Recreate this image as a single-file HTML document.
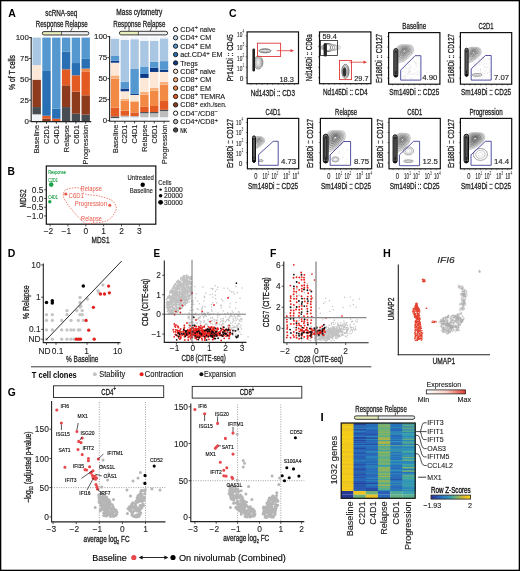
<!DOCTYPE html>
<html><head><meta charset="utf-8"><style>
html,body{margin:0;padding:0;background:#fff;}
svg{display:block;font-family:"Liberation Sans", sans-serif;filter:grayscale(0.001);}
</style></head><body>
<svg width="520" height="571" viewBox="0 0 520 571">
<rect x="0" y="0" width="520" height="571" fill="#fff"/>
<text x="8.20" y="16.60" font-size="11.5" font-weight="bold" fill="#000" textLength="7.60" lengthAdjust="spacingAndGlyphs">A</text>
<text x="61.30" y="15.80" font-size="9.0" text-anchor="middle" fill="#222" textLength="32.00" lengthAdjust="spacingAndGlyphs" stroke="#222" stroke-width="0.3">scRNA-seq</text>
<text x="35.70" y="26.80" font-size="9.0" fill="#222" textLength="52.00" lengthAdjust="spacingAndGlyphs" stroke="#222" stroke-width="0.3">Response Relapse</text>
<line x1="51.50" y1="27.60" x2="51.50" y2="31.60" stroke="#222" stroke-width="0.7"/>
<line x1="72.50" y1="27.60" x2="70.50" y2="31.60" stroke="#222" stroke-width="0.7"/>
<rect x="42.30" y="31.60" width="19.30" height="3.40" fill="#e9eebf"/>
<rect x="61.60" y="31.60" width="27.30" height="3.40" fill="#efefef"/>
<rect x="42.30" y="31.60" width="46.60" height="3.40" rx="1.70" fill="none" stroke="#222" stroke-width="0.9"/>
<line x1="61.60" y1="31.60" x2="61.60" y2="35.00" stroke="#222" stroke-width="0.7"/>
<rect x="32.50" y="114.33" width="8.40" height="6.67" fill="#f1f5fa"/>
<rect x="32.50" y="107.07" width="8.40" height="7.26" fill="#484d53"/>
<rect x="32.50" y="79.63" width="8.40" height="27.44" fill="#8e3a1d"/>
<rect x="32.50" y="65.12" width="8.40" height="14.51" fill="#fde8d8"/>
<rect x="32.50" y="37.60" width="8.40" height="27.52" fill="#a9c7e3"/>
<rect x="42.30" y="118.50" width="8.40" height="2.50" fill="#8e3a1d"/>
<rect x="42.30" y="115.75" width="8.40" height="2.75" fill="#e35b22"/>
<rect x="42.30" y="70.96" width="8.40" height="44.79" fill="#2870b3"/>
<rect x="42.30" y="37.60" width="8.40" height="33.36" fill="#5597cf"/>
<rect x="52.10" y="118.75" width="8.40" height="2.25" fill="#e35b22"/>
<rect x="52.10" y="108.74" width="8.40" height="10.01" fill="#2870b3"/>
<rect x="52.10" y="37.60" width="8.40" height="71.14" fill="#5597cf"/>
<rect x="61.90" y="107.07" width="8.40" height="13.93" fill="#484d53"/>
<rect x="61.90" y="85.30" width="8.40" height="21.77" fill="#8e3a1d"/>
<rect x="61.90" y="69.29" width="8.40" height="16.01" fill="#e35b22"/>
<rect x="61.90" y="51.78" width="8.40" height="17.51" fill="#2870b3"/>
<rect x="61.90" y="37.60" width="8.40" height="14.18" fill="#5597cf"/>
<rect x="71.70" y="113.74" width="8.40" height="7.26" fill="#484d53"/>
<rect x="71.70" y="91.64" width="8.40" height="22.10" fill="#8e3a1d"/>
<rect x="71.70" y="75.30" width="8.40" height="16.35" fill="#e35b22"/>
<rect x="71.70" y="63.04" width="8.40" height="12.26" fill="#2870b3"/>
<rect x="71.70" y="37.60" width="8.40" height="25.44" fill="#5597cf"/>
<rect x="81.50" y="114.66" width="8.40" height="6.34" fill="#484d53"/>
<rect x="81.50" y="95.31" width="8.40" height="19.35" fill="#8e3a1d"/>
<rect x="81.50" y="71.38" width="8.40" height="23.94" fill="#e35b22"/>
<rect x="81.50" y="68.62" width="8.40" height="2.75" fill="#f28a45"/>
<rect x="81.50" y="58.87" width="8.40" height="9.76" fill="#2870b3"/>
<rect x="81.50" y="37.60" width="8.40" height="21.27" fill="#5597cf"/>
<line x1="31.20" y1="37.10" x2="31.20" y2="121.60" stroke="#222" stroke-width="1.1"/>
<line x1="30.70" y1="121.60" x2="91.30" y2="121.60" stroke="#222" stroke-width="1.1"/>
<line x1="29.00" y1="121.00" x2="31.20" y2="121.00" stroke="#222" stroke-width="0.9"/>
<text x="28.80" y="123.80" font-size="7.9" text-anchor="end" fill="#222" stroke="#222" stroke-width="0.14">0</text>
<line x1="29.00" y1="100.15" x2="31.20" y2="100.15" stroke="#222" stroke-width="0.9"/>
<text x="28.80" y="102.95" font-size="7.9" text-anchor="end" fill="#222" stroke="#222" stroke-width="0.14">25</text>
<line x1="29.00" y1="79.30" x2="31.20" y2="79.30" stroke="#222" stroke-width="0.9"/>
<text x="28.80" y="82.10" font-size="7.9" text-anchor="end" fill="#222" stroke="#222" stroke-width="0.14">50</text>
<line x1="29.00" y1="58.45" x2="31.20" y2="58.45" stroke="#222" stroke-width="0.9"/>
<text x="28.80" y="61.25" font-size="7.9" text-anchor="end" fill="#222" stroke="#222" stroke-width="0.14">75</text>
<line x1="29.00" y1="37.60" x2="31.20" y2="37.60" stroke="#222" stroke-width="0.9"/>
<text x="28.80" y="40.40" font-size="7.9" text-anchor="end" fill="#222" stroke="#222" stroke-width="0.14">100</text>
<line x1="36.70" y1="121.60" x2="36.70" y2="123.80" stroke="#222" stroke-width="0.9"/>
<text x="39.30" y="125.00" font-size="7.4" text-anchor="end" fill="#222" stroke="#222" stroke-width="0.14" transform="rotate(-90 39.30 125.00)">Baseline</text>
<line x1="46.50" y1="121.60" x2="46.50" y2="123.80" stroke="#222" stroke-width="0.9"/>
<text x="49.10" y="125.00" font-size="7.4" text-anchor="end" fill="#222" stroke="#222" stroke-width="0.14" transform="rotate(-90 49.10 125.00)">C2D1</text>
<line x1="56.30" y1="121.60" x2="56.30" y2="123.80" stroke="#222" stroke-width="0.9"/>
<text x="58.90" y="125.00" font-size="7.4" text-anchor="end" fill="#222" stroke="#222" stroke-width="0.14" transform="rotate(-90 58.90 125.00)">C4D1</text>
<line x1="66.10" y1="121.60" x2="66.10" y2="123.80" stroke="#222" stroke-width="0.9"/>
<text x="68.70" y="125.00" font-size="7.4" text-anchor="end" fill="#222" stroke="#222" stroke-width="0.14" transform="rotate(-90 68.70 125.00)">Relapse</text>
<line x1="75.90" y1="121.60" x2="75.90" y2="123.80" stroke="#222" stroke-width="0.9"/>
<text x="78.50" y="125.00" font-size="7.4" text-anchor="end" fill="#222" stroke="#222" stroke-width="0.14" transform="rotate(-90 78.50 125.00)">C6D1</text>
<line x1="85.70" y1="121.60" x2="85.70" y2="123.80" stroke="#222" stroke-width="0.9"/>
<text x="88.30" y="125.00" font-size="7.4" text-anchor="end" fill="#222" stroke="#222" stroke-width="0.14" transform="rotate(-90 88.30 125.00)">Progression</text>
<text x="14.60" y="72.50" font-size="9.0" text-anchor="middle" fill="#222" textLength="35.00" lengthAdjust="spacingAndGlyphs" stroke="#222" stroke-width="0.3" transform="rotate(-90 14.60 72.50)">% of T cells</text>
<text x="139.30" y="14.80" font-size="9.0" text-anchor="middle" fill="#222" textLength="46.00" lengthAdjust="spacingAndGlyphs" stroke="#222" stroke-width="0.3">Mass cytometry</text>
<text x="113.20" y="26.80" font-size="9.0" fill="#222" textLength="52.20" lengthAdjust="spacingAndGlyphs" stroke="#222" stroke-width="0.3">Response Relapse</text>
<line x1="129.00" y1="27.00" x2="129.00" y2="31.30" stroke="#222" stroke-width="0.7"/>
<line x1="151.80" y1="27.00" x2="150.00" y2="31.30" stroke="#222" stroke-width="0.7"/>
<rect x="119.40" y="31.30" width="19.00" height="3.60" fill="#e9eebf"/>
<rect x="138.40" y="31.30" width="29.20" height="3.60" fill="#efefef"/>
<rect x="119.40" y="31.30" width="48.20" height="3.60" rx="1.80" fill="none" stroke="#222" stroke-width="0.9"/>
<line x1="138.40" y1="31.30" x2="138.40" y2="34.90" stroke="#222" stroke-width="0.7"/>
<rect x="110.80" y="118.08" width="8.40" height="2.52" fill="#f1f5fa"/>
<rect x="110.80" y="116.40" width="8.40" height="1.68" fill="#484d53"/>
<rect x="110.80" y="107.66" width="8.40" height="8.74" fill="#e35b22"/>
<rect x="110.80" y="78.68" width="8.40" height="28.98" fill="#f28a45"/>
<rect x="110.80" y="75.41" width="8.40" height="3.28" fill="#f8b07a"/>
<rect x="110.80" y="62.72" width="8.40" height="12.68" fill="#fde8d8"/>
<rect x="110.80" y="60.79" width="8.40" height="1.93" fill="#0d3a86"/>
<rect x="110.80" y="56.00" width="8.40" height="4.79" fill="#5597cf"/>
<rect x="110.80" y="38.78" width="8.40" height="17.22" fill="#a9c7e3"/>
<rect x="110.80" y="36.60" width="8.40" height="2.18" fill="#f1f5fa"/>
<rect x="120.60" y="117.24" width="8.40" height="3.36" fill="#f1f5fa"/>
<rect x="120.60" y="115.73" width="8.40" height="1.51" fill="#bdbdbd"/>
<rect x="120.60" y="110.69" width="8.40" height="5.04" fill="#e35b22"/>
<rect x="120.60" y="100.61" width="8.40" height="10.08" fill="#f28a45"/>
<rect x="120.60" y="98.93" width="8.40" height="1.68" fill="#f8b07a"/>
<rect x="120.60" y="91.28" width="8.40" height="7.64" fill="#fde8d8"/>
<rect x="120.60" y="88.51" width="8.40" height="2.77" fill="#0d3a86"/>
<rect x="120.60" y="81.62" width="8.40" height="6.89" fill="#5597cf"/>
<rect x="120.60" y="39.96" width="8.40" height="41.66" fill="#a9c7e3"/>
<rect x="120.60" y="36.60" width="8.40" height="3.36" fill="#f1f5fa"/>
<rect x="130.40" y="117.24" width="8.40" height="3.36" fill="#f1f5fa"/>
<rect x="130.40" y="115.98" width="8.40" height="1.26" fill="#bdbdbd"/>
<rect x="130.40" y="112.37" width="8.40" height="3.61" fill="#e35b22"/>
<rect x="130.40" y="101.36" width="8.40" height="11.00" fill="#f28a45"/>
<rect x="130.40" y="94.98" width="8.40" height="6.38" fill="#fde8d8"/>
<rect x="130.40" y="93.89" width="8.40" height="1.09" fill="#0d3a86"/>
<rect x="130.40" y="69.02" width="8.40" height="24.86" fill="#5597cf"/>
<rect x="130.40" y="39.20" width="8.40" height="29.82" fill="#a9c7e3"/>
<rect x="130.40" y="36.60" width="8.40" height="2.60" fill="#f1f5fa"/>
<rect x="140.20" y="117.24" width="8.40" height="3.36" fill="#f1f5fa"/>
<rect x="140.20" y="113.21" width="8.40" height="4.03" fill="#bdbdbd"/>
<rect x="140.20" y="112.03" width="8.40" height="1.18" fill="#484d53"/>
<rect x="140.20" y="106.82" width="8.40" height="5.21" fill="#e35b22"/>
<rect x="140.20" y="94.73" width="8.40" height="12.10" fill="#f28a45"/>
<rect x="140.20" y="91.70" width="8.40" height="3.02" fill="#f8b07a"/>
<rect x="140.20" y="77.93" width="8.40" height="13.78" fill="#fde8d8"/>
<rect x="140.20" y="73.98" width="8.40" height="3.95" fill="#0d3a86"/>
<rect x="140.20" y="67.01" width="8.40" height="6.97" fill="#5597cf"/>
<rect x="140.20" y="40.97" width="8.40" height="26.04" fill="#a9c7e3"/>
<rect x="140.20" y="36.60" width="8.40" height="4.37" fill="#f1f5fa"/>
<rect x="150.00" y="117.24" width="8.40" height="3.36" fill="#f1f5fa"/>
<rect x="150.00" y="113.21" width="8.40" height="4.03" fill="#bdbdbd"/>
<rect x="150.00" y="112.03" width="8.40" height="1.18" fill="#484d53"/>
<rect x="150.00" y="105.98" width="8.40" height="6.05" fill="#e35b22"/>
<rect x="150.00" y="90.78" width="8.40" height="15.20" fill="#f28a45"/>
<rect x="150.00" y="88.01" width="8.40" height="2.77" fill="#f8b07a"/>
<rect x="150.00" y="71.96" width="8.40" height="16.04" fill="#fde8d8"/>
<rect x="150.00" y="67.76" width="8.40" height="4.20" fill="#0d3a86"/>
<rect x="150.00" y="61.88" width="8.40" height="5.88" fill="#5597cf"/>
<rect x="150.00" y="40.97" width="8.40" height="20.92" fill="#a9c7e3"/>
<rect x="150.00" y="36.60" width="8.40" height="4.37" fill="#f1f5fa"/>
<rect x="159.80" y="117.24" width="8.40" height="3.36" fill="#f1f5fa"/>
<rect x="159.80" y="111.02" width="8.40" height="6.22" fill="#bdbdbd"/>
<rect x="159.80" y="109.76" width="8.40" height="1.26" fill="#484d53"/>
<rect x="159.80" y="101.03" width="8.40" height="8.74" fill="#e35b22"/>
<rect x="159.80" y="84.56" width="8.40" height="16.46" fill="#f28a45"/>
<rect x="159.80" y="81.79" width="8.40" height="2.77" fill="#f8b07a"/>
<rect x="159.80" y="71.96" width="8.40" height="9.83" fill="#fde8d8"/>
<rect x="159.80" y="69.78" width="8.40" height="2.18" fill="#0d3a86"/>
<rect x="159.80" y="61.13" width="8.40" height="8.65" fill="#5597cf"/>
<rect x="159.80" y="38.36" width="8.40" height="22.76" fill="#a9c7e3"/>
<rect x="159.80" y="36.60" width="8.40" height="1.76" fill="#f1f5fa"/>
<line x1="109.60" y1="36.10" x2="109.60" y2="121.20" stroke="#222" stroke-width="1.1"/>
<line x1="109.10" y1="121.20" x2="169.60" y2="121.20" stroke="#222" stroke-width="1.1"/>
<line x1="107.40" y1="120.60" x2="109.60" y2="120.60" stroke="#222" stroke-width="0.9"/>
<text x="107.20" y="123.40" font-size="7.9" text-anchor="end" fill="#222" stroke="#222" stroke-width="0.14">0</text>
<line x1="107.40" y1="99.60" x2="109.60" y2="99.60" stroke="#222" stroke-width="0.9"/>
<text x="107.20" y="102.40" font-size="7.9" text-anchor="end" fill="#222" stroke="#222" stroke-width="0.14">25</text>
<line x1="107.40" y1="78.60" x2="109.60" y2="78.60" stroke="#222" stroke-width="0.9"/>
<text x="107.20" y="81.40" font-size="7.9" text-anchor="end" fill="#222" stroke="#222" stroke-width="0.14">50</text>
<line x1="107.40" y1="57.60" x2="109.60" y2="57.60" stroke="#222" stroke-width="0.9"/>
<text x="107.20" y="60.40" font-size="7.9" text-anchor="end" fill="#222" stroke="#222" stroke-width="0.14">75</text>
<line x1="107.40" y1="36.60" x2="109.60" y2="36.60" stroke="#222" stroke-width="0.9"/>
<text x="107.20" y="39.40" font-size="7.9" text-anchor="end" fill="#222" stroke="#222" stroke-width="0.14">100</text>
<line x1="115.00" y1="121.20" x2="115.00" y2="123.40" stroke="#222" stroke-width="0.9"/>
<text x="117.60" y="124.60" font-size="7.4" text-anchor="end" fill="#222" stroke="#222" stroke-width="0.14" transform="rotate(-90 117.60 124.60)">Baseline</text>
<line x1="124.80" y1="121.20" x2="124.80" y2="123.40" stroke="#222" stroke-width="0.9"/>
<text x="127.40" y="124.60" font-size="7.4" text-anchor="end" fill="#222" stroke="#222" stroke-width="0.14" transform="rotate(-90 127.40 124.60)">C2D1</text>
<line x1="134.60" y1="121.20" x2="134.60" y2="123.40" stroke="#222" stroke-width="0.9"/>
<text x="137.20" y="124.60" font-size="7.4" text-anchor="end" fill="#222" stroke="#222" stroke-width="0.14" transform="rotate(-90 137.20 124.60)">C4D1</text>
<line x1="144.40" y1="121.20" x2="144.40" y2="123.40" stroke="#222" stroke-width="0.9"/>
<text x="147.00" y="124.60" font-size="7.4" text-anchor="end" fill="#222" stroke="#222" stroke-width="0.14" transform="rotate(-90 147.00 124.60)">Relapse</text>
<line x1="154.20" y1="121.20" x2="154.20" y2="123.40" stroke="#222" stroke-width="0.9"/>
<text x="156.80" y="124.60" font-size="7.4" text-anchor="end" fill="#222" stroke="#222" stroke-width="0.14" transform="rotate(-90 156.80 124.60)">C6D1</text>
<line x1="164.00" y1="121.20" x2="164.00" y2="123.40" stroke="#222" stroke-width="0.9"/>
<text x="166.60" y="124.60" font-size="7.4" text-anchor="end" fill="#222" stroke="#222" stroke-width="0.14" transform="rotate(-90 166.60 124.60)">Progression</text>
<circle cx="175.60" cy="29.40" r="2.15" fill="#ffffff" stroke="#1a1a1a" stroke-width="1.0"/>
<text x="180.2" y="32.00" font-size="7.2" fill="#1a1a1a" stroke="#1a1a1a" stroke-width="0.14">CD4<tspan font-size="6" dy="-2.6">+</tspan><tspan font-size="6.6" dy="2.6"> naive</tspan></text>
<circle cx="175.60" cy="37.78" r="2.15" fill="#bcd7ee" stroke="#1a1a1a" stroke-width="1.0"/>
<text x="180.2" y="40.38" font-size="7.2" fill="#1a1a1a" stroke="#1a1a1a" stroke-width="0.14">CD4<tspan font-size="6" dy="-2.6">+</tspan><tspan font-size="7.2" dy="2.6"> CM</tspan></text>
<circle cx="175.60" cy="46.16" r="2.15" fill="#5597cf" stroke="#1a1a1a" stroke-width="1.0"/>
<text x="180.2" y="48.76" font-size="7.2" fill="#1a1a1a" stroke="#1a1a1a" stroke-width="0.14">CD4<tspan font-size="6" dy="-2.6">+</tspan><tspan font-size="7.2" dy="2.6"> EM</tspan></text>
<circle cx="175.60" cy="54.54" r="2.15" fill="#2870b3" stroke="#1a1a1a" stroke-width="1.0"/>
<text x="180.2" y="57.14" font-size="7.2" fill="#1a1a1a" stroke="#1a1a1a" stroke-width="0.14">act.CD4<tspan font-size="6" dy="-2.6">+</tspan><tspan font-size="7.2" dy="2.6"> EM</tspan></text>
<circle cx="175.60" cy="62.92" r="2.15" fill="#0d3a86" stroke="#1a1a1a" stroke-width="1.0"/>
<text x="180.20" y="65.52" font-size="7.0" fill="#222" stroke="#222" stroke-width="0.14">Tregs</text>
<circle cx="175.60" cy="71.30" r="2.15" fill="#fde8d8" stroke="#1a1a1a" stroke-width="1.0"/>
<text x="180.2" y="73.90" font-size="7.2" fill="#1a1a1a" stroke="#1a1a1a" stroke-width="0.14">CD8<tspan font-size="6" dy="-2.6">+</tspan><tspan font-size="6.6" dy="2.6"> naive</tspan></text>
<circle cx="175.60" cy="79.68" r="2.15" fill="#f8b07a" stroke="#1a1a1a" stroke-width="1.0"/>
<text x="180.2" y="82.28" font-size="7.2" fill="#1a1a1a" stroke="#1a1a1a" stroke-width="0.14">CD8<tspan font-size="6" dy="-2.6">+</tspan><tspan font-size="7.2" dy="2.6"> CM</tspan></text>
<circle cx="175.60" cy="88.06" r="2.15" fill="#f28a45" stroke="#1a1a1a" stroke-width="1.0"/>
<text x="180.2" y="90.66" font-size="7.2" fill="#1a1a1a" stroke="#1a1a1a" stroke-width="0.14">CD8<tspan font-size="6" dy="-2.6">+</tspan><tspan font-size="7.2" dy="2.6"> EM</tspan></text>
<circle cx="175.60" cy="96.44" r="2.15" fill="#e35b22" stroke="#1a1a1a" stroke-width="1.0"/>
<text x="180.2" y="99.04" font-size="7.2" fill="#1a1a1a" stroke="#1a1a1a" stroke-width="0.14">CD8<tspan font-size="6" dy="-2.6">+</tspan><tspan font-size="7.2" dy="2.6"> TEMRA</tspan></text>
<circle cx="175.60" cy="104.82" r="2.15" fill="#8e3a1d" stroke="#1a1a1a" stroke-width="1.0"/>
<text x="180.2" y="107.42" font-size="7.2" fill="#1a1a1a" stroke="#1a1a1a" stroke-width="0.14">CD8<tspan font-size="6" dy="-2.6">+</tspan><tspan font-size="6.6" dy="2.6"> exh./sen.</tspan></text>
<circle cx="175.60" cy="113.20" r="2.15" fill="#ffffff" stroke="#1a1a1a" stroke-width="1.0"/>
<text x="180.2" y="115.80" font-size="7.2" fill="#1a1a1a" stroke="#1a1a1a" stroke-width="0.14">CD4<tspan font-size="6" dy="-2.6">−</tspan><tspan dy="2.6">/CD8</tspan><tspan font-size="6" dy="-2.6">−</tspan></text>
<circle cx="175.60" cy="121.58" r="2.15" fill="#bdbdbd" stroke="#1a1a1a" stroke-width="1.0"/>
<text x="180.2" y="124.18" font-size="7.2" fill="#1a1a1a" stroke="#1a1a1a" stroke-width="0.14">CD4<tspan font-size="6" dy="-2.6">+</tspan><tspan dy="2.6">/CD8</tspan><tspan font-size="6" dy="-2.6">+</tspan></text>
<circle cx="175.60" cy="129.96" r="2.15" fill="#484d53" stroke="#1a1a1a" stroke-width="1.0"/>
<text x="180.20" y="132.56" font-size="6.8" font-weight="bold" fill="#222" textLength="7.00" lengthAdjust="spacingAndGlyphs">NK</text>
<text x="229.00" y="17.20" font-size="11.5" font-weight="bold" fill="#000" textLength="7.60" lengthAdjust="spacingAndGlyphs">C</text>
<ellipse cx="258.30" cy="62.50" rx="4.60" ry="6.50" fill="none" stroke="#282828" stroke-width="0.5"/>
<ellipse cx="258.30" cy="62.50" rx="3.83" ry="5.42" fill="none" stroke="#4a4a4a" stroke-width="0.5"/>
<ellipse cx="258.30" cy="62.50" rx="3.07" ry="4.33" fill="none" stroke="#6c6c6c" stroke-width="0.5"/>
<ellipse cx="258.30" cy="62.50" rx="2.30" ry="3.25" fill="none" stroke="#8e8e8e" stroke-width="0.5"/>
<ellipse cx="258.30" cy="62.50" rx="1.53" ry="2.17" fill="none" stroke="#b0b0b0" stroke-width="0.5"/>
<ellipse cx="258.30" cy="62.50" rx="0.77" ry="1.08" fill="none" stroke="#d2d2d2" stroke-width="0.5"/>
<rect x="252.4" y="48.6" width="2.6" height="23" rx="1.3" fill="#222"/>
<ellipse cx="265.00" cy="50.80" rx="6.00" ry="2.00" fill="none" stroke="#282828" stroke-width="0.6"/>
<ellipse cx="265.00" cy="50.80" rx="4.50" ry="1.50" fill="none" stroke="#606060" stroke-width="0.6"/>
<ellipse cx="265.00" cy="50.80" rx="3.00" ry="1.00" fill="none" stroke="#999999" stroke-width="0.6"/>
<ellipse cx="265.00" cy="50.80" rx="1.50" ry="0.50" fill="none" stroke="#d2d2d2" stroke-width="0.6"/>
<rect x="257.50" y="43.20" width="23.10" height="13.30" fill="none" stroke="#e03a3a" stroke-width="0.9"/>
<line x1="276.80" y1="50.70" x2="291.50" y2="50.70" stroke="#e03a3a" stroke-width="0.8"/>
<polygon points="294,50.7 290.5,49.1 290.5,52.3" fill="#e03a3a"/>
<text x="293.80" y="81.60" font-size="7.4" text-anchor="end" fill="#222" stroke="#222" stroke-width="0.14">18.3</text>
<line x1="251.10" y1="83.70" x2="251.10" y2="85.10" stroke="#333" stroke-width="0.5"/>
<line x1="256.52" y1="83.70" x2="256.52" y2="85.10" stroke="#333" stroke-width="0.5"/>
<line x1="261.95" y1="83.70" x2="261.95" y2="85.10" stroke="#333" stroke-width="0.5"/>
<line x1="267.38" y1="83.70" x2="267.38" y2="85.10" stroke="#333" stroke-width="0.5"/>
<line x1="272.80" y1="83.70" x2="272.80" y2="85.10" stroke="#333" stroke-width="0.5"/>
<line x1="278.23" y1="83.70" x2="278.23" y2="85.10" stroke="#333" stroke-width="0.5"/>
<line x1="283.65" y1="83.70" x2="283.65" y2="85.10" stroke="#333" stroke-width="0.5"/>
<line x1="289.07" y1="83.70" x2="289.07" y2="85.10" stroke="#333" stroke-width="0.5"/>
<line x1="294.50" y1="83.70" x2="294.50" y2="85.10" stroke="#333" stroke-width="0.5"/>
<line x1="245.60" y1="35.90" x2="247.10" y2="35.90" stroke="#333" stroke-width="0.6"/>
<line x1="245.60" y1="46.35" x2="247.10" y2="46.35" stroke="#333" stroke-width="0.6"/>
<line x1="245.60" y1="56.80" x2="247.10" y2="56.80" stroke="#333" stroke-width="0.6"/>
<line x1="245.60" y1="67.25" x2="247.10" y2="67.25" stroke="#333" stroke-width="0.6"/>
<line x1="245.60" y1="77.70" x2="247.10" y2="77.70" stroke="#333" stroke-width="0.6"/>
<rect x="247.10" y="31.90" width="51.40" height="51.80" fill="none" stroke="#111" stroke-width="1.2"/>
<text x="242.40" y="36.70" font-size="8.0" text-anchor="end" fill="#222" stroke="#222" stroke-width="0.12" textLength="5.3" lengthAdjust="spacingAndGlyphs">10</text>
<text x="242.60" y="32.70" font-size="4.6" fill="#222" textLength="1.8" lengthAdjust="spacingAndGlyphs">4</text>
<text x="242.40" y="49.50" font-size="8.0" text-anchor="end" fill="#222" stroke="#222" stroke-width="0.12" textLength="5.3" lengthAdjust="spacingAndGlyphs">10</text>
<text x="242.60" y="45.50" font-size="4.6" fill="#222" textLength="1.8" lengthAdjust="spacingAndGlyphs">3</text>
<text x="242.40" y="61.00" font-size="8.0" text-anchor="end" fill="#222" stroke="#222" stroke-width="0.12" textLength="5.3" lengthAdjust="spacingAndGlyphs">10</text>
<text x="242.60" y="57.00" font-size="4.6" fill="#222" textLength="1.8" lengthAdjust="spacingAndGlyphs">2</text>
<text x="242.40" y="71.20" font-size="8.0" text-anchor="end" fill="#222" stroke="#222" stroke-width="0.12" textLength="5.3" lengthAdjust="spacingAndGlyphs">10</text>
<text x="242.60" y="67.20" font-size="4.6" fill="#222" textLength="1.8" lengthAdjust="spacingAndGlyphs">1</text>
<text x="243.40" y="80.60" font-size="8.0" text-anchor="end" fill="#222" textLength="3.60" lengthAdjust="spacingAndGlyphs" stroke="#222" stroke-width="0.12">0</text>
<text x="233.20" y="57.80" font-size="9.2" text-anchor="middle" fill="#222" textLength="47.00" lengthAdjust="spacingAndGlyphs" stroke="#222" stroke-width="0.3" transform="rotate(-90 233.20 57.80)">Pr141Di :: CD45</text>
<text x="272.80" y="95.60" font-size="9.2" text-anchor="middle" fill="#222" textLength="44.30" lengthAdjust="spacingAndGlyphs" stroke="#222" stroke-width="0.3">Nd143Di :: CD3</text>
<ellipse cx="327.50" cy="47.50" rx="3.00" ry="4.00" fill="none" stroke="#1e1e1e" stroke-width="0.6"/>
<ellipse cx="328.10" cy="47.50" rx="4.50" ry="3.80" fill="none" stroke="#3e3e3e" stroke-width="0.6"/>
<ellipse cx="328.70" cy="47.50" rx="6.00" ry="3.60" fill="none" stroke="#5e5e5e" stroke-width="0.6"/>
<ellipse cx="329.30" cy="47.50" rx="7.50" ry="3.40" fill="none" stroke="#7e7e7e" stroke-width="0.6"/>
<ellipse cx="329.90" cy="47.50" rx="9.00" ry="3.20" fill="none" stroke="#9e9e9e" stroke-width="0.6"/>
<ellipse cx="330.50" cy="47.50" rx="10.50" ry="3.00" fill="none" stroke="#bebebe" stroke-width="0.6"/>
<rect x="323.6" y="43" width="3.3" height="13.5" rx="1.6" fill="#222"/>
<rect x="320.50" y="40.40" width="16.90" height="15.10" fill="none" stroke="#222" stroke-width="0.8"/>
<text x="329.70" y="39.30" font-size="7.4" text-anchor="middle" fill="#222" stroke="#222" stroke-width="0.14">59.4</text>
<ellipse cx="345.40" cy="71.30" rx="3.60" ry="7.00" fill="none" stroke="#282828" stroke-width="0.6"/>
<ellipse cx="345.40" cy="71.30" rx="2.88" ry="5.60" fill="none" stroke="#525252" stroke-width="0.6"/>
<ellipse cx="345.40" cy="71.30" rx="2.16" ry="4.20" fill="none" stroke="#7d7d7d" stroke-width="0.6"/>
<ellipse cx="345.40" cy="71.30" rx="1.44" ry="2.80" fill="none" stroke="#a7a7a7" stroke-width="0.6"/>
<ellipse cx="345.40" cy="71.30" rx="0.72" ry="1.40" fill="none" stroke="#d2d2d2" stroke-width="0.6"/>
<ellipse cx="344.6" cy="72" rx="1.8" ry="4.5" fill="#333"/>
<rect x="339.50" y="60.40" width="12.00" height="19.20" fill="none" stroke="#e03a3a" stroke-width="0.9"/>
<line x1="349.50" y1="62.20" x2="364.50" y2="62.20" stroke="#e03a3a" stroke-width="0.8"/>
<polygon points="367,62.2 363.5,60.6 363.5,63.8" fill="#e03a3a"/>
<text x="368.60" y="81.20" font-size="7.4" text-anchor="end" fill="#222" stroke="#222" stroke-width="0.14">29.7</text>
<line x1="323.50" y1="83.70" x2="323.50" y2="85.10" stroke="#333" stroke-width="0.5"/>
<line x1="328.93" y1="83.70" x2="328.93" y2="85.10" stroke="#333" stroke-width="0.5"/>
<line x1="334.35" y1="83.70" x2="334.35" y2="85.10" stroke="#333" stroke-width="0.5"/>
<line x1="339.77" y1="83.70" x2="339.77" y2="85.10" stroke="#333" stroke-width="0.5"/>
<line x1="345.20" y1="83.70" x2="345.20" y2="85.10" stroke="#333" stroke-width="0.5"/>
<line x1="350.62" y1="83.70" x2="350.62" y2="85.10" stroke="#333" stroke-width="0.5"/>
<line x1="356.05" y1="83.70" x2="356.05" y2="85.10" stroke="#333" stroke-width="0.5"/>
<line x1="361.48" y1="83.70" x2="361.48" y2="85.10" stroke="#333" stroke-width="0.5"/>
<line x1="366.90" y1="83.70" x2="366.90" y2="85.10" stroke="#333" stroke-width="0.5"/>
<line x1="318.00" y1="35.90" x2="319.50" y2="35.90" stroke="#333" stroke-width="0.6"/>
<line x1="318.00" y1="46.35" x2="319.50" y2="46.35" stroke="#333" stroke-width="0.6"/>
<line x1="318.00" y1="56.80" x2="319.50" y2="56.80" stroke="#333" stroke-width="0.6"/>
<line x1="318.00" y1="67.25" x2="319.50" y2="67.25" stroke="#333" stroke-width="0.6"/>
<line x1="318.00" y1="77.70" x2="319.50" y2="77.70" stroke="#333" stroke-width="0.6"/>
<rect x="319.50" y="31.90" width="51.40" height="51.80" fill="none" stroke="#111" stroke-width="1.2"/>
<text x="312.20" y="57.80" font-size="9.2" text-anchor="middle" fill="#222" textLength="47.00" lengthAdjust="spacingAndGlyphs" stroke="#222" stroke-width="0.3" transform="rotate(-90 312.20 57.80)">Nd146Di :: CD8a</text>
<text x="345.30" y="95.40" font-size="9.2" text-anchor="middle" fill="#222" textLength="44.60" lengthAdjust="spacingAndGlyphs" stroke="#222" stroke-width="0.3">Nd145Di :: CD4</text>
<path d="M419.8 76.6h0.5 M409.1 65.0h0.5 M417.3 74.9h0.5 M419.2 75.0h0.5 M404.6 69.5h0.5 M407.8 63.7h0.5 M410.3 73.8h0.5 M417.6 63.4h0.5 M414.4 73.8h0.5 M410.8 79.1h0.5 M410.4 65.9h0.5 M402.9 78.5h0.5 M403.6 59.3h0.5 M408.1 68.5h0.5 M419.1 74.7h0.5 M405.9 59.5h0.5 M412.6 73.4h0.5 M406.3 59.0h0.5 M404.1 64.0h0.5 M415.5 62.5h0.5 M408.5 64.9h0.5 M415.4 63.8h0.5 M402.2 71.4h0.5 M407.6 74.1h0.5 M410.5 70.5h0.5 M403.8 61.3h0.5 M405.1 78.5h0.5 M419.5 61.9h0.5 M406.0 59.7h0.5 M407.3 62.7h0.5 M418.1 58.1h0.5 M404.9 75.0h0.5 M405.3 68.0h0.5 M416.5 57.9h0.5 M415.8 65.2h0.5 M412.6 78.8h0.5 M416.0 66.3h0.5 M409.6 74.9h0.5 M403.5 61.4h0.5 M410.5 67.4h0.5 M414.1 74.1h0.5 M408.2 71.7h0.5 M402.6 60.5h0.5 M405.7 75.1h0.5 M403.6 76.4h0.5 M405.5 67.1h0.5 M409.5 68.7h0.5 M412.8 74.2h0.5 M405.6 62.0h0.5 M402.6 62.4h0.5 M413.7 68.9h0.5 M415.5 62.8h0.5 M410.8 65.7h0.5 M406.2 68.6h0.5 M408.4 62.2h0.5 M416.7 74.2h0.5 M405.4 76.9h0.5 M409.5 70.6h0.5 M404.6 66.7h0.5 M417.6 72.0h0.5 M415.7 67.4h0.5 M406.7 72.0h0.5 M418.8 71.6h0.5 M412.9 58.6h0.5 M409.4 69.6h0.5 M419.6 67.9h0.5 M418.7 59.3h0.5 M416.4 60.9h0.5 M404.0 62.0h0.5 M408.5 72.3h0.5 M403.3 67.6h0.5 M404.7 77.7h0.5 M411.6 78.4h0.5 M410.0 77.9h0.5 M405.4 73.1h0.5 M407.1 74.0h0.5 M403.8 78.2h0.5 M410.9 68.0h0.5 M417.0 71.0h0.5 M414.2 62.1h0.5 M402.7 68.6h0.5 M409.6 72.3h0.5 M409.2 72.0h0.5 M410.7 67.4h0.5 M404.4 71.5h0.5 M406.2 61.1h0.5 M403.3 71.9h0.5 M416.5 64.0h0.5 M404.2 75.8h0.5 M403.4 61.9h0.5 M407.3 68.1h0.5 M405.6 68.1h0.5 M409.3 77.3h0.5 M407.3 76.6h0.5 M414.8 72.8h0.5 M402.8 77.2h0.5 M419.0 72.5h0.5 M408.2 73.0h0.5 M410.1 71.6h0.5 M408.7 71.4h0.5 M403.4 58.8h0.5 M417.4 73.7h0.5 M411.1 74.6h0.5 M404.1 61.4h0.5 M414.8 70.0h0.5 M413.2 60.7h0.5 M414.2 76.7h0.5 M413.9 61.5h0.5 M408.0 67.8h0.5 M408.3 74.1h0.5" stroke="#b0b0b0" stroke-width="0.45"/>
<path d="M395.30 52.60 Q395.30 44.60 403.45 44.60 Q411.60 44.60 412.60 46.10 Q413.60 47.60 413.50 50.73 Q413.40 53.85 408.49 57.73 Q403.59 61.60 399.94 62.60 Q396.30 63.60 395.80 62.10 Q395.30 60.60 395.30 52.60Z" fill="#3a3a3a" fill-opacity="0.070" stroke="#969696" stroke-width="0.5"/>
<path d="M396.61 52.33 Q396.61 45.47 403.59 45.47 Q410.58 45.47 411.44 46.76 Q412.29 48.04 412.21 50.72 Q412.12 53.40 407.92 56.72 Q403.71 60.04 400.59 60.90 Q397.46 61.76 397.04 60.47 Q396.61 59.19 396.61 52.33Z" fill="#3a3a3a" fill-opacity="0.070" stroke="#838383" stroke-width="0.5"/>
<path d="M397.91 52.06 Q397.91 46.34 403.74 46.34 Q409.56 46.34 410.27 47.41 Q410.99 48.49 410.91 50.72 Q410.84 52.95 407.34 55.72 Q403.83 58.49 401.23 59.20 Q398.63 59.91 398.27 58.84 Q397.91 57.77 397.91 52.06Z" fill="#3a3a3a" fill-opacity="0.070" stroke="#717171" stroke-width="0.5"/>
<path d="M399.22 51.79 Q399.22 47.21 403.88 47.21 Q408.54 47.21 409.11 48.07 Q409.68 48.93 409.62 50.71 Q409.56 52.50 406.76 54.71 Q403.96 56.93 401.87 57.50 Q399.79 58.07 399.51 57.21 Q399.22 56.36 399.22 51.79Z" fill="#3a3a3a" fill-opacity="0.070" stroke="#5f5f5f" stroke-width="0.5"/>
<path d="M400.53 51.51 Q400.53 48.09 404.02 48.09 Q407.51 48.09 407.94 48.73 Q408.37 49.37 408.33 50.71 Q408.29 52.05 406.18 53.71 Q404.08 55.37 402.52 55.80 Q400.96 56.23 400.74 55.59 Q400.53 54.94 400.53 51.51Z" fill="#3a3a3a" fill-opacity="0.070" stroke="#4c4c4c" stroke-width="0.5"/>
<path d="M401.84 51.24 Q401.84 48.96 404.16 48.96 Q406.49 48.96 406.78 49.39 Q407.06 49.81 407.04 50.71 Q407.01 51.60 405.61 52.71 Q404.20 53.81 403.16 54.10 Q402.12 54.39 401.98 53.96 Q401.84 53.53 401.84 51.24Z" fill="#3a3a3a" fill-opacity="0.070" stroke="#3a3a3a" stroke-width="0.5"/>
<path d="M403.14 50.97 Q403.14 49.83 404.31 49.83 Q405.47 49.83 405.61 50.04 Q405.76 50.26 405.74 50.70 Q405.73 51.15 405.03 51.70 Q404.33 52.26 403.81 52.40 Q403.29 52.54 403.21 52.33 Q403.14 52.11 403.14 50.97Z" fill="#f4f4f4" fill-opacity="0.900" stroke="#282828" stroke-width="0.5"/>
<rect x="393.80" y="48.60" width="4.00" height="28.50" rx="2.00" fill="#7a7a7a" stroke="#111" stroke-width="1.0"/>
<rect x="394.90" y="50.60" width="1.80" height="23.50" rx="0.90" fill="#2a2a2a" stroke="#111" stroke-width="0.4"/>
<line x1="395.80" y1="52.60" x2="395.80" y2="71.10" stroke="#9a9a9a" stroke-width="0.5"/>
<ellipse cx="395.80" cy="75.80" rx="1.6" ry="1.3" fill="#111"/>
<polygon points="400.70,70.10 415.10,55.70 420.90,55.70 420.90,80.10 400.70,80.10" fill="none" stroke="#4a4a9a" stroke-width="0.95"/>
<text x="437.40" y="79.60" font-size="7.8" text-anchor="end" fill="#222" stroke="#222" stroke-width="0.14">4.90</text>
<line x1="392.60" y1="84.20" x2="392.60" y2="85.60" stroke="#333" stroke-width="0.5"/>
<line x1="398.01" y1="84.20" x2="398.01" y2="85.60" stroke="#333" stroke-width="0.5"/>
<line x1="403.43" y1="84.20" x2="403.43" y2="85.60" stroke="#333" stroke-width="0.5"/>
<line x1="408.84" y1="84.20" x2="408.84" y2="85.60" stroke="#333" stroke-width="0.5"/>
<line x1="414.25" y1="84.20" x2="414.25" y2="85.60" stroke="#333" stroke-width="0.5"/>
<line x1="419.66" y1="84.20" x2="419.66" y2="85.60" stroke="#333" stroke-width="0.5"/>
<line x1="425.08" y1="84.20" x2="425.08" y2="85.60" stroke="#333" stroke-width="0.5"/>
<line x1="430.49" y1="84.20" x2="430.49" y2="85.60" stroke="#333" stroke-width="0.5"/>
<line x1="435.90" y1="84.20" x2="435.90" y2="85.60" stroke="#333" stroke-width="0.5"/>
<line x1="387.10" y1="36.60" x2="388.60" y2="36.60" stroke="#333" stroke-width="0.6"/>
<line x1="387.10" y1="47.00" x2="388.60" y2="47.00" stroke="#333" stroke-width="0.6"/>
<line x1="387.10" y1="57.40" x2="388.60" y2="57.40" stroke="#333" stroke-width="0.6"/>
<line x1="387.10" y1="67.80" x2="388.60" y2="67.80" stroke="#333" stroke-width="0.6"/>
<line x1="387.10" y1="78.20" x2="388.60" y2="78.20" stroke="#333" stroke-width="0.6"/>
<rect x="388.60" y="32.60" width="51.30" height="51.60" fill="none" stroke="#111" stroke-width="1.2"/>
<text x="414.25" y="29.20" font-size="9.2" text-anchor="middle" fill="#222" textLength="23.80" lengthAdjust="spacingAndGlyphs" stroke="#222" stroke-width="0.3">Baseline</text>
<text x="382.10" y="58.40" font-size="9.2" text-anchor="middle" fill="#222" textLength="49.00" lengthAdjust="spacingAndGlyphs" stroke="#222" stroke-width="0.3" transform="rotate(-90 382.10 58.40)">Er168Di :: CD127</text>
<text x="414.25" y="95.20" font-size="9.2" text-anchor="middle" fill="#222" textLength="50.00" lengthAdjust="spacingAndGlyphs" stroke="#222" stroke-width="0.3">Sm149Di :: CD25</text>
<path d="M479.9 64.4h0.5 M481.1 62.6h0.5 M485.8 78.0h0.5 M482.9 58.3h0.5 M489.0 69.4h0.5 M480.5 69.5h0.5 M472.5 68.0h0.5 M473.5 71.0h0.5 M474.4 64.7h0.5 M483.7 76.4h0.5 M480.4 69.8h0.5 M487.9 59.1h0.5 M480.1 73.2h0.5 M477.6 76.9h0.5 M480.6 70.9h0.5 M478.9 63.8h0.5 M483.7 61.1h0.5 M474.8 64.3h0.5 M489.6 62.8h0.5 M483.5 65.9h0.5 M483.7 63.4h0.5 M485.6 71.7h0.5 M485.3 66.5h0.5 M485.5 70.5h0.5 M477.1 75.5h0.5 M488.3 64.2h0.5 M487.0 67.5h0.5 M479.1 78.4h0.5 M479.6 61.5h0.5 M474.4 75.8h0.5 M483.6 58.8h0.5 M479.4 59.5h0.5 M489.4 72.5h0.5 M484.5 73.2h0.5 M484.8 59.7h0.5 M489.5 59.0h0.5 M481.8 75.0h0.5 M487.4 72.2h0.5 M474.8 68.3h0.5 M484.4 66.0h0.5 M474.8 58.9h0.5 M488.7 67.3h0.5 M481.2 59.1h0.5 M486.3 63.5h0.5 M489.6 70.2h0.5 M483.3 64.4h0.5 M485.6 60.4h0.5 M475.0 76.9h0.5 M473.8 65.9h0.5 M480.7 72.8h0.5 M486.7 60.8h0.5 M486.4 64.5h0.5 M487.1 66.3h0.5 M480.4 71.8h0.5 M487.0 73.7h0.5 M475.6 64.4h0.5 M479.3 63.8h0.5 M475.5 77.6h0.5 M481.1 73.5h0.5 M474.7 64.1h0.5 M477.9 75.7h0.5 M485.6 67.6h0.5 M479.6 59.2h0.5 M478.0 69.9h0.5 M478.0 59.8h0.5 M482.0 77.8h0.5 M488.9 58.7h0.5 M477.9 70.7h0.5 M474.1 62.8h0.5 M476.4 75.3h0.5 M483.9 74.0h0.5 M489.6 71.5h0.5 M475.9 69.8h0.5 M480.1 69.1h0.5 M475.7 62.4h0.5 M480.9 62.5h0.5 M482.4 74.7h0.5 M488.8 59.7h0.5 M473.6 64.0h0.5 M484.6 67.5h0.5 M480.6 69.0h0.5 M488.0 72.2h0.5 M478.1 58.4h0.5 M489.7 78.9h0.5 M486.9 73.2h0.5 M483.4 69.0h0.5 M474.9 77.1h0.5 M482.4 72.5h0.5 M483.7 58.7h0.5 M489.5 74.7h0.5" stroke="#b0b0b0" stroke-width="0.45"/>
<path d="M466.05 53.85 Q466.05 47.10 472.67 47.10 Q479.30 47.10 480.30 48.60 Q481.30 50.10 481.20 52.60 Q481.10 55.10 477.03 58.35 Q472.96 61.60 470.01 62.60 Q467.05 63.60 466.55 62.10 Q466.05 60.60 466.05 53.85Z" fill="#3a3a3a" fill-opacity="0.050" stroke="#969696" stroke-width="0.5"/>
<path d="M467.14 53.64 Q467.14 47.86 472.82 47.86 Q478.50 47.86 479.35 49.14 Q480.21 50.43 480.12 52.57 Q480.04 54.71 476.55 57.50 Q473.06 60.29 470.53 61.14 Q468.00 62.00 467.57 60.71 Q467.14 59.43 467.14 53.64Z" fill="#3a3a3a" fill-opacity="0.050" stroke="#838383" stroke-width="0.5"/>
<path d="M468.23 53.44 Q468.23 48.61 472.96 48.61 Q477.69 48.61 478.41 49.69 Q479.12 50.76 479.05 52.54 Q478.98 54.33 476.07 56.65 Q473.17 58.97 471.05 59.69 Q468.94 60.40 468.59 59.33 Q468.23 58.26 468.23 53.44Z" fill="#3a3a3a" fill-opacity="0.050" stroke="#717171" stroke-width="0.5"/>
<path d="M469.32 53.23 Q469.32 49.37 473.10 49.37 Q476.89 49.37 477.46 50.23 Q478.03 51.09 477.97 52.51 Q477.92 53.94 475.59 55.80 Q473.27 57.66 471.58 58.23 Q469.89 58.80 469.60 57.94 Q469.32 57.09 469.32 53.23Z" fill="#3a3a3a" fill-opacity="0.050" stroke="#5f5f5f" stroke-width="0.5"/>
<path d="M470.41 53.02 Q470.41 50.13 473.25 50.13 Q476.09 50.13 476.51 50.77 Q476.94 51.41 476.90 52.49 Q476.86 53.56 475.11 54.95 Q473.37 56.34 472.10 56.77 Q470.84 57.20 470.62 56.56 Q470.41 55.91 470.41 53.02Z" fill="#3a3a3a" fill-opacity="0.050" stroke="#4c4c4c" stroke-width="0.5"/>
<path d="M471.50 52.81 Q471.50 50.89 473.39 50.89 Q475.28 50.89 475.57 51.31 Q475.85 51.74 475.82 52.46 Q475.80 53.17 474.63 54.10 Q473.47 55.03 472.63 55.31 Q471.78 55.60 471.64 55.17 Q471.50 54.74 471.50 52.81Z" fill="#3a3a3a" fill-opacity="0.050" stroke="#3a3a3a" stroke-width="0.5"/>
<path d="M472.59 52.61 Q472.59 51.64 473.53 51.64 Q474.48 51.64 474.62 51.86 Q474.76 52.07 474.75 52.43 Q474.74 52.79 474.15 53.25 Q473.57 53.71 473.15 53.86 Q472.73 54.00 472.66 53.79 Q472.59 53.57 472.59 52.61Z" fill="#f4f4f4" fill-opacity="0.900" stroke="#282828" stroke-width="0.5"/>
<ellipse cx="477.00" cy="74.90" rx="5.00" ry="1.40" fill="none" stroke="#5a5a5a" stroke-width="0.55"/>
<ellipse cx="477.00" cy="74.90" rx="3.33" ry="0.93" fill="none" stroke="#969696" stroke-width="0.55"/>
<ellipse cx="477.00" cy="74.90" rx="1.67" ry="0.47" fill="none" stroke="#d2d2d2" stroke-width="0.55"/>
<rect x="465.00" y="48.20" width="3.10" height="28.20" rx="1.55" fill="#7a7a7a" stroke="#111" stroke-width="1.0"/>
<rect x="466.10" y="50.20" width="0.90" height="23.20" rx="0.45" fill="#2a2a2a" stroke="#111" stroke-width="0.4"/>
<line x1="466.55" y1="52.20" x2="466.55" y2="70.40" stroke="#9a9a9a" stroke-width="0.5"/>
<ellipse cx="466.55" cy="75.10" rx="1.6" ry="1.3" fill="#111"/>
<polygon points="471.20,68.90 485.40,55.50 491.20,55.50 491.20,80.10 471.20,80.10" fill="none" stroke="#4a4a9a" stroke-width="0.95"/>
<text x="509.20" y="79.60" font-size="7.8" text-anchor="end" fill="#222" stroke="#222" stroke-width="0.14">7.07</text>
<line x1="464.40" y1="84.20" x2="464.40" y2="85.60" stroke="#333" stroke-width="0.5"/>
<line x1="469.81" y1="84.20" x2="469.81" y2="85.60" stroke="#333" stroke-width="0.5"/>
<line x1="475.22" y1="84.20" x2="475.22" y2="85.60" stroke="#333" stroke-width="0.5"/>
<line x1="480.64" y1="84.20" x2="480.64" y2="85.60" stroke="#333" stroke-width="0.5"/>
<line x1="486.05" y1="84.20" x2="486.05" y2="85.60" stroke="#333" stroke-width="0.5"/>
<line x1="491.46" y1="84.20" x2="491.46" y2="85.60" stroke="#333" stroke-width="0.5"/>
<line x1="496.88" y1="84.20" x2="496.88" y2="85.60" stroke="#333" stroke-width="0.5"/>
<line x1="502.29" y1="84.20" x2="502.29" y2="85.60" stroke="#333" stroke-width="0.5"/>
<line x1="507.70" y1="84.20" x2="507.70" y2="85.60" stroke="#333" stroke-width="0.5"/>
<line x1="458.90" y1="36.60" x2="460.40" y2="36.60" stroke="#333" stroke-width="0.6"/>
<line x1="458.90" y1="47.00" x2="460.40" y2="47.00" stroke="#333" stroke-width="0.6"/>
<line x1="458.90" y1="57.40" x2="460.40" y2="57.40" stroke="#333" stroke-width="0.6"/>
<line x1="458.90" y1="67.80" x2="460.40" y2="67.80" stroke="#333" stroke-width="0.6"/>
<line x1="458.90" y1="78.20" x2="460.40" y2="78.20" stroke="#333" stroke-width="0.6"/>
<rect x="460.40" y="32.60" width="51.30" height="51.60" fill="none" stroke="#111" stroke-width="1.2"/>
<text x="486.05" y="29.20" font-size="9.2" text-anchor="middle" fill="#222" textLength="15.00" lengthAdjust="spacingAndGlyphs" stroke="#222" stroke-width="0.3">C2D1</text>
<text x="454.50" y="58.40" font-size="9.2" text-anchor="middle" fill="#222" textLength="49.00" lengthAdjust="spacingAndGlyphs" stroke="#222" stroke-width="0.3" transform="rotate(-90 454.50 58.40)">Er168Di :: CD127</text>
<text x="486.05" y="95.20" font-size="9.2" text-anchor="middle" fill="#222" textLength="50.00" lengthAdjust="spacingAndGlyphs" stroke="#222" stroke-width="0.3">Sm149Di :: CD25</text>
<path d="" stroke="#b0b0b0" stroke-width="0.45"/>
<path d="M253.50 141.55 Q253.50 136.50 258.15 136.50 Q262.80 136.50 263.80 138.00 Q264.80 139.50 264.70 141.15 Q264.60 142.80 261.62 145.20 Q258.63 147.60 256.57 148.60 Q254.50 149.60 254.00 148.10 Q253.50 146.60 253.50 141.55Z" fill="#3a3a3a" fill-opacity="0.000" stroke="#969696" stroke-width="0.5"/>
<path d="M254.31 141.43 Q254.31 137.10 258.29 137.10 Q262.28 137.10 263.14 138.39 Q263.99 139.67 263.91 141.09 Q263.82 142.50 261.26 144.56 Q258.71 146.62 256.94 147.47 Q255.16 148.33 254.74 147.04 Q254.31 145.76 254.31 141.43Z" fill="#3a3a3a" fill-opacity="0.000" stroke="#838383" stroke-width="0.5"/>
<path d="M255.11 141.31 Q255.11 137.70 258.44 137.70 Q261.76 137.70 262.47 138.77 Q263.19 139.85 263.11 141.02 Q263.04 142.20 260.91 143.92 Q258.78 145.63 257.31 146.35 Q255.83 147.06 255.47 145.99 Q255.11 144.92 255.11 141.31Z" fill="#3a3a3a" fill-opacity="0.000" stroke="#717171" stroke-width="0.5"/>
<path d="M255.92 141.19 Q255.92 138.31 258.58 138.31 Q261.24 138.31 261.81 139.16 Q262.38 140.02 262.32 140.96 Q262.26 141.91 260.56 143.28 Q258.86 144.65 257.67 145.22 Q256.49 145.79 256.21 144.93 Q255.92 144.08 255.92 141.19Z" fill="#3a3a3a" fill-opacity="0.000" stroke="#5f5f5f" stroke-width="0.5"/>
<path d="M256.73 141.07 Q256.73 138.91 258.72 138.91 Q260.71 138.91 261.14 139.55 Q261.57 140.19 261.53 140.90 Q261.49 141.61 260.21 142.64 Q258.93 143.66 258.04 144.09 Q257.16 144.52 256.94 143.88 Q256.73 143.24 256.73 141.07Z" fill="#3a3a3a" fill-opacity="0.000" stroke="#4c4c4c" stroke-width="0.5"/>
<path d="M257.54 140.95 Q257.54 139.51 258.86 139.51 Q260.19 139.51 260.48 139.94 Q260.76 140.37 260.74 140.84 Q260.71 141.31 259.86 141.99 Q259.00 142.68 258.41 142.97 Q257.82 143.25 257.68 142.82 Q257.54 142.39 257.54 140.95Z" fill="#3a3a3a" fill-opacity="0.000" stroke="#3a3a3a" stroke-width="0.5"/>
<path d="M258.34 140.83 Q258.34 140.11 259.01 140.11 Q259.67 140.11 259.81 140.32 Q259.96 140.54 259.94 140.77 Q259.93 141.01 259.50 141.35 Q259.08 141.70 258.78 141.84 Q258.49 141.98 258.41 141.77 Q258.34 141.55 258.34 140.83Z" fill="#f4f4f4" fill-opacity="0.000" stroke="#282828" stroke-width="0.5"/>
<ellipse cx="260.90" cy="160.70" rx="2.20" ry="1.00" fill="none" stroke="#5a5a5a" stroke-width="0.55"/>
<ellipse cx="260.90" cy="160.70" rx="1.47" ry="0.67" fill="none" stroke="#969696" stroke-width="0.55"/>
<ellipse cx="260.90" cy="160.70" rx="0.73" ry="0.33" fill="none" stroke="#d2d2d2" stroke-width="0.55"/>
<rect x="252.50" y="135.90" width="3.00" height="26.50" rx="1.50" fill="#7a7a7a" stroke="#111" stroke-width="1.0"/>
<rect x="253.60" y="137.90" width="0.80" height="21.50" rx="0.40" fill="#2a2a2a" stroke="#111" stroke-width="0.4"/>
<line x1="254.00" y1="139.90" x2="254.00" y2="156.40" stroke="#9a9a9a" stroke-width="0.5"/>
<ellipse cx="254.00" cy="161.10" rx="1.6" ry="1.3" fill="#111"/>
<polygon points="258.60,154.60 273.20,141.30 278.20,141.30 278.20,165.30 258.60,165.30" fill="none" stroke="#4a4a9a" stroke-width="0.95"/>
<text x="296.20" y="164.20" font-size="7.8" text-anchor="end" fill="#222" stroke="#222" stroke-width="0.14">4.73</text>
<line x1="251.40" y1="168.80" x2="251.40" y2="170.20" stroke="#333" stroke-width="0.5"/>
<line x1="256.81" y1="168.80" x2="256.81" y2="170.20" stroke="#333" stroke-width="0.5"/>
<line x1="262.23" y1="168.80" x2="262.23" y2="170.20" stroke="#333" stroke-width="0.5"/>
<line x1="267.64" y1="168.80" x2="267.64" y2="170.20" stroke="#333" stroke-width="0.5"/>
<line x1="273.05" y1="168.80" x2="273.05" y2="170.20" stroke="#333" stroke-width="0.5"/>
<line x1="278.46" y1="168.80" x2="278.46" y2="170.20" stroke="#333" stroke-width="0.5"/>
<line x1="283.88" y1="168.80" x2="283.88" y2="170.20" stroke="#333" stroke-width="0.5"/>
<line x1="289.29" y1="168.80" x2="289.29" y2="170.20" stroke="#333" stroke-width="0.5"/>
<line x1="294.70" y1="168.80" x2="294.70" y2="170.20" stroke="#333" stroke-width="0.5"/>
<line x1="245.90" y1="122.40" x2="247.40" y2="122.40" stroke="#333" stroke-width="0.6"/>
<line x1="245.90" y1="132.50" x2="247.40" y2="132.50" stroke="#333" stroke-width="0.6"/>
<line x1="245.90" y1="142.60" x2="247.40" y2="142.60" stroke="#333" stroke-width="0.6"/>
<line x1="245.90" y1="152.70" x2="247.40" y2="152.70" stroke="#333" stroke-width="0.6"/>
<line x1="245.90" y1="162.80" x2="247.40" y2="162.80" stroke="#333" stroke-width="0.6"/>
<rect x="247.40" y="118.40" width="51.30" height="50.40" fill="none" stroke="#111" stroke-width="1.2"/>
<text x="273.05" y="115.00" font-size="9.2" text-anchor="middle" fill="#222" textLength="14.90" lengthAdjust="spacingAndGlyphs" stroke="#222" stroke-width="0.3">C4D1</text>
<text x="232.70" y="143.60" font-size="9.2" text-anchor="middle" fill="#222" textLength="49.00" lengthAdjust="spacingAndGlyphs" stroke="#222" stroke-width="0.3" transform="rotate(-90 232.70 143.60)">Er168Di :: CD127</text>
<text x="273.05" y="189.40" font-size="9.2" text-anchor="middle" fill="#222" textLength="50.00" lengthAdjust="spacingAndGlyphs" stroke="#222" stroke-width="0.3">Sm149Di :: CD25</text>
<text x="255.80" y="179.40" font-size="8.2" text-anchor="middle" fill="#222" textLength="3.20" lengthAdjust="spacingAndGlyphs" stroke="#222" stroke-width="0.12">0</text>
<text x="262.50" y="179.40" font-size="8.2" fill="#222" stroke="#222" stroke-width="0.12" textLength="4.9" lengthAdjust="spacingAndGlyphs">10</text>
<text x="267.60" y="175.10" font-size="4.6" fill="#222" textLength="1.8" lengthAdjust="spacingAndGlyphs">1</text>
<text x="271.50" y="179.40" font-size="8.2" fill="#222" stroke="#222" stroke-width="0.12" textLength="4.9" lengthAdjust="spacingAndGlyphs">10</text>
<text x="276.60" y="175.10" font-size="4.6" fill="#222" textLength="1.8" lengthAdjust="spacingAndGlyphs">2</text>
<text x="283.20" y="179.40" font-size="8.2" fill="#222" stroke="#222" stroke-width="0.12" textLength="4.9" lengthAdjust="spacingAndGlyphs">10</text>
<text x="288.30" y="175.10" font-size="4.6" fill="#222" textLength="1.8" lengthAdjust="spacingAndGlyphs">3</text>
<text x="292.40" y="179.40" font-size="8.2" fill="#222" stroke="#222" stroke-width="0.12" textLength="4.9" lengthAdjust="spacingAndGlyphs">10</text>
<text x="297.50" y="175.10" font-size="4.6" fill="#222" textLength="1.8" lengthAdjust="spacingAndGlyphs">4</text>
<text x="241.40" y="124.80" font-size="8.0" text-anchor="end" fill="#222" stroke="#222" stroke-width="0.12" textLength="5.3" lengthAdjust="spacingAndGlyphs">10</text>
<text x="241.60" y="120.80" font-size="4.6" fill="#222" textLength="1.8" lengthAdjust="spacingAndGlyphs">4</text>
<text x="241.40" y="134.60" font-size="8.0" text-anchor="end" fill="#222" stroke="#222" stroke-width="0.12" textLength="5.3" lengthAdjust="spacingAndGlyphs">10</text>
<text x="241.60" y="130.60" font-size="4.6" fill="#222" textLength="1.8" lengthAdjust="spacingAndGlyphs">3</text>
<text x="241.40" y="145.60" font-size="8.0" text-anchor="end" fill="#222" stroke="#222" stroke-width="0.12" textLength="5.3" lengthAdjust="spacingAndGlyphs">10</text>
<text x="241.60" y="141.60" font-size="4.6" fill="#222" textLength="1.8" lengthAdjust="spacingAndGlyphs">2</text>
<text x="241.40" y="156.40" font-size="8.0" text-anchor="end" fill="#222" stroke="#222" stroke-width="0.12" textLength="5.3" lengthAdjust="spacingAndGlyphs">10</text>
<text x="241.60" y="152.40" font-size="4.6" fill="#222" textLength="1.8" lengthAdjust="spacingAndGlyphs">1</text>
<text x="242.40" y="165.60" font-size="8.0" text-anchor="end" fill="#222" textLength="3.60" lengthAdjust="spacingAndGlyphs" stroke="#222" stroke-width="0.12">0</text>
<path d="M345.8 163.2h0.5 M332.6 153.1h0.5 M346.6 159.6h0.5 M342.8 157.7h0.5 M339.0 149.1h0.5 M342.1 157.2h0.5 M340.0 158.5h0.5 M340.1 153.0h0.5 M333.0 148.6h0.5 M339.3 145.3h0.5 M342.5 157.4h0.5 M338.0 152.7h0.5 M339.3 151.7h0.5 M343.9 153.2h0.5 M347.2 149.5h0.5 M339.0 150.9h0.5 M348.5 160.0h0.5 M342.9 155.2h0.5 M346.4 149.7h0.5 M339.0 153.6h0.5" stroke="#b0b0b0" stroke-width="0.45"/>
<path d="M325.20 139.90 Q325.20 130.40 334.30 130.40 Q343.40 130.40 344.40 131.90 Q345.40 133.40 345.30 137.28 Q345.20 141.15 339.77 145.78 Q334.34 150.40 330.27 151.40 Q326.20 152.40 325.70 150.90 Q325.20 149.40 325.20 139.90Z" fill="#3a3a3a" fill-opacity="0.090" stroke="#969696" stroke-width="0.5"/>
<path d="M326.64 139.55 Q326.64 131.41 334.44 131.41 Q342.24 131.41 343.10 132.69 Q343.96 133.98 343.87 137.30 Q343.79 140.62 339.13 144.59 Q334.48 148.55 330.99 149.41 Q327.50 150.27 327.07 148.98 Q326.64 147.69 326.64 139.55Z" fill="#3a3a3a" fill-opacity="0.090" stroke="#838383" stroke-width="0.5"/>
<path d="M328.09 139.20 Q328.09 132.42 334.59 132.42 Q341.09 132.42 341.80 133.49 Q342.51 134.56 342.44 137.33 Q342.37 140.10 338.49 143.40 Q334.61 146.70 331.71 147.42 Q328.80 148.13 328.44 147.06 Q328.09 145.99 328.09 139.20Z" fill="#3a3a3a" fill-opacity="0.090" stroke="#717171" stroke-width="0.5"/>
<path d="M329.53 138.85 Q329.53 133.43 334.73 133.43 Q339.93 133.43 340.50 134.28 Q341.07 135.14 341.01 137.35 Q340.96 139.57 337.85 142.21 Q334.75 144.85 332.43 145.43 Q330.10 146.00 329.81 145.14 Q329.53 144.28 329.53 138.85Z" fill="#3a3a3a" fill-opacity="0.090" stroke="#5f5f5f" stroke-width="0.5"/>
<path d="M330.97 138.51 Q330.97 134.43 334.87 134.43 Q338.77 134.43 339.20 135.08 Q339.63 135.72 339.59 137.38 Q339.54 139.04 337.22 141.02 Q334.89 143.01 333.14 143.43 Q331.40 143.86 331.19 143.22 Q330.97 142.58 330.97 138.51Z" fill="#3a3a3a" fill-opacity="0.090" stroke="#4c4c4c" stroke-width="0.5"/>
<path d="M332.41 138.16 Q332.41 135.44 335.01 135.44 Q337.61 135.44 337.90 135.87 Q338.19 136.30 338.16 137.41 Q338.13 138.51 336.58 139.84 Q335.03 141.16 333.86 141.44 Q332.70 141.73 332.56 141.30 Q332.41 140.87 332.41 138.16Z" fill="#3a3a3a" fill-opacity="0.090" stroke="#3a3a3a" stroke-width="0.5"/>
<path d="M333.86 137.81 Q333.86 136.45 335.16 136.45 Q336.46 136.45 336.60 136.67 Q336.74 136.88 336.73 137.43 Q336.71 137.99 335.94 138.65 Q335.16 139.31 334.58 139.45 Q334.00 139.59 333.93 139.38 Q333.86 139.17 333.86 137.81Z" fill="#f4f4f4" fill-opacity="0.900" stroke="#282828" stroke-width="0.5"/>
<ellipse cx="335.40" cy="159.40" rx="3.50" ry="2.60" fill="none" stroke="#5a5a5a" stroke-width="0.55"/>
<ellipse cx="335.40" cy="159.40" rx="2.33" ry="1.73" fill="none" stroke="#969696" stroke-width="0.55"/>
<ellipse cx="335.40" cy="159.40" rx="1.17" ry="0.87" fill="none" stroke="#d2d2d2" stroke-width="0.55"/>
<rect x="323.30" y="134.20" width="4.80" height="28.80" rx="2.40" fill="#7a7a7a" stroke="#111" stroke-width="1.0"/>
<rect x="324.40" y="136.20" width="2.60" height="23.80" rx="1.30" fill="#2a2a2a" stroke="#111" stroke-width="0.4"/>
<line x1="325.70" y1="138.20" x2="325.70" y2="157.00" stroke="#9a9a9a" stroke-width="0.5"/>
<ellipse cx="325.70" cy="161.70" rx="1.6" ry="1.3" fill="#111"/>
<polygon points="330.10,154.90 343.70,141.50 350.60,141.50 350.60,165.30 330.10,165.30" fill="none" stroke="#4a4a9a" stroke-width="0.95"/>
<text x="369.20" y="164.20" font-size="7.8" text-anchor="end" fill="#222" stroke="#222" stroke-width="0.14">8.75</text>
<line x1="324.40" y1="168.80" x2="324.40" y2="170.20" stroke="#333" stroke-width="0.5"/>
<line x1="329.81" y1="168.80" x2="329.81" y2="170.20" stroke="#333" stroke-width="0.5"/>
<line x1="335.22" y1="168.80" x2="335.22" y2="170.20" stroke="#333" stroke-width="0.5"/>
<line x1="340.64" y1="168.80" x2="340.64" y2="170.20" stroke="#333" stroke-width="0.5"/>
<line x1="346.05" y1="168.80" x2="346.05" y2="170.20" stroke="#333" stroke-width="0.5"/>
<line x1="351.46" y1="168.80" x2="351.46" y2="170.20" stroke="#333" stroke-width="0.5"/>
<line x1="356.88" y1="168.80" x2="356.88" y2="170.20" stroke="#333" stroke-width="0.5"/>
<line x1="362.29" y1="168.80" x2="362.29" y2="170.20" stroke="#333" stroke-width="0.5"/>
<line x1="367.70" y1="168.80" x2="367.70" y2="170.20" stroke="#333" stroke-width="0.5"/>
<line x1="318.90" y1="122.40" x2="320.40" y2="122.40" stroke="#333" stroke-width="0.6"/>
<line x1="318.90" y1="132.50" x2="320.40" y2="132.50" stroke="#333" stroke-width="0.6"/>
<line x1="318.90" y1="142.60" x2="320.40" y2="142.60" stroke="#333" stroke-width="0.6"/>
<line x1="318.90" y1="152.70" x2="320.40" y2="152.70" stroke="#333" stroke-width="0.6"/>
<line x1="318.90" y1="162.80" x2="320.40" y2="162.80" stroke="#333" stroke-width="0.6"/>
<rect x="320.40" y="118.40" width="51.30" height="50.40" fill="none" stroke="#111" stroke-width="1.2"/>
<text x="346.05" y="115.00" font-size="9.2" text-anchor="middle" fill="#222" textLength="22.00" lengthAdjust="spacingAndGlyphs" stroke="#222" stroke-width="0.3">Relapse</text>
<text x="313.20" y="143.60" font-size="9.2" text-anchor="middle" fill="#222" textLength="49.00" lengthAdjust="spacingAndGlyphs" stroke="#222" stroke-width="0.3" transform="rotate(-90 313.20 143.60)">Er168Di :: CD127</text>
<text x="346.05" y="189.40" font-size="9.2" text-anchor="middle" fill="#222" textLength="50.00" lengthAdjust="spacingAndGlyphs" stroke="#222" stroke-width="0.3">Sm149Di :: CD25</text>
<text x="328.80" y="179.40" font-size="8.2" text-anchor="middle" fill="#222" textLength="3.20" lengthAdjust="spacingAndGlyphs" stroke="#222" stroke-width="0.12">0</text>
<text x="335.50" y="179.40" font-size="8.2" fill="#222" stroke="#222" stroke-width="0.12" textLength="4.9" lengthAdjust="spacingAndGlyphs">10</text>
<text x="340.60" y="175.10" font-size="4.6" fill="#222" textLength="1.8" lengthAdjust="spacingAndGlyphs">1</text>
<text x="344.50" y="179.40" font-size="8.2" fill="#222" stroke="#222" stroke-width="0.12" textLength="4.9" lengthAdjust="spacingAndGlyphs">10</text>
<text x="349.60" y="175.10" font-size="4.6" fill="#222" textLength="1.8" lengthAdjust="spacingAndGlyphs">2</text>
<text x="356.20" y="179.40" font-size="8.2" fill="#222" stroke="#222" stroke-width="0.12" textLength="4.9" lengthAdjust="spacingAndGlyphs">10</text>
<text x="361.30" y="175.10" font-size="4.6" fill="#222" textLength="1.8" lengthAdjust="spacingAndGlyphs">3</text>
<text x="365.40" y="179.40" font-size="8.2" fill="#222" stroke="#222" stroke-width="0.12" textLength="4.9" lengthAdjust="spacingAndGlyphs">10</text>
<text x="370.50" y="175.10" font-size="4.6" fill="#222" textLength="1.8" lengthAdjust="spacingAndGlyphs">4</text>
<path d="M416.9 145.2h0.5 M418.4 149.4h0.5 M412.4 151.7h0.5 M410.3 160.5h0.5 M413.3 144.7h0.5 M404.9 151.6h0.5 M400.9 164.1h0.5 M410.6 156.4h0.5 M407.8 159.4h0.5 M408.3 160.8h0.5 M406.8 158.5h0.5 M404.8 159.6h0.5 M407.7 153.2h0.5 M404.2 144.7h0.5 M411.5 161.1h0.5 M404.0 144.9h0.5 M417.8 164.2h0.5 M407.1 163.0h0.5 M411.5 157.2h0.5 M415.6 162.3h0.5" stroke="#b0b0b0" stroke-width="0.45"/>
<path d="M394.60 141.55 Q394.60 133.10 401.45 133.10 Q408.30 133.10 409.30 134.60 Q410.30 136.10 410.20 139.45 Q410.10 142.80 405.91 146.90 Q401.71 151.00 398.66 152.00 Q395.60 153.00 395.10 151.50 Q394.60 150.00 394.60 141.55Z" fill="#3a3a3a" fill-opacity="0.080" stroke="#969696" stroke-width="0.5"/>
<path d="M395.72 141.26 Q395.72 134.01 401.59 134.01 Q407.46 134.01 408.32 135.30 Q409.18 136.58 409.09 139.46 Q409.01 142.33 405.41 145.84 Q401.82 149.36 399.20 150.21 Q396.58 151.07 396.15 149.78 Q395.72 148.50 395.72 141.26Z" fill="#3a3a3a" fill-opacity="0.080" stroke="#838383" stroke-width="0.5"/>
<path d="M396.84 140.96 Q396.84 134.93 401.74 134.93 Q406.63 134.93 407.34 136.00 Q408.06 137.07 407.99 139.46 Q407.91 141.85 404.92 144.78 Q401.93 147.71 399.74 148.43 Q397.56 149.14 397.20 148.07 Q396.84 147.00 396.84 140.96Z" fill="#3a3a3a" fill-opacity="0.080" stroke="#717171" stroke-width="0.5"/>
<path d="M397.96 140.67 Q397.96 135.84 401.88 135.84 Q405.79 135.84 406.36 136.69 Q406.94 137.55 406.88 139.47 Q406.82 141.38 404.43 143.72 Q402.03 146.07 400.28 146.64 Q398.54 147.21 398.25 146.35 Q397.96 145.49 397.96 140.67Z" fill="#3a3a3a" fill-opacity="0.080" stroke="#5f5f5f" stroke-width="0.5"/>
<path d="M399.09 140.37 Q399.09 136.75 402.02 136.75 Q404.96 136.75 405.39 137.39 Q405.81 138.04 405.77 139.47 Q405.73 140.91 403.93 142.66 Q402.13 144.42 400.82 144.85 Q399.51 145.28 399.30 144.64 Q399.09 143.99 399.09 140.37Z" fill="#3a3a3a" fill-opacity="0.080" stroke="#4c4c4c" stroke-width="0.5"/>
<path d="M400.21 140.08 Q400.21 137.66 402.16 137.66 Q404.12 137.66 404.41 138.09 Q404.69 138.52 404.66 139.48 Q404.64 140.43 403.44 141.61 Q402.24 142.78 401.37 143.06 Q400.49 143.35 400.35 142.92 Q400.21 142.49 400.21 140.08Z" fill="#3a3a3a" fill-opacity="0.080" stroke="#3a3a3a" stroke-width="0.5"/>
<path d="M401.33 139.78 Q401.33 138.58 402.31 138.58 Q403.29 138.58 403.43 138.79 Q403.57 139.00 403.56 139.48 Q403.54 139.96 402.94 140.55 Q402.34 141.13 401.91 141.28 Q401.47 141.42 401.40 141.20 Q401.33 140.99 401.33 139.78Z" fill="#f4f4f4" fill-opacity="0.900" stroke="#282828" stroke-width="0.5"/>
<ellipse cx="408.40" cy="161.20" rx="4.90" ry="1.30" fill="none" stroke="#5a5a5a" stroke-width="0.55"/>
<ellipse cx="408.40" cy="161.20" rx="3.27" ry="0.87" fill="none" stroke="#969696" stroke-width="0.55"/>
<ellipse cx="408.40" cy="161.20" rx="1.63" ry="0.43" fill="none" stroke="#d2d2d2" stroke-width="0.55"/>
<ellipse cx="408.50" cy="150.90" rx="5.00" ry="4.00" fill="none" stroke="#5a5a5a" stroke-width="0.55"/>
<ellipse cx="408.50" cy="150.90" rx="3.33" ry="2.67" fill="none" stroke="#969696" stroke-width="0.55"/>
<ellipse cx="408.50" cy="150.90" rx="1.67" ry="1.33" fill="none" stroke="#d2d2d2" stroke-width="0.55"/>
<rect x="393.10" y="134.80" width="4.00" height="28.20" rx="2.00" fill="#7a7a7a" stroke="#111" stroke-width="1.0"/>
<rect x="394.20" y="136.80" width="1.80" height="23.20" rx="0.90" fill="#2a2a2a" stroke="#111" stroke-width="0.4"/>
<line x1="395.10" y1="138.80" x2="395.10" y2="157.00" stroke="#9a9a9a" stroke-width="0.5"/>
<ellipse cx="395.10" cy="161.70" rx="1.6" ry="1.3" fill="#111"/>
<polygon points="399.40,154.90 413.60,141.30 419.60,141.30 419.60,165.70 399.40,165.70" fill="none" stroke="#4a4a9a" stroke-width="0.95"/>
<text x="437.80" y="164.20" font-size="7.8" text-anchor="end" fill="#222" stroke="#222" stroke-width="0.14">12.5</text>
<line x1="393.00" y1="168.80" x2="393.00" y2="170.20" stroke="#333" stroke-width="0.5"/>
<line x1="398.41" y1="168.80" x2="398.41" y2="170.20" stroke="#333" stroke-width="0.5"/>
<line x1="403.82" y1="168.80" x2="403.82" y2="170.20" stroke="#333" stroke-width="0.5"/>
<line x1="409.24" y1="168.80" x2="409.24" y2="170.20" stroke="#333" stroke-width="0.5"/>
<line x1="414.65" y1="168.80" x2="414.65" y2="170.20" stroke="#333" stroke-width="0.5"/>
<line x1="420.06" y1="168.80" x2="420.06" y2="170.20" stroke="#333" stroke-width="0.5"/>
<line x1="425.48" y1="168.80" x2="425.48" y2="170.20" stroke="#333" stroke-width="0.5"/>
<line x1="430.89" y1="168.80" x2="430.89" y2="170.20" stroke="#333" stroke-width="0.5"/>
<line x1="436.30" y1="168.80" x2="436.30" y2="170.20" stroke="#333" stroke-width="0.5"/>
<line x1="387.50" y1="122.40" x2="389.00" y2="122.40" stroke="#333" stroke-width="0.6"/>
<line x1="387.50" y1="132.50" x2="389.00" y2="132.50" stroke="#333" stroke-width="0.6"/>
<line x1="387.50" y1="142.60" x2="389.00" y2="142.60" stroke="#333" stroke-width="0.6"/>
<line x1="387.50" y1="152.70" x2="389.00" y2="152.70" stroke="#333" stroke-width="0.6"/>
<line x1="387.50" y1="162.80" x2="389.00" y2="162.80" stroke="#333" stroke-width="0.6"/>
<rect x="389.00" y="118.40" width="51.30" height="50.40" fill="none" stroke="#111" stroke-width="1.2"/>
<text x="414.65" y="115.00" font-size="9.2" text-anchor="middle" fill="#222" textLength="15.00" lengthAdjust="spacingAndGlyphs" stroke="#222" stroke-width="0.3">C6D1</text>
<text x="382.80" y="143.60" font-size="9.2" text-anchor="middle" fill="#222" textLength="49.00" lengthAdjust="spacingAndGlyphs" stroke="#222" stroke-width="0.3" transform="rotate(-90 382.80 143.60)">Er168Di :: CD127</text>
<text x="414.65" y="189.40" font-size="9.2" text-anchor="middle" fill="#222" textLength="50.00" lengthAdjust="spacingAndGlyphs" stroke="#222" stroke-width="0.3">Sm149Di :: CD25</text>
<text x="397.40" y="179.40" font-size="8.2" text-anchor="middle" fill="#222" textLength="3.20" lengthAdjust="spacingAndGlyphs" stroke="#222" stroke-width="0.12">0</text>
<text x="404.10" y="179.40" font-size="8.2" fill="#222" stroke="#222" stroke-width="0.12" textLength="4.9" lengthAdjust="spacingAndGlyphs">10</text>
<text x="409.20" y="175.10" font-size="4.6" fill="#222" textLength="1.8" lengthAdjust="spacingAndGlyphs">1</text>
<text x="413.10" y="179.40" font-size="8.2" fill="#222" stroke="#222" stroke-width="0.12" textLength="4.9" lengthAdjust="spacingAndGlyphs">10</text>
<text x="418.20" y="175.10" font-size="4.6" fill="#222" textLength="1.8" lengthAdjust="spacingAndGlyphs">2</text>
<text x="424.80" y="179.40" font-size="8.2" fill="#222" stroke="#222" stroke-width="0.12" textLength="4.9" lengthAdjust="spacingAndGlyphs">10</text>
<text x="429.90" y="175.10" font-size="4.6" fill="#222" textLength="1.8" lengthAdjust="spacingAndGlyphs">3</text>
<text x="434.00" y="179.40" font-size="8.2" fill="#222" stroke="#222" stroke-width="0.12" textLength="4.9" lengthAdjust="spacingAndGlyphs">10</text>
<text x="439.10" y="175.10" font-size="4.6" fill="#222" textLength="1.8" lengthAdjust="spacingAndGlyphs">4</text>
<path d="M473.7 151.8h0.5 M482.1 149.3h0.5 M479.2 156.5h0.5 M477.9 147.4h0.5 M485.4 155.7h0.5 M473.0 163.1h0.5 M481.7 163.8h0.5 M483.0 155.8h0.5 M487.1 151.6h0.5 M483.5 144.8h0.5 M487.4 146.4h0.5 M483.6 150.4h0.5 M482.0 149.3h0.5 M475.3 153.6h0.5 M485.7 161.7h0.5 M480.0 151.9h0.5 M487.5 162.5h0.5 M484.9 148.0h0.5 M484.6 145.8h0.5 M488.8 155.6h0.5" stroke="#b0b0b0" stroke-width="0.45"/>
<path d="M465.80 139.95 Q465.80 132.50 474.30 132.50 Q482.80 132.50 483.80 134.00 Q484.80 135.50 484.70 138.35 Q484.60 141.20 479.50 144.80 Q474.40 148.40 470.60 149.40 Q466.80 150.40 466.30 148.90 Q465.80 147.40 465.80 139.95Z" fill="#3a3a3a" fill-opacity="0.110" stroke="#969696" stroke-width="0.5"/>
<path d="M467.16 139.71 Q467.16 133.32 474.44 133.32 Q481.73 133.32 482.59 134.61 Q483.44 135.89 483.36 138.34 Q483.27 140.78 478.90 143.86 Q474.53 146.95 471.27 147.81 Q468.01 148.66 467.59 147.38 Q467.16 146.09 467.16 139.71Z" fill="#3a3a3a" fill-opacity="0.110" stroke="#838383" stroke-width="0.5"/>
<path d="M468.51 139.46 Q468.51 134.14 474.59 134.14 Q480.66 134.14 481.37 135.21 Q482.09 136.29 482.01 138.32 Q481.94 140.36 478.30 142.93 Q474.66 145.50 471.94 146.21 Q469.23 146.93 468.87 145.86 Q468.51 144.79 468.51 139.46Z" fill="#3a3a3a" fill-opacity="0.110" stroke="#717171" stroke-width="0.5"/>
<path d="M469.87 139.22 Q469.87 134.96 474.73 134.96 Q479.59 134.96 480.16 135.82 Q480.73 136.68 480.67 138.31 Q480.61 139.93 477.70 141.99 Q474.79 144.05 472.61 144.62 Q470.44 145.19 470.16 144.33 Q469.87 143.48 469.87 139.22Z" fill="#3a3a3a" fill-opacity="0.110" stroke="#5f5f5f" stroke-width="0.5"/>
<path d="M471.23 138.98 Q471.23 135.78 474.87 135.78 Q478.51 135.78 478.94 136.43 Q479.37 137.07 479.33 138.29 Q479.29 139.51 477.10 141.06 Q474.91 142.60 473.29 143.03 Q471.66 143.46 471.44 142.81 Q471.23 142.17 471.23 138.98Z" fill="#3a3a3a" fill-opacity="0.110" stroke="#4c4c4c" stroke-width="0.5"/>
<path d="M472.59 138.73 Q472.59 136.61 475.01 136.61 Q477.44 136.61 477.73 137.03 Q478.01 137.46 477.99 138.28 Q477.96 139.09 476.50 140.12 Q475.04 141.15 473.96 141.43 Q472.87 141.72 472.73 141.29 Q472.59 140.86 472.59 138.73Z" fill="#3a3a3a" fill-opacity="0.110" stroke="#3a3a3a" stroke-width="0.5"/>
<path d="M473.94 138.49 Q473.94 137.43 475.16 137.43 Q476.37 137.43 476.51 137.64 Q476.66 137.86 476.64 138.26 Q476.63 138.67 475.90 139.18 Q475.17 139.70 474.63 139.84 Q474.09 139.98 474.01 139.77 Q473.94 139.56 473.94 138.49Z" fill="#f4f4f4" fill-opacity="0.900" stroke="#282828" stroke-width="0.5"/>
<ellipse cx="480.40" cy="154.40" rx="7.00" ry="6.00" fill="none" stroke="#5a5a5a" stroke-width="0.55"/>
<ellipse cx="480.40" cy="154.40" rx="4.67" ry="4.00" fill="none" stroke="#969696" stroke-width="0.55"/>
<ellipse cx="480.40" cy="154.40" rx="2.33" ry="2.00" fill="none" stroke="#d2d2d2" stroke-width="0.55"/>
<rect x="464.10" y="134.20" width="4.40" height="28.80" rx="2.20" fill="#7a7a7a" stroke="#111" stroke-width="1.0"/>
<rect x="465.20" y="136.20" width="2.20" height="23.80" rx="1.10" fill="#2a2a2a" stroke="#111" stroke-width="0.4"/>
<line x1="466.30" y1="138.20" x2="466.30" y2="157.00" stroke="#9a9a9a" stroke-width="0.5"/>
<ellipse cx="466.30" cy="161.70" rx="1.6" ry="1.3" fill="#111"/>
<polygon points="471.00,154.90 485.40,141.30 491.20,141.30 491.20,165.30 471.00,165.30" fill="none" stroke="#4a4a9a" stroke-width="0.95"/>
<text x="509.20" y="164.20" font-size="7.8" text-anchor="end" fill="#222" stroke="#222" stroke-width="0.14">14.4</text>
<line x1="464.40" y1="168.80" x2="464.40" y2="170.20" stroke="#333" stroke-width="0.5"/>
<line x1="469.81" y1="168.80" x2="469.81" y2="170.20" stroke="#333" stroke-width="0.5"/>
<line x1="475.22" y1="168.80" x2="475.22" y2="170.20" stroke="#333" stroke-width="0.5"/>
<line x1="480.64" y1="168.80" x2="480.64" y2="170.20" stroke="#333" stroke-width="0.5"/>
<line x1="486.05" y1="168.80" x2="486.05" y2="170.20" stroke="#333" stroke-width="0.5"/>
<line x1="491.46" y1="168.80" x2="491.46" y2="170.20" stroke="#333" stroke-width="0.5"/>
<line x1="496.88" y1="168.80" x2="496.88" y2="170.20" stroke="#333" stroke-width="0.5"/>
<line x1="502.29" y1="168.80" x2="502.29" y2="170.20" stroke="#333" stroke-width="0.5"/>
<line x1="507.70" y1="168.80" x2="507.70" y2="170.20" stroke="#333" stroke-width="0.5"/>
<line x1="458.90" y1="122.40" x2="460.40" y2="122.40" stroke="#333" stroke-width="0.6"/>
<line x1="458.90" y1="132.50" x2="460.40" y2="132.50" stroke="#333" stroke-width="0.6"/>
<line x1="458.90" y1="142.60" x2="460.40" y2="142.60" stroke="#333" stroke-width="0.6"/>
<line x1="458.90" y1="152.70" x2="460.40" y2="152.70" stroke="#333" stroke-width="0.6"/>
<line x1="458.90" y1="162.80" x2="460.40" y2="162.80" stroke="#333" stroke-width="0.6"/>
<rect x="460.40" y="118.40" width="51.30" height="50.40" fill="none" stroke="#111" stroke-width="1.2"/>
<text x="486.05" y="115.00" font-size="9.2" text-anchor="middle" fill="#222" textLength="33.20" lengthAdjust="spacingAndGlyphs" stroke="#222" stroke-width="0.3">Progression</text>
<text x="454.20" y="143.60" font-size="9.2" text-anchor="middle" fill="#222" textLength="49.00" lengthAdjust="spacingAndGlyphs" stroke="#222" stroke-width="0.3" transform="rotate(-90 454.20 143.60)">Er168Di :: CD127</text>
<text x="486.05" y="189.40" font-size="9.2" text-anchor="middle" fill="#222" textLength="50.00" lengthAdjust="spacingAndGlyphs" stroke="#222" stroke-width="0.3">Sm149Di :: CD25</text>
<text x="468.80" y="179.40" font-size="8.2" text-anchor="middle" fill="#222" textLength="3.20" lengthAdjust="spacingAndGlyphs" stroke="#222" stroke-width="0.12">0</text>
<text x="475.50" y="179.40" font-size="8.2" fill="#222" stroke="#222" stroke-width="0.12" textLength="4.9" lengthAdjust="spacingAndGlyphs">10</text>
<text x="480.60" y="175.10" font-size="4.6" fill="#222" textLength="1.8" lengthAdjust="spacingAndGlyphs">1</text>
<text x="484.50" y="179.40" font-size="8.2" fill="#222" stroke="#222" stroke-width="0.12" textLength="4.9" lengthAdjust="spacingAndGlyphs">10</text>
<text x="489.60" y="175.10" font-size="4.6" fill="#222" textLength="1.8" lengthAdjust="spacingAndGlyphs">2</text>
<text x="496.20" y="179.40" font-size="8.2" fill="#222" stroke="#222" stroke-width="0.12" textLength="4.9" lengthAdjust="spacingAndGlyphs">10</text>
<text x="501.30" y="175.10" font-size="4.6" fill="#222" textLength="1.8" lengthAdjust="spacingAndGlyphs">3</text>
<text x="505.40" y="179.40" font-size="8.2" fill="#222" stroke="#222" stroke-width="0.12" textLength="4.9" lengthAdjust="spacingAndGlyphs">10</text>
<text x="510.50" y="175.10" font-size="4.6" fill="#222" textLength="1.8" lengthAdjust="spacingAndGlyphs">4</text>
<text x="7.60" y="174.60" font-size="11.5" font-weight="bold" fill="#000" textLength="7.40" lengthAdjust="spacingAndGlyphs">B</text>
<rect x="46.30" y="166.00" width="109.50" height="58.20" fill="none" stroke="#111" stroke-width="1.2"/>
<line x1="50.10" y1="224.20" x2="50.10" y2="226.40" stroke="#222" stroke-width="0.8"/>
<text x="48.50" y="234.00" font-size="8.4" text-anchor="middle" fill="#222" stroke="#222" stroke-width="0.1">−2</text>
<line x1="67.95" y1="224.20" x2="67.95" y2="226.40" stroke="#222" stroke-width="0.8"/>
<text x="66.35" y="234.00" font-size="8.4" text-anchor="middle" fill="#222" stroke="#222" stroke-width="0.1">−1</text>
<line x1="85.80" y1="224.20" x2="85.80" y2="226.40" stroke="#222" stroke-width="0.8"/>
<text x="85.80" y="234.00" font-size="8.4" text-anchor="middle" fill="#222" stroke="#222" stroke-width="0.1">0</text>
<line x1="103.65" y1="224.20" x2="103.65" y2="226.40" stroke="#222" stroke-width="0.8"/>
<text x="103.65" y="234.00" font-size="8.4" text-anchor="middle" fill="#222" stroke="#222" stroke-width="0.1">1</text>
<line x1="121.50" y1="224.20" x2="121.50" y2="226.40" stroke="#222" stroke-width="0.8"/>
<text x="121.50" y="234.00" font-size="8.4" text-anchor="middle" fill="#222" stroke="#222" stroke-width="0.1">2</text>
<line x1="139.35" y1="224.20" x2="139.35" y2="226.40" stroke="#222" stroke-width="0.8"/>
<text x="139.35" y="234.00" font-size="8.4" text-anchor="middle" fill="#222" stroke="#222" stroke-width="0.1">3</text>
<line x1="44.20" y1="189.80" x2="46.30" y2="189.80" stroke="#222" stroke-width="0.8"/>
<text x="43.40" y="192.80" font-size="8.4" text-anchor="end" fill="#222" stroke="#222" stroke-width="0.1">0.5</text>
<line x1="44.20" y1="198.50" x2="46.30" y2="198.50" stroke="#222" stroke-width="0.8"/>
<text x="43.40" y="201.50" font-size="8.4" text-anchor="end" fill="#222" stroke="#222" stroke-width="0.1">0.0</text>
<line x1="44.20" y1="207.20" x2="46.30" y2="207.20" stroke="#222" stroke-width="0.8"/>
<text x="43.40" y="210.20" font-size="8.4" text-anchor="end" fill="#222" stroke="#222" stroke-width="0.1">−0.5</text>
<line x1="44.20" y1="215.90" x2="46.30" y2="215.90" stroke="#222" stroke-width="0.8"/>
<text x="43.40" y="218.90" font-size="8.4" text-anchor="end" fill="#222" stroke="#222" stroke-width="0.1">−1.0</text>
<text x="100.50" y="243.00" font-size="9.2" text-anchor="middle" fill="#222" textLength="18.00" lengthAdjust="spacingAndGlyphs" stroke="#222" stroke-width="0.3">MDS1</text>
<text x="26.40" y="198.50" font-size="9.2" text-anchor="middle" fill="#222" textLength="18.00" lengthAdjust="spacingAndGlyphs" stroke="#222" stroke-width="0.3" transform="rotate(-90 26.40 198.50)">MDS2</text>
<text x="48.30" y="174.40" font-size="5.6" fill="#1fa34a" textLength="17.60" lengthAdjust="spacingAndGlyphs" stroke="#1fa34a" stroke-width="0.15">Response</text>
<text x="48.30" y="181.90" font-size="5.8" fill="#1fa34a" textLength="9.60" lengthAdjust="spacingAndGlyphs" stroke="#1fa34a" stroke-width="0.15">C2D1</text>
<circle cx="51.20" cy="184.60" r="2.30" fill="#1fa34a"/>
<text x="48.30" y="198.70" font-size="5.8" fill="#1fa34a" textLength="9.60" lengthAdjust="spacingAndGlyphs" stroke="#1fa34a" stroke-width="0.15">C4D1</text>
<circle cx="49.80" cy="201.70" r="1.70" fill="#1fa34a"/>
<path d="M63.5 193.5 C63.77 192.17 64.00 190.92 65.50 190.00 C67.00 189.08 70.08 188.28 72.50 188.00 C74.92 187.72 78.00 187.33 80.00 188.30 C82.00 189.27 81.27 192.48 84.50 193.80 C87.73 195.12 94.90 195.13 99.40 196.20 C103.90 197.27 108.70 198.42 111.50 200.20 C114.30 201.98 115.75 204.67 116.20 206.90 C116.65 209.13 115.65 211.35 114.20 213.60 C112.75 215.85 110.63 218.82 107.50 220.40 C104.37 221.98 98.98 222.58 95.40 223.10 C91.82 223.62 88.25 223.95 86.00 223.50 C83.75 223.05 83.70 222.05 81.90 220.40 C80.10 218.75 77.43 216.07 75.20 213.60 C72.97 211.13 70.38 208.20 68.50 205.60 C66.62 203.00 64.73 200.02 63.90 198.00 C63.07 195.98 63.23 194.83 63.50 193.50Z" fill="none" stroke="#e8584a" stroke-width="0.8" stroke-dasharray="1.4 1.3"/>
<circle cx="65.80" cy="194.00" r="1.60" fill="#e8584a"/>
<circle cx="109.80" cy="205.20" r="1.50" fill="#e8584a"/>
<text x="80.40" y="191.40" font-size="7.2" fill="#e8584a" textLength="21.60" lengthAdjust="spacingAndGlyphs">Relapse</text>
<text x="68.60" y="197.80" font-size="7.2" fill="#e8584a" textLength="15.20" lengthAdjust="spacingAndGlyphs">C6D1</text>
<text x="74.80" y="206.30" font-size="7.2" fill="#e8584a" textLength="32.20" lengthAdjust="spacingAndGlyphs">Progression</text>
<text x="81.00" y="220.60" font-size="7.2" fill="#e8584a" textLength="21.00" lengthAdjust="spacingAndGlyphs">Relapse</text>
<text x="153.80" y="180.30" font-size="7.2" text-anchor="end" fill="#222" textLength="26.30" lengthAdjust="spacingAndGlyphs" stroke="#222" stroke-width="0.14">Untreated</text>
<circle cx="142.70" cy="184.80" r="2.20" fill="#000"/>
<text x="152.90" y="192.80" font-size="7.2" text-anchor="end" fill="#222" textLength="23.10" lengthAdjust="spacingAndGlyphs" stroke="#222" stroke-width="0.14">Baseline</text>
<text x="158.30" y="185.10" font-size="7.2" fill="#222" textLength="13.20" lengthAdjust="spacingAndGlyphs" stroke="#222" stroke-width="0.14">Cells</text>
<circle cx="160.60" cy="189.60" r="1.20" fill="#000"/>
<circle cx="160.60" cy="195.80" r="1.80" fill="#000"/>
<circle cx="160.60" cy="202.30" r="2.40" fill="#000"/>
<text x="164.00" y="192.20" font-size="7.0" fill="#222" textLength="18.70" lengthAdjust="spacingAndGlyphs" stroke="#222" stroke-width="0.14">10000</text>
<text x="164.00" y="198.40" font-size="7.0" fill="#222" textLength="18.70" lengthAdjust="spacingAndGlyphs" stroke="#222" stroke-width="0.14">20000</text>
<text x="164.00" y="204.90" font-size="7.0" fill="#222" textLength="18.70" lengthAdjust="spacingAndGlyphs" stroke="#222" stroke-width="0.14">30000</text>
<text x="7.80" y="257.20" font-size="11.5" font-weight="bold" fill="#000" textLength="7.60" lengthAdjust="spacingAndGlyphs">D</text>
<circle cx="46.50" cy="339.20" r="1.65" fill="#c4c4c4"/>
<circle cx="52.30" cy="339.20" r="1.65" fill="#c4c4c4"/>
<circle cx="61.70" cy="339.20" r="1.65" fill="#c4c4c4"/>
<circle cx="67.00" cy="339.20" r="1.65" fill="#c4c4c4"/>
<circle cx="71.00" cy="339.20" r="1.65" fill="#c4c4c4"/>
<circle cx="74.30" cy="339.20" r="1.65" fill="#c4c4c4"/>
<circle cx="79.20" cy="339.20" r="1.65" fill="#c4c4c4"/>
<circle cx="46.50" cy="329.90" r="1.65" fill="#c4c4c4"/>
<circle cx="52.30" cy="329.90" r="1.65" fill="#c4c4c4"/>
<circle cx="61.70" cy="329.90" r="1.65" fill="#c4c4c4"/>
<circle cx="67.00" cy="329.90" r="1.65" fill="#c4c4c4"/>
<circle cx="71.00" cy="329.90" r="1.65" fill="#c4c4c4"/>
<circle cx="73.80" cy="329.90" r="1.65" fill="#c4c4c4"/>
<circle cx="78.40" cy="329.90" r="1.65" fill="#c4c4c4"/>
<circle cx="80.00" cy="329.90" r="1.65" fill="#c4c4c4"/>
<circle cx="46.50" cy="320.40" r="1.65" fill="#c4c4c4"/>
<circle cx="52.30" cy="320.40" r="1.65" fill="#c4c4c4"/>
<circle cx="61.70" cy="320.40" r="1.65" fill="#c4c4c4"/>
<circle cx="71.00" cy="320.40" r="1.65" fill="#c4c4c4"/>
<circle cx="78.40" cy="320.40" r="1.65" fill="#c4c4c4"/>
<circle cx="83.30" cy="320.40" r="1.65" fill="#c4c4c4"/>
<circle cx="46.50" cy="314.70" r="1.65" fill="#c4c4c4"/>
<circle cx="52.30" cy="314.70" r="1.65" fill="#c4c4c4"/>
<circle cx="67.00" cy="314.70" r="1.65" fill="#c4c4c4"/>
<circle cx="80.00" cy="314.70" r="1.65" fill="#c4c4c4"/>
<circle cx="82.20" cy="314.70" r="1.65" fill="#c4c4c4"/>
<circle cx="67.00" cy="310.60" r="1.65" fill="#c4c4c4"/>
<circle cx="76.80" cy="310.60" r="1.65" fill="#c4c4c4"/>
<circle cx="82.20" cy="310.60" r="1.65" fill="#c4c4c4"/>
<circle cx="80.00" cy="307.00" r="1.65" fill="#c4c4c4"/>
<circle cx="80.00" cy="302.40" r="1.65" fill="#c4c4c4"/>
<circle cx="80.00" cy="297.50" r="1.65" fill="#c4c4c4"/>
<circle cx="87.40" cy="299.00" r="1.65" fill="#c4c4c4"/>
<circle cx="98.00" cy="290.70" r="1.65" fill="#c4c4c4"/>
<circle cx="98.80" cy="292.80" r="1.65" fill="#c4c4c4"/>
<circle cx="102.90" cy="285.00" r="1.65" fill="#c4c4c4"/>
<circle cx="81.00" cy="306.00" r="1.65" fill="#c4c4c4"/>
<line x1="46.00" y1="340.00" x2="121.70" y2="261.00" stroke="#2a2a2a" stroke-width="1.0"/>
<circle cx="108.60" cy="286.10" r="1.65" fill="#e3201c"/>
<circle cx="100.50" cy="294.00" r="1.65" fill="#e3201c"/>
<circle cx="104.50" cy="294.00" r="1.65" fill="#e3201c"/>
<circle cx="109.40" cy="292.80" r="1.65" fill="#e3201c"/>
<circle cx="93.40" cy="307.30" r="1.65" fill="#e3201c"/>
<circle cx="86.10" cy="320.40" r="1.65" fill="#e3201c"/>
<circle cx="88.70" cy="330.20" r="1.65" fill="#e3201c"/>
<circle cx="76.30" cy="339.20" r="1.65" fill="#e3201c"/>
<circle cx="78.40" cy="339.20" r="1.65" fill="#e3201c"/>
<circle cx="80.50" cy="339.20" r="1.65" fill="#e3201c"/>
<circle cx="94.20" cy="339.20" r="1.65" fill="#e3201c"/>
<circle cx="46.50" cy="302.40" r="1.75" fill="#000"/>
<circle cx="52.30" cy="300.80" r="1.75" fill="#000"/>
<circle cx="52.30" cy="303.00" r="1.75" fill="#000"/>
<circle cx="83.30" cy="286.10" r="1.75" fill="#000"/>
<line x1="43.30" y1="263.50" x2="43.30" y2="342.60" stroke="#222" stroke-width="1.1"/>
<line x1="42.80" y1="342.60" x2="120.50" y2="342.60" stroke="#222" stroke-width="1.1"/>
<line x1="41.20" y1="264.90" x2="43.30" y2="264.90" stroke="#222" stroke-width="0.8"/>
<text x="40.60" y="267.90" font-size="8.4" text-anchor="end" fill="#222" stroke="#222" stroke-width="0.1">10</text>
<line x1="41.20" y1="297.20" x2="43.30" y2="297.20" stroke="#222" stroke-width="0.8"/>
<text x="40.60" y="300.20" font-size="8.4" text-anchor="end" fill="#222" stroke="#222" stroke-width="0.1">1</text>
<line x1="41.20" y1="329.40" x2="43.30" y2="329.40" stroke="#222" stroke-width="0.8"/>
<text x="40.60" y="332.40" font-size="8.4" text-anchor="end" fill="#222" stroke="#222" stroke-width="0.1">0.1</text>
<line x1="41.20" y1="339.20" x2="43.30" y2="339.20" stroke="#222" stroke-width="0.8"/>
<text x="40.60" y="342.20" font-size="8.4" text-anchor="end" fill="#222" stroke="#222" stroke-width="0.1">ND</text>
<line x1="46.50" y1="342.60" x2="46.50" y2="344.80" stroke="#222" stroke-width="0.8"/>
<line x1="56.00" y1="342.60" x2="56.00" y2="344.80" stroke="#222" stroke-width="0.8"/>
<line x1="87.00" y1="342.60" x2="87.00" y2="344.80" stroke="#222" stroke-width="0.8"/>
<line x1="118.10" y1="342.60" x2="118.10" y2="344.80" stroke="#222" stroke-width="0.8"/>
<text x="44.60" y="354.20" font-size="8.4" text-anchor="middle" fill="#222" stroke="#222" stroke-width="0.1">ND</text>
<text x="57.60" y="354.20" font-size="8.4" text-anchor="middle" fill="#222" stroke="#222" stroke-width="0.1">0.1</text>
<text x="86.50" y="354.20" font-size="8.4" text-anchor="middle" fill="#222" stroke="#222" stroke-width="0.1">1</text>
<text x="117.60" y="354.20" font-size="8.4" text-anchor="middle" fill="#222" stroke="#222" stroke-width="0.1">10</text>
<text x="82.20" y="361.80" font-size="9.2" text-anchor="middle" fill="#222" textLength="32.40" lengthAdjust="spacingAndGlyphs" stroke="#222" stroke-width="0.3">% Baseline</text>
<text x="28.80" y="302.30" font-size="9.2" text-anchor="middle" fill="#222" textLength="33.70" lengthAdjust="spacingAndGlyphs" stroke="#222" stroke-width="0.3" transform="rotate(-90 28.80 302.30)">% Relapse</text>
<text x="153.40" y="257.20" font-size="11.5" font-weight="bold" fill="#000" textLength="6.60" lengthAdjust="spacingAndGlyphs">E</text>
<path d="M167.2 298.0h0 M169.7 293.2h0 M177.5 298.5h0 M171.3 311.8h0 M190.7 291.6h0 M169.1 313.5h0 M170.3 304.0h0 M169.6 297.8h0 M184.3 299.6h0 M181.5 304.5h0 M175.3 291.5h0 M185.7 302.9h0 M178.7 306.9h0 M183.4 287.1h0 M176.0 285.0h0 M180.7 288.0h0 M171.3 305.0h0 M181.2 301.3h0 M190.5 289.2h0 M191.0 290.0h0 M180.8 292.3h0 M174.2 300.4h0 M180.6 298.9h0 M179.0 309.8h0 M180.7 278.2h0 M174.5 303.6h0 M174.2 302.4h0 M178.7 294.8h0 M179.5 299.3h0 M183.5 296.5h0 M167.1 304.9h0 M189.2 294.7h0 M175.5 298.7h0 M181.0 301.4h0 M184.2 296.7h0 M175.9 301.4h0 M170.5 312.2h0 M181.1 292.2h0 M185.5 286.0h0 M181.9 296.0h0 M184.3 294.3h0 M186.3 275.0h0 M176.5 308.1h0 M180.2 292.1h0 M187.4 299.4h0 M180.6 283.0h0 M171.1 296.2h0 M180.0 298.7h0 M183.9 276.9h0 M185.9 279.9h0 M178.4 302.6h0 M177.6 294.0h0 M184.1 303.3h0 M174.7 297.9h0 M170.2 300.1h0 M179.9 292.3h0 M175.0 292.6h0 M174.8 290.3h0 M189.2 287.5h0 M175.0 300.1h0 M189.3 290.6h0 M170.8 292.2h0 M189.9 277.5h0 M183.6 291.2h0 M171.4 301.7h0 M188.4 299.3h0 M185.7 283.4h0 M175.8 291.3h0 M185.1 281.3h0 M177.8 285.3h0 M180.3 307.7h0 M169.7 302.4h0 M178.3 300.3h0 M183.5 288.0h0 M171.2 301.5h0 M172.1 311.9h0 M181.9 308.1h0 M183.4 292.2h0 M184.6 287.4h0 M177.5 281.0h0 M166.8 299.3h0 M172.9 287.4h0 M170.8 292.2h0 M178.4 292.3h0 M179.2 298.0h0 M181.6 292.5h0 M184.8 289.6h0 M166.4 302.4h0 M175.3 300.7h0 M190.4 290.0h0 M175.5 301.7h0 M167.9 301.4h0 M184.3 282.4h0 M182.8 292.8h0 M173.1 304.7h0 M179.5 305.4h0 M171.7 297.7h0 M181.3 293.1h0 M178.2 295.2h0 M172.4 288.4h0 M175.4 285.2h0 M191.2 291.7h0 M182.5 278.4h0 M178.8 280.4h0 M187.1 300.9h0 M170.0 296.9h0 M173.2 295.4h0 M185.4 288.4h0 M188.4 288.6h0 M173.2 292.6h0 M173.1 297.8h0 M170.2 298.7h0 M182.4 295.1h0 M188.7 277.8h0 M174.8 294.2h0 M171.6 292.0h0 M177.1 293.6h0 M183.7 285.0h0 M179.0 294.5h0 M179.0 294.4h0 M169.1 307.7h0 M176.3 300.5h0 M186.9 295.2h0 M183.2 293.4h0 M176.3 300.4h0 M188.4 286.0h0 M180.6 308.2h0 M182.4 280.1h0 M178.2 311.6h0 M185.1 292.4h0 M185.1 282.0h0 M167.3 306.2h0 M184.2 285.5h0 M183.9 283.7h0 M189.4 296.8h0 M182.0 297.5h0 M171.5 309.8h0 M167.6 309.2h0 M188.2 299.0h0 M187.8 281.9h0 M175.9 311.4h0 M168.9 298.2h0 M177.1 302.2h0 M185.1 302.6h0 M183.8 297.4h0 M169.2 296.7h0 M170.7 306.6h0 M178.7 280.2h0 M183.2 303.4h0 M177.1 290.8h0 M179.3 288.8h0 M182.9 283.3h0 M167.5 306.1h0 M180.7 279.7h0 M188.3 295.1h0 M191.1 283.9h0 M174.4 292.4h0 M170.7 300.7h0 M182.0 291.7h0 M183.6 290.8h0 M174.0 308.5h0 M188.6 277.6h0 M186.3 275.0h0 M171.2 290.6h0 M180.6 301.0h0 M186.5 298.5h0 M174.3 311.4h0 M178.0 292.5h0 M174.6 297.2h0 M170.9 291.6h0 M176.5 296.9h0 M183.0 298.1h0 M189.6 288.8h0 M179.2 301.6h0 M188.4 285.0h0 M179.0 302.4h0 M176.7 303.4h0 M175.5 295.9h0 M186.4 297.3h0 M191.3 292.1h0 M191.4 286.7h0 M179.1 288.1h0 M184.6 282.0h0 M172.4 291.7h0 M187.0 278.3h0 M180.9 290.1h0 M172.7 305.9h0 M174.6 310.0h0 M172.5 311.9h0 M168.2 310.4h0 M179.6 285.9h0 M181.6 292.8h0 M183.7 283.9h0 M177.4 291.5h0 M187.9 290.7h0 M178.7 285.3h0 M177.3 298.1h0 M175.2 293.5h0 M172.6 308.8h0 M190.0 294.9h0 M175.9 296.1h0 M182.1 289.4h0 M189.5 283.2h0 M177.4 283.2h0 M177.9 296.6h0 M184.0 293.8h0 M167.8 302.0h0 M183.7 278.4h0 M187.5 284.4h0 M187.7 294.1h0 M188.2 282.0h0 M184.9 277.0h0 M186.9 293.7h0 M178.8 284.3h0 M186.9 285.8h0 M176.1 292.6h0 M186.4 280.5h0 M176.1 290.4h0 M182.5 293.1h0 M173.8 307.6h0 M182.4 280.7h0 M177.9 310.2h0 M176.6 308.6h0 M188.2 287.6h0 M170.6 311.6h0 M168.8 303.8h0 M184.8 289.7h0 M170.8 302.2h0 M187.9 291.3h0 M179.5 306.4h0 M180.7 301.7h0 M169.3 303.0h0 M171.5 305.0h0 M190.8 282.6h0 M182.1 285.7h0 M168.8 303.6h0 M182.4 298.2h0 M185.1 292.2h0 M185.6 290.2h0 M169.0 298.4h0 M170.0 291.9h0 M184.3 300.8h0 M187.8 286.3h0 M184.7 277.0h0 M182.3 288.3h0 M172.7 292.8h0 M167.0 303.9h0 M190.0 277.9h0 M169.1 302.8h0 M185.1 289.6h0 M185.1 301.5h0 M171.2 292.9h0 M177.3 312.2h0 M184.3 298.9h0 M183.5 281.1h0 M183.2 284.5h0 M179.3 289.8h0 M190.8 277.9h0 M170.5 290.5h0 M170.9 291.2h0 M186.7 292.0h0 M174.8 291.1h0 M171.3 296.8h0 M182.1 308.0h0 M188.6 278.0h0 M183.0 279.3h0 M185.2 280.9h0 M167.2 302.7h0 M168.9 309.6h0 M176.8 300.0h0 M185.6 299.6h0 M169.1 296.3h0 M189.0 284.5h0 M179.4 283.8h0 M186.5 275.8h0 M176.0 294.5h0 M181.3 304.6h0 M174.9 297.9h0 M176.4 297.5h0 M169.6 298.1h0 M179.1 297.6h0 M185.9 289.0h0 M172.2 289.0h0 M188.9 292.3h0 M188.1 277.8h0 M171.6 290.9h0 M181.6 278.3h0 M182.2 286.9h0 M174.7 288.1h0 M183.0 295.0h0 M186.8 278.5h0 M184.3 290.0h0 M181.1 289.7h0 M177.2 310.5h0 M176.1 295.3h0 M188.1 292.8h0 M182.4 290.7h0 M189.9 281.9h0 M180.8 294.1h0 M186.2 297.4h0 M180.4 304.0h0 M168.5 308.4h0 M168.8 305.6h0 M182.6 285.5h0 M171.5 303.4h0 M178.7 297.1h0 M171.2 310.0h0 M172.4 295.3h0 M182.1 308.2h0 M180.9 293.7h0 M182.8 289.5h0 M180.6 294.0h0 M179.8 301.8h0 M185.2 294.4h0 M183.9 294.0h0 M180.0 298.8h0 M185.1 297.9h0 M171.6 291.3h0 M171.2 302.5h0 M177.0 307.2h0 M190.7 276.8h0 M176.9 291.5h0 M169.3 305.5h0 M178.4 298.3h0 M185.3 284.1h0 M182.3 283.4h0 M187.9 287.9h0 M176.8 290.6h0 M179.4 281.6h0 M185.3 304.3h0 M176.2 304.9h0 M187.2 285.5h0 M182.0 297.7h0 M183.1 302.7h0 M181.2 293.5h0 M178.0 302.5h0 M190.1 287.5h0 M182.4 300.8h0 M175.7 299.6h0 M185.0 285.7h0 M184.5 289.5h0 M170.1 292.3h0 M178.1 281.8h0 M182.2 283.6h0 M176.4 304.6h0 M182.6 288.6h0 M186.1 279.0h0 M167.9 304.3h0 M169.4 298.6h0 M166.8 303.5h0 M187.1 286.1h0 M172.4 310.7h0 M169.9 295.8h0 M182.7 297.6h0 M180.7 306.8h0 M189.8 288.3h0 M176.4 292.6h0 M191.2 287.6h0 M185.8 291.1h0 M179.2 300.0h0 M178.6 281.1h0 M172.7 290.9h0 M183.4 277.0h0 M177.2 289.8h0 M171.2 297.2h0 M177.8 294.7h0 M180.6 287.7h0 M189.8 281.7h0 M184.7 294.3h0 M172.1 296.8h0 M182.2 293.2h0 M171.0 312.3h0 M186.9 285.9h0 M184.8 291.4h0 M181.2 308.4h0 M182.2 306.8h0 M167.5 304.2h0 M170.2 308.0h0 M173.6 297.9h0 M175.4 283.6h0 M173.6 286.3h0 M176.2 303.6h0 M179.0 305.0h0 M190.7 294.4h0 M170.0 306.3h0 M186.5 287.6h0 M172.9 301.7h0 M179.6 293.7h0 M177.6 295.3h0 M190.9 279.5h0 M176.9 304.5h0 M177.1 287.5h0 M185.6 281.5h0 M185.0 279.5h0 M180.1 301.9h0 M175.2 301.6h0 M181.1 284.9h0 M170.8 297.0h0 M175.9 307.3h0 M180.3 303.4h0 M187.7 291.9h0 M182.7 296.2h0 M167.7 298.0h0 M169.4 302.5h0 M169.7 298.5h0 M179.6 288.3h0 M186.6 284.3h0 M191.3 276.7h0 M169.6 307.3h0 M190.5 292.2h0 M175.5 293.2h0 M174.1 293.0h0 M182.8 276.5h0 M172.0 290.1h0 M178.0 289.0h0 M182.1 284.0h0 M183.9 298.8h0 M190.7 283.9h0 M177.6 302.2h0 M180.8 281.6h0 M176.8 295.1h0 M183.7 296.1h0 M183.3 286.6h0 M181.4 283.4h0 M178.1 308.3h0 M183.1 298.5h0 M175.7 288.6h0 M172.2 313.0h0 M182.3 304.9h0 M180.9 293.7h0 M175.6 311.1h0 M185.7 302.2h0 M183.8 280.9h0 M177.1 285.3h0 M183.5 297.1h0 M179.3 303.8h0 M178.3 292.6h0 M180.7 300.0h0 M176.4 288.9h0 M171.4 292.3h0 M177.6 307.7h0 M167.8 309.4h0 M174.1 285.5h0 M172.9 299.5h0 M191.1 289.0h0 M176.8 287.4h0 M171.7 311.0h0 M184.4 301.9h0 M183.0 302.4h0 M182.4 299.0h0 M173.1 305.6h0 M180.9 292.7h0 M186.7 292.2h0 M179.1 289.6h0 M171.4 300.5h0 M179.7 298.1h0 M167.7 296.8h0 M180.6 277.9h0 M179.4 296.7h0 M179.5 304.2h0 M182.1 300.0h0 M178.3 308.1h0 M183.1 293.5h0 M178.8 304.8h0 M177.2 288.6h0 M174.2 302.9h0 M178.7 298.5h0 M184.4 283.8h0 M187.2 296.2h0 M183.2 278.3h0 M183.6 294.6h0 M174.7 297.6h0 M170.7 292.1h0 M171.1 290.4h0 M181.1 305.4h0 M178.7 297.0h0 M169.3 309.5h0 M173.5 290.2h0 M190.4 286.0h0 M173.7 293.8h0 M186.5 275.5h0 M184.7 285.8h0 M185.4 299.4h0 M176.4 289.5h0 M176.5 293.1h0 M185.7 294.1h0 M175.3 309.0h0 M175.8 309.0h0 M180.3 304.5h0 M171.5 296.1h0 M179.0 305.1h0 M181.1 286.3h0 M167.5 306.1h0 M180.7 298.2h0 M191.4 294.2h0 M181.8 290.0h0 M183.8 292.7h0 M190.5 281.6h0 M173.8 300.0h0 M182.6 279.0h0 M184.9 297.3h0 M183.8 276.1h0 M183.6 276.3h0 M170.0 303.1h0 M174.4 294.0h0 M174.2 304.4h0 M177.3 302.1h0 M173.3 312.1h0 M170.9 290.8h0 M174.5 302.2h0 M176.7 302.8h0 M178.6 297.0h0 M169.9 292.7h0 M188.4 287.2h0 M189.8 287.1h0 M175.3 311.5h0 M177.0 301.0h0 M168.9 309.0h0 M176.6 288.7h0 M184.7 275.8h0 M182.2 295.3h0 M186.8 282.9h0 M181.8 304.8h0 M185.7 294.0h0 M177.9 301.1h0 M185.2 295.7h0 M173.7 292.3h0 M191.0 288.6h0 M184.5 304.4h0 M182.2 280.8h0 M172.7 306.7h0 M184.3 276.9h0 M169.0 302.4h0 M175.9 292.4h0 M188.8 288.9h0 M182.0 295.6h0 M191.4 278.8h0 M177.0 287.9h0 M178.6 298.8h0 M184.6 285.4h0 M184.0 285.5h0 M175.4 292.0h0 M179.5 295.0h0 M176.4 310.1h0 M178.2 286.8h0 M181.7 296.9h0 M181.2 302.7h0 M191.5 282.5h0 M188.1 281.2h0 M170.3 296.1h0 M179.3 291.3h0 M183.3 298.5h0 M182.0 294.9h0 M179.5 282.4h0 M177.3 291.4h0 M172.5 298.3h0 M180.0 291.4h0 M172.4 305.1h0 M178.6 296.4h0 M185.0 290.5h0 M185.4 279.5h0 M169.3 296.7h0 M173.2 296.1h0 M176.4 305.8h0 M186.8 303.2h0 M167.3 311.6h0 M182.7 293.4h0 M179.5 300.4h0 M179.6 303.5h0 M177.1 293.9h0 M187.1 288.1h0 M171.1 296.9h0 M189.4 280.7h0 M190.0 291.7h0 M179.4 285.4h0 M176.1 301.4h0 M190.8 293.5h0 M181.1 304.6h0 M176.4 289.0h0 M176.1 311.8h0 M188.6 284.4h0 M168.2 307.1h0 M173.4 287.0h0 M170.5 297.0h0 M180.1 304.3h0 M185.6 293.1h0 M174.0 287.6h0 M169.1 295.6h0 M173.0 299.5h0 M178.3 300.8h0 M185.1 280.2h0 M173.0 299.3h0 M166.0 307.6h0 M181.5 298.0h0 M186.8 286.4h0 M180.4 301.7h0 M177.8 288.4h0 M178.5 285.0h0 M190.2 292.9h0 M186.0 277.3h0 M178.4 295.9h0 M176.5 302.9h0 M183.9 290.7h0 M182.0 293.2h0 M179.4 305.2h0 M186.1 303.6h0 M183.1 295.4h0 M178.5 292.8h0 M179.0 298.4h0 M179.1 297.8h0 M173.1 300.7h0 M187.5 291.4h0 M172.5 293.2h0 M171.6 310.1h0 M176.0 305.5h0 M186.7 298.4h0 M190.8 290.3h0 M187.2 280.9h0 M174.2 313.9h0 M179.7 291.1h0 M176.6 296.2h0 M184.4 275.8h0 M185.6 283.1h0 M177.9 285.3h0 M186.1 284.4h0 M190.5 295.3h0 M191.2 291.0h0 M182.9 294.7h0 M175.2 289.6h0 M188.7 289.7h0 M184.8 280.3h0 M180.5 296.7h0 M169.3 305.4h0 M175.2 300.7h0 M174.9 298.6h0 M177.6 288.2h0 M187.0 289.5h0 M173.8 307.9h0 M189.7 290.8h0 M176.3 304.6h0 M179.9 307.8h0 M189.5 287.4h0 M174.6 290.4h0 M170.1 292.6h0 M184.0 291.1h0 M185.2 305.3h0 M187.8 287.1h0 M175.0 296.0h0 M185.4 296.1h0 M180.6 293.6h0 M173.1 294.9h0 M189.9 296.7h0 M187.1 292.6h0 M170.6 297.3h0 M169.1 307.0h0 M173.2 312.5h0 M175.0 295.4h0 M187.6 301.8h0 M177.0 290.9h0 M187.9 282.2h0 M169.8 313.5h0 M183.7 288.6h0 M175.6 306.5h0 M175.9 300.4h0 M175.8 308.9h0 M189.1 284.5h0 M180.5 287.2h0 M169.4 295.2h0 M176.8 292.3h0 M167.6 305.8h0 M187.8 280.1h0 M183.2 278.7h0 M179.8 304.4h0 M179.6 307.1h0 M170.6 303.1h0 M176.5 291.5h0 M175.0 287.3h0 M174.6 305.1h0 M183.7 279.5h0 M173.8 299.6h0 M170.3 313.1h0 M181.3 304.4h0 M172.2 293.0h0 M177.8 304.7h0 M183.9 296.1h0 M167.7 302.3h0 M186.6 284.0h0 M168.9 301.3h0 M174.4 304.4h0 M172.2 296.0h0 M176.2 287.8h0 M177.6 300.0h0 M177.2 310.8h0 M173.5 291.8h0 M176.7 308.4h0 M167.4 301.2h0 M178.3 282.4h0 M178.7 287.4h0 M184.3 292.1h0 M171.2 310.4h0 M173.9 295.6h0 M176.6 298.0h0 M169.9 298.8h0 M182.8 285.4h0 M175.0 288.3h0 M179.8 296.3h0 M180.0 284.6h0 M186.8 276.0h0 M168.4 313.0h0 M177.8 294.1h0 M171.5 313.6h0 M181.4 286.3h0 M169.2 313.6h0 M183.6 302.5h0 M176.6 281.8h0 M174.7 291.2h0 M173.8 288.0h0 M183.8 295.0h0 M185.3 293.2h0 M174.0 292.4h0 M183.3 282.1h0 M189.8 279.3h0 M175.7 290.2h0 M187.9 281.8h0 M175.5 295.6h0 M172.6 294.6h0 M187.0 295.4h0 M180.5 301.8h0 M187.7 295.7h0 M180.5 291.8h0 M185.8 278.9h0 M184.7 278.7h0 M182.1 279.9h0 M177.9 280.6h0 M174.7 313.4h0 M186.5 276.4h0 M171.5 307.7h0 M184.0 295.9h0 M179.8 285.8h0 M175.1 306.1h0 M179.2 290.3h0 M172.9 299.1h0 M169.7 303.9h0 M174.8 298.5h0 M178.1 309.7h0 M170.5 310.2h0 M186.6 282.0h0 M176.0 290.4h0 M174.5 293.0h0 M177.5 294.3h0 M176.7 308.8h0 M181.9 300.8h0 M183.3 283.2h0 M182.0 287.9h0 M179.4 289.5h0 M187.6 279.4h0 M172.7 306.4h0 M190.8 284.2h0 M178.5 287.7h0 M187.2 302.5h0 M175.7 302.8h0 M170.7 303.6h0 M172.7 307.9h0 M180.9 300.5h0 M177.1 292.5h0 M187.3 290.6h0 M188.4 298.4h0 M182.1 279.9h0 M187.3 293.2h0 M172.9 305.9h0 M178.2 286.6h0 M178.8 309.7h0 M182.8 297.6h0 M183.7 293.8h0 M186.8 291.3h0 M183.2 283.7h0 M171.5 300.9h0 M191.6 284.3h0 M179.7 303.4h0 M181.3 296.1h0 M175.8 303.2h0 M184.7 288.2h0 M175.1 298.2h0 M185.4 297.4h0 M177.2 288.7h0 M181.6 303.2h0 M176.5 288.4h0 M171.2 291.4h0 M171.1 292.2h0 M178.7 304.5h0 M167.1 307.5h0 M177.5 312.2h0 M169.3 308.0h0 M182.9 292.1h0 M171.6 291.4h0 M180.1 304.6h0 M178.9 295.9h0 M187.6 301.4h0 M176.9 282.6h0 M174.7 299.0h0 M174.1 286.6h0 M174.3 307.7h0 M169.6 297.7h0 M167.5 304.9h0 M170.7 304.1h0 M174.1 292.8h0 M175.4 299.2h0 M172.6 303.2h0 M184.7 288.6h0 M172.9 287.6h0 M178.4 300.1h0 M179.5 308.2h0 M177.4 311.9h0 M191.3 291.0h0 M180.5 301.8h0 M185.5 296.5h0 M187.5 290.3h0 M186.4 299.8h0 M167.2 302.5h0 M168.4 307.9h0 M189.9 283.0h0 M188.3 285.8h0 M183.3 306.2h0 M183.3 305.5h0 M184.8 298.8h0 M172.9 294.2h0 M178.2 299.2h0 M188.5 276.8h0 M174.4 294.8h0 M173.7 304.7h0 M180.0 294.8h0 M182.5 296.8h0 M170.1 298.6h0 M166.6 299.8h0 M191.2 283.1h0 M176.4 297.7h0 M174.8 302.6h0 M174.7 303.8h0 M183.2 279.1h0 M175.6 288.1h0 M178.2 283.4h0 M187.7 291.0h0 M175.9 300.8h0 M168.1 302.0h0 M167.5 306.1h0 M190.1 278.6h0 M171.1 292.3h0 M184.8 304.5h0 M182.7 293.6h0 M176.3 294.2h0 M167.4 304.2h0 M170.7 300.3h0 M184.9 287.6h0 M191.2 291.7h0 M173.4 290.3h0 M186.4 279.0h0 M170.4 306.9h0 M188.9 278.5h0 M188.3 296.5h0 M172.7 313.7h0 M176.1 284.5h0 M185.4 280.7h0 M185.9 284.1h0 M183.1 302.7h0 M175.0 303.7h0 M188.6 281.3h0 M174.1 293.3h0 M174.3 310.2h0 M183.0 300.0h0 M172.4 296.2h0 M170.7 304.3h0 M180.0 284.6h0 M169.1 313.0h0 M186.6 287.5h0 M181.5 277.6h0 M172.7 312.2h0 M173.8 310.8h0 M189.5 283.4h0 M173.8 291.3h0 M184.3 285.8h0 M177.4 299.3h0 M186.3 276.0h0 M188.9 278.1h0 M179.5 309.1h0 M178.4 304.5h0 M170.7 291.3h0 M181.3 297.0h0 M182.6 296.0h0 M180.3 298.2h0 M176.7 310.6h0 M186.4 291.8h0 M186.3 297.5h0 M181.0 297.7h0 M180.4 285.8h0 M167.1 298.6h0 M184.5 294.9h0 M170.3 304.2h0 M182.2 298.4h0 M181.4 303.5h0 M170.7 301.0h0 M191.6 292.0h0 M176.4 311.3h0 M180.2 309.2h0 M179.8 309.1h0 M184.9 282.8h0 M188.9 297.5h0 M181.7 277.9h0 M181.5 296.6h0 M173.2 313.5h0 M173.6 290.9h0 M177.1 293.2h0 M174.9 309.5h0 M173.6 296.6h0 M179.0 285.8h0 M169.0 311.3h0 M174.2 295.0h0 M176.3 306.7h0 M169.6 301.3h0 M177.7 299.8h0 M190.5 276.4h0 M175.5 284.9h0 M188.7 286.8h0 M175.1 296.8h0 M167.8 306.8h0 M176.8 295.3h0 M187.7 293.2h0 M167.1 307.9h0 M171.1 303.3h0 M177.0 286.2h0 M179.5 295.3h0 M169.0 308.3h0 M187.0 289.4h0 M182.6 301.0h0 M185.9 300.2h0 M185.8 283.9h0 M184.1 293.7h0 M169.9 291.5h0 M170.5 307.9h0 M177.6 300.5h0 M188.7 282.8h0 M169.5 302.8h0 M191.3 291.1h0 M180.0 294.3h0 M181.0 294.6h0 M167.3 303.5h0 M169.9 307.3h0 M171.6 299.5h0 M177.6 282.4h0 M174.3 307.7h0 M187.8 280.1h0 M187.6 296.1h0 M182.0 308.1h0 M179.6 282.3h0 M178.8 307.9h0 M168.5 296.3h0 M187.5 292.6h0 M168.7 296.9h0 M175.6 305.2h0 M172.0 305.5h0 M179.6 291.8h0 M183.1 288.6h0 M181.7 285.5h0 M177.7 304.4h0 M178.8 297.7h0 M191.1 279.5h0 M180.7 307.4h0 M173.1 296.8h0 M188.6 291.8h0 M166.3 305.3h0 M186.0 291.6h0 M169.9 310.8h0 M168.6 303.2h0 M186.6 297.2h0 M176.4 299.7h0 M183.6 302.7h0 M172.6 310.6h0 M176.5 306.2h0 M182.4 288.9h0 M182.9 290.5h0 M187.4 300.1h0 M174.5 284.3h0 M181.3 299.2h0 M168.5 305.4h0 M170.1 310.3h0 M187.4 296.8h0 M170.1 311.6h0 M180.6 300.7h0 M184.9 281.2h0 M174.8 301.6h0 M182.2 296.0h0 M179.9 307.9h0 M177.0 289.8h0 M173.5 288.4h0 M172.5 301.7h0 M175.3 301.1h0 M169.7 303.2h0 M169.1 307.8h0 M169.2 304.8h0 M174.1 294.4h0 M171.6 302.4h0 M174.6 291.7h0 M171.7 302.5h0 M176.6 286.8h0 M184.3 295.9h0 M182.4 306.8h0 M171.7 303.2h0 M173.1 310.4h0 M178.6 294.7h0 M177.9 288.5h0 M179.5 294.5h0 M181.1 294.3h0 M183.5 297.5h0 M179.5 298.8h0 M189.4 298.7h0 M177.0 290.0h0 M181.0 304.1h0 M186.8 278.1h0 M171.3 306.6h0 M187.4 283.4h0 M179.4 286.2h0 M183.3 299.1h0 M173.9 293.3h0 M188.0 284.3h0 M176.8 300.9h0 M178.9 296.5h0 M171.5 298.7h0 M183.9 279.9h0 M171.7 305.2h0 M172.9 300.4h0 M182.1 292.4h0 M176.2 292.4h0 M179.9 308.5h0 M189.8 294.8h0 M172.5 290.9h0 M171.9 299.2h0 M176.3 310.9h0 M182.6 293.7h0 M186.8 299.3h0 M178.5 286.6h0 M180.4 284.1h0 M182.5 294.3h0 M190.3 283.0h0 M189.9 283.9h0 M174.1 310.0h0 M174.2 295.1h0 M188.0 300.2h0 M184.4 277.5h0 M174.1 293.3h0 M183.4 276.1h0 M184.7 281.2h0 M179.1 302.6h0 M185.4 300.7h0 M176.0 288.0h0 M172.3 298.3h0 M173.9 301.2h0 M176.5 294.9h0 M182.1 288.7h0 M173.7 298.6h0 M182.3 294.7h0 M186.6 278.1h0 M189.6 283.8h0 M184.4 275.9h0 M187.4 280.2h0 M173.3 297.2h0 M187.9 276.5h0 M172.3 309.8h0 M190.5 287.0h0 M176.8 301.7h0 M175.6 304.9h0 M174.1 299.4h0 M177.6 292.0h0 M176.0 287.6h0 M176.6 293.0h0 M181.3 284.5h0 M171.9 309.4h0 M183.2 294.5h0 M170.4 291.4h0 M183.8 291.4h0 M188.1 275.9h0 M186.4 299.9h0 M178.8 301.0h0 M174.4 286.3h0 M177.3 293.3h0 M173.0 293.9h0 M171.9 305.6h0 M187.1 290.2h0 M189.7 296.2h0 M168.9 309.6h0 M187.0 277.2h0 M183.0 291.4h0 M172.2 300.7h0 M172.7 299.0h0 M168.3 304.3h0 M173.1 286.9h0 M176.1 306.6h0 M189.1 290.3h0 M177.9 304.8h0 M188.1 291.5h0 M182.5 297.3h0 M189.3 295.5h0" stroke="#c0c0c0" stroke-width="1.50" stroke-linecap="round" fill="none"/>
<path d="M220.7 305.6h0 M200.2 323.8h0 M205.8 324.3h0 M208.6 312.5h0 M197.5 323.3h0 M212.6 320.8h0 M238.0 324.0h0 M238.8 316.0h0 M196.2 315.0h0 M205.1 324.6h0 M196.3 323.1h0 M223.0 319.0h0 M211.1 288.6h0 M211.3 304.5h0 M203.6 313.9h0 M207.6 326.0h0 M229.7 307.1h0 M188.1 316.2h0 M217.7 317.6h0 M204.0 313.0h0 M202.8 287.0h0 M222.0 321.0h0 M211.6 328.1h0 M212.6 318.1h0 M195.1 314.6h0 M215.4 291.3h0 M198.8 318.3h0 M209.7 328.5h0 M230.9 313.3h0 M230.8 323.3h0 M204.8 315.7h0 M190.2 326.9h0 M238.8 323.9h0 M229.7 290.7h0 M240.0 316.3h0 M203.3 314.1h0 M191.4 321.8h0 M210.8 314.0h0 M212.3 317.4h0 M192.5 302.4h0 M223.5 324.1h0 M239.2 313.0h0 M198.3 309.5h0 M190.2 298.8h0 M203.7 322.2h0 M221.9 324.8h0 M234.2 326.9h0 M234.2 320.9h0 M204.2 320.8h0 M189.5 317.3h0 M188.7 324.7h0 M215.7 324.9h0 M199.4 303.7h0 M240.0 298.2h0 M205.2 315.6h0 M242.1 288.0h0 M199.6 327.0h0 M240.2 327.3h0 M224.0 288.2h0 M210.5 318.2h0 M198.8 317.6h0 M195.6 313.2h0 M195.5 298.0h0 M227.6 325.9h0 M211.8 320.6h0 M200.2 316.5h0 M239.3 323.7h0 M210.9 323.6h0 M233.1 292.1h0 M226.6 328.5h0 M231.4 316.0h0 M193.2 322.2h0 M190.2 322.5h0 M223.3 318.2h0 M196.2 293.7h0 M189.3 301.9h0 M205.1 306.8h0 M238.8 311.5h0 M189.9 314.4h0 M191.8 322.6h0 M220.7 319.0h0 M191.9 322.4h0 M228.1 313.5h0 M188.5 299.0h0 M195.8 327.6h0 M216.0 320.3h0 M198.1 319.2h0 M198.0 326.6h0 M214.4 321.5h0 M204.7 306.6h0 M216.7 303.1h0 M215.4 295.5h0 M219.5 324.2h0 M217.9 314.9h0 M197.3 323.1h0 M188.0 318.6h0 M242.0 318.9h0 M191.1 291.7h0 M191.5 321.4h0 M236.1 302.5h0 M217.1 322.8h0 M189.5 325.1h0 M239.2 320.0h0 M199.9 328.3h0 M204.3 320.7h0 M217.6 328.2h0 M203.5 317.8h0 M238.6 315.3h0 M240.9 319.4h0 M225.6 316.8h0 M217.4 319.9h0 M212.8 302.7h0 M237.4 316.5h0 M198.8 314.9h0 M197.5 300.9h0 M189.1 312.8h0 M204.0 300.9h0 M214.2 319.4h0 M191.2 307.6h0 M228.6 297.1h0 M211.6 307.0h0 M202.5 308.0h0 M209.0 321.4h0 M190.0 325.1h0 M229.5 324.7h0 M211.1 321.1h0 M241.2 321.2h0 M218.5 328.7h0 M232.2 311.1h0 M192.9 317.4h0 M194.1 314.6h0 M239.5 321.0h0 M212.8 297.2h0 M189.2 325.5h0 M189.2 322.5h0 M224.8 313.8h0 M217.7 287.2h0 M217.9 312.9h0 M232.6 322.3h0 M206.4 316.4h0 M215.5 323.4h0 M233.2 318.9h0 M193.6 304.3h0 M191.9 304.8h0 M211.9 311.2h0 M197.0 319.2h0 M192.3 315.7h0 M217.0 289.4h0 M204.6 314.1h0 M230.0 303.7h0 M226.5 320.5h0 M239.1 312.8h0 M189.5 327.6h0 M221.7 325.5h0 M215.1 285.7h0 M235.6 308.3h0 M194.1 324.9h0 M212.5 294.3h0 M212.7 324.3h0 M229.2 320.4h0 M207.4 312.4h0 M236.2 320.3h0 M228.3 319.2h0 M201.8 312.7h0 M200.0 325.8h0 M232.9 316.7h0 M200.6 323.1h0 M221.5 299.2h0 M189.9 319.2h0 M228.7 320.7h0 M234.4 327.0h0 M191.8 327.1h0 M197.2 308.5h0 M234.4 315.8h0 M232.9 325.3h0 M229.3 317.8h0 M214.6 327.6h0 M227.3 319.4h0 M190.9 325.4h0 M189.9 310.3h0 M230.1 316.5h0 M201.1 321.5h0 M194.2 323.9h0 M189.2 323.7h0 M201.4 308.9h0 M202.0 309.1h0 M190.0 323.1h0 M221.3 305.2h0 M188.4 317.7h0 M220.4 321.8h0 M234.7 326.5h0 M238.0 315.4h0 M235.3 323.2h0 M235.8 317.7h0 M207.0 324.2h0 M203.5 317.8h0 M190.5 326.2h0 M210.1 294.7h0 M223.7 321.4h0 M234.9 316.2h0 M193.2 314.7h0 M207.9 314.1h0 M203.6 316.6h0 M188.8 295.9h0 M233.3 320.0h0 M227.5 312.7h0 M223.2 311.1h0 M205.9 293.3h0 M193.9 318.7h0 M189.0 322.4h0 M215.6 298.8h0 M202.3 314.9h0 M188.6 327.6h0 M235.7 286.2h0 M208.1 319.7h0 M191.2 301.3h0 M188.0 286.7h0 M233.9 327.8h0 M240.9 318.6h0 M204.7 297.6h0 M193.3 300.8h0 M206.6 323.8h0 M237.6 327.4h0 M191.5 310.4h0 M237.3 292.8h0 M235.3 318.5h0 M205.4 313.7h0 M231.4 292.1h0 M204.1 296.2h0 M216.8 324.7h0 M194.8 286.5h0 M202.3 306.6h0 M237.5 318.9h0 M222.4 323.3h0 M217.0 320.8h0 M217.8 315.4h0 M221.3 307.7h0 M229.4 318.0h0 M189.2 314.3h0 M193.1 309.9h0 M234.3 294.1h0 M207.6 325.8h0 M209.0 315.0h0 M222.8 300.9h0 M213.5 313.7h0 M222.9 320.8h0 M227.7 288.3h0 M219.8 315.0h0 M221.1 324.9h0 M212.9 288.4h0 M236.5 313.9h0 M230.8 315.3h0 M200.0 318.1h0 M211.6 309.7h0 M189.0 316.5h0 M212.7 289.2h0 M192.2 292.1h0 M194.5 317.5h0 M233.2 312.4h0 M199.7 320.9h0 M231.9 328.9h0 M225.4 331.6h0 M220.6 330.7h0 M229.8 333.9h0 M227.2 331.2h0 M229.3 331.2h0 M229.7 332.4h0 M229.0 327.6h0 M230.3 330.8h0 M235.9 326.9h0 M225.3 331.7h0 M227.5 330.2h0 M233.1 335.6h0 M227.3 333.0h0 M236.7 336.9h0 M234.8 330.6h0 M229.3 330.3h0 M228.7 325.1h0 M232.7 332.1h0 M237.7 330.5h0 M228.0 331.4h0 M234.3 330.5h0 M233.5 329.9h0 M235.8 330.8h0 M241.4 329.0h0 M238.3 330.6h0 M229.1 330.8h0 M233.2 332.2h0 M218.0 332.3h0 M238.0 326.1h0 M239.7 331.7h0 M230.5 325.7h0 M235.9 334.1h0 M226.9 333.3h0 M229.3 337.7h0 M228.5 332.5h0 M235.5 331.6h0 M223.7 329.7h0 M236.9 325.6h0 M237.1 328.1h0 M240.9 334.3h0 M241.1 325.2h0 M228.7 327.3h0 M225.6 322.1h0 M236.7 330.6h0 M227.9 330.2h0 M236.2 330.5h0 M238.0 329.6h0 M229.9 327.5h0 M248.0 336.7h0 M232.8 327.6h0 M229.4 333.7h0 M228.8 330.1h0 M227.1 335.9h0 M225.3 330.0h0 M231.4 327.9h0 M232.9 334.1h0 M228.7 333.2h0 M236.3 331.0h0 M231.2 329.8h0" stroke="#c4c4c4" stroke-width="1.50" stroke-linecap="round" fill="none"/>
<path d="M178.6 337.8h0 M189.8 331.9h0 M214.8 333.4h0 M206.2 333.4h0 M199.5 335.9h0 M193.1 332.9h0 M191.5 332.5h0 M184.5 336.8h0 M211.9 333.0h0 M222.7 331.8h0 M184.8 336.1h0 M213.5 332.9h0 M218.1 329.2h0 M210.1 332.9h0 M178.0 333.7h0 M189.5 332.4h0 M229.6 333.1h0 M213.6 333.8h0 M194.0 333.8h0 M191.2 331.7h0 M188.2 340.0h0 M204.3 326.1h0 M180.9 336.9h0 M203.4 330.9h0 M202.3 339.9h0 M217.2 335.2h0 M188.2 334.3h0 M189.7 332.3h0 M195.1 338.0h0 M221.4 335.4h0 M226.5 333.9h0 M190.6 331.9h0 M211.7 327.1h0 M195.1 334.0h0 M217.5 334.1h0 M205.5 336.4h0 M207.0 334.4h0 M207.0 333.4h0 M189.9 334.5h0 M187.8 335.4h0 M201.7 330.9h0 M219.5 333.3h0 M196.7 332.6h0 M208.6 335.3h0 M227.5 332.1h0 M204.0 333.4h0 M211.3 334.8h0 M198.7 328.1h0 M180.4 334.4h0 M184.3 330.3h0 M194.5 332.5h0 M196.5 328.7h0 M191.6 334.3h0 M213.3 334.2h0 M194.1 329.1h0 M184.4 327.6h0 M226.4 329.5h0 M194.6 334.7h0 M198.2 328.8h0 M200.9 325.7h0 M200.1 327.6h0 M210.9 332.1h0 M199.7 334.2h0 M206.3 334.0h0 M230.2 330.1h0 M192.4 337.4h0 M190.8 331.4h0 M212.7 339.7h0 M177.5 332.8h0 M205.8 330.3h0 M186.7 331.2h0 M178.4 327.1h0 M227.2 335.0h0 M198.9 335.7h0 M202.5 327.1h0 M201.2 330.5h0 M223.0 333.0h0 M191.1 337.2h0 M197.6 332.1h0 M214.3 330.8h0 M224.2 338.3h0 M189.5 330.1h0 M217.7 333.9h0 M213.4 333.4h0 M221.3 334.9h0 M207.7 332.3h0 M200.5 334.6h0 M213.7 336.6h0 M203.5 334.3h0 M213.0 328.4h0 M222.8 336.1h0 M198.8 326.6h0 M199.2 338.0h0 M191.8 335.0h0 M199.1 332.5h0 M208.9 332.4h0 M216.2 332.2h0 M203.5 332.2h0 M204.1 336.5h0 M223.6 329.3h0 M186.6 334.1h0 M187.9 333.6h0 M201.0 335.7h0 M175.5 327.1h0 M190.0 325.7h0 M207.3 329.2h0 M204.1 327.0h0 M214.4 334.9h0 M183.1 333.9h0 M199.2 332.4h0 M201.9 332.4h0 M219.2 335.6h0 M195.1 334.5h0 M202.4 332.7h0 M197.2 334.1h0 M208.5 326.9h0 M229.6 334.2h0 M198.6 332.6h0 M213.1 331.1h0 M207.8 329.8h0 M193.2 327.7h0 M205.5 331.6h0 M202.3 330.6h0 M187.5 330.8h0 M196.0 334.4h0 M194.0 330.8h0 M195.5 331.3h0 M213.9 329.7h0 M218.8 334.5h0 M193.3 335.4h0 M207.7 331.0h0 M195.3 337.2h0 M206.3 336.5h0 M188.8 331.1h0 M201.9 333.2h0 M211.1 333.1h0 M183.0 332.0h0 M219.3 332.9h0 M192.5 328.3h0 M179.2 330.7h0 M180.6 329.0h0 M201.9 333.8h0 M215.5 331.1h0 M228.1 335.3h0 M175.6 329.8h0 M191.4 333.3h0 M212.5 332.1h0 M188.0 333.1h0 M206.7 333.4h0 M194.0 332.7h0 M198.8 335.8h0 M187.0 331.8h0 M205.0 334.2h0 M201.3 333.0h0 M214.2 334.5h0 M199.6 336.9h0 M203.0 332.1h0 M193.5 333.8h0 M210.1 321.7h0 M179.9 332.9h0 M191.7 331.0h0 M220.2 331.5h0 M203.8 335.0h0 M196.9 329.3h0 M212.8 332.5h0 M220.0 335.0h0 M197.5 337.0h0 M228.6 328.1h0 M208.3 332.3h0 M179.8 330.7h0 M179.5 332.3h0 M205.6 329.7h0 M185.9 335.2h0 M218.8 332.5h0 M214.2 336.3h0 M193.5 334.4h0 M223.2 332.3h0 M201.9 338.4h0 M217.0 333.3h0 M209.0 339.3h0 M196.9 339.6h0 M210.7 327.8h0 M210.0 328.1h0 M202.3 331.0h0 M179.7 335.5h0 M199.1 333.1h0 M174.3 323.9h0 M196.5 330.8h0 M202.4 333.9h0 M189.3 330.9h0 M189.0 330.7h0 M196.0 338.3h0 M214.1 330.9h0 M202.0 331.6h0 M204.0 332.2h0 M206.4 330.2h0 M216.4 335.0h0 M213.6 338.6h0 M226.0 329.3h0 M197.7 330.5h0 M201.4 328.4h0 M178.2 326.9h0 M189.5 333.1h0 M209.9 334.2h0 M213.3 335.4h0 M192.7 330.8h0 M183.7 329.8h0 M175.6 331.9h0 M182.2 335.2h0 M196.4 336.9h0 M204.2 326.5h0 M198.9 328.3h0 M212.9 329.3h0 M191.8 332.9h0 M202.1 331.3h0 M202.4 329.8h0 M229.0 338.4h0 M195.3 329.0h0 M213.9 327.5h0 M212.5 329.8h0 M177.0 330.2h0 M197.1 334.9h0 M194.8 326.3h0 M188.8 332.8h0 M211.7 330.1h0 M187.6 332.0h0 M200.6 328.0h0 M205.1 337.3h0 M208.9 335.1h0 M210.3 327.4h0 M209.2 335.6h0 M216.8 331.2h0 M198.9 330.2h0 M211.3 330.3h0 M185.2 333.0h0 M210.8 328.5h0 M190.7 338.8h0 M209.4 330.8h0 M189.5 331.2h0 M200.6 336.8h0 M224.2 331.3h0 M204.2 331.6h0 M184.2 333.3h0 M196.4 334.1h0 M190.8 335.6h0 M196.1 329.7h0 M208.0 336.9h0 M205.8 333.5h0 M204.6 331.3h0 M202.4 334.4h0 M187.8 329.6h0 M202.7 334.1h0 M203.6 330.1h0 M216.4 333.7h0 M221.6 335.7h0 M199.7 329.9h0 M217.2 329.3h0 M226.1 336.2h0 M184.1 334.6h0 M184.3 325.5h0 M222.4 329.1h0 M199.7 336.8h0 M179.9 339.2h0 M210.1 330.1h0 M187.5 332.2h0 M217.7 328.1h0 M205.9 335.4h0 M216.0 328.4h0 M209.3 335.1h0 M212.0 330.1h0 M214.0 327.8h0 M206.2 336.3h0 M181.2 331.8h0 M224.9 331.5h0 M190.3 333.0h0 M206.8 336.2h0 M200.8 334.9h0 M210.2 331.7h0 M229.0 336.1h0 M208.0 333.1h0 M173.7 331.8h0 M175.3 334.5h0 M195.5 334.8h0 M187.5 335.0h0 M228.9 330.2h0 M209.3 334.0h0 M187.9 330.7h0 M202.2 336.0h0 M203.3 333.0h0 M177.9 331.8h0 M212.7 334.7h0 M198.2 329.3h0 M215.8 332.1h0 M204.8 338.6h0 M190.3 335.6h0 M198.4 333.5h0 M204.4 331.9h0 M203.4 333.0h0 M229.1 325.6h0 M192.9 330.7h0 M183.5 331.0h0 M201.2 334.5h0 M191.7 337.1h0 M206.1 329.4h0 M208.8 331.4h0 M213.7 336.9h0 M216.3 335.9h0 M192.2 332.7h0 M229.3 336.1h0 M204.2 333.8h0 M198.3 331.3h0 M200.1 336.7h0 M210.4 335.5h0 M223.1 327.0h0 M174.9 326.0h0 M200.2 335.5h0 M216.8 332.1h0 M196.3 335.2h0 M196.4 329.5h0 M197.0 332.6h0 M211.3 334.2h0 M229.9 334.8h0 M206.0 336.7h0 M191.9 328.0h0 M196.2 326.4h0 M198.4 332.2h0 M199.5 330.0h0 M202.2 331.6h0 M177.3 335.9h0 M200.8 333.6h0 M212.8 337.2h0 M184.4 336.3h0 M212.9 339.4h0 M204.9 340.2h0 M203.3 332.6h0 M202.5 331.7h0 M208.5 330.7h0 M232.3 333.3h0 M199.6 331.0h0 M198.3 336.6h0 M195.8 333.7h0 M203.8 332.5h0 M214.6 336.4h0 M203.2 335.2h0 M211.7 327.0h0 M184.1 328.2h0 M225.8 330.6h0 M177.5 330.5h0 M173.2 329.7h0 M221.2 340.5h0 M195.6 330.7h0 M202.6 335.1h0 M210.5 336.4h0 M199.4 330.8h0 M184.1 333.4h0 M214.3 327.3h0 M174.2 336.8h0 M188.9 331.8h0 M201.4 335.7h0 M178.3 327.5h0 M208.1 336.3h0 M195.4 336.3h0 M196.8 334.5h0 M206.7 335.9h0 M195.3 333.1h0 M221.5 329.8h0 M197.1 329.0h0 M206.1 331.1h0 M197.1 336.4h0 M184.9 340.0h0 M190.2 329.0h0 M187.8 332.0h0 M179.9 334.3h0 M208.4 332.3h0 M189.2 336.8h0 M206.9 333.8h0 M177.7 326.1h0 M185.8 334.7h0 M211.2 333.8h0 M191.0 330.9h0 M224.1 335.3h0 M200.5 336.0h0 M195.1 334.3h0 M222.5 336.1h0 M186.8 331.4h0 M180.8 337.9h0 M211.0 331.4h0 M208.9 333.4h0 M211.9 333.0h0 M196.6 336.8h0 M230.2 332.6h0 M187.7 331.8h0 M220.4 332.3h0 M230.2 334.2h0 M210.1 331.2h0 M201.2 334.2h0 M191.1 329.7h0 M187.8 333.3h0 M221.4 330.3h0 M208.8 333.2h0 M196.9 333.5h0 M202.0 328.3h0 M190.9 334.7h0 M213.6 337.6h0 M199.5 331.0h0 M217.3 329.8h0 M188.1 331.4h0 M197.2 332.8h0 M199.7 330.0h0 M198.0 331.6h0 M188.2 337.4h0 M200.0 333.8h0 M189.4 331.8h0 M195.6 330.3h0 M207.0 330.7h0 M210.2 327.7h0 M220.0 333.2h0 M216.6 322.8h0 M194.9 333.0h0 M196.6 332.7h0 M205.2 338.3h0 M193.1 334.1h0 M196.0 332.6h0 M208.1 329.8h0 M194.4 329.8h0 M194.1 329.8h0" stroke="#e3201c" stroke-width="1.80" stroke-linecap="round" fill="none"/>
<path d="M209.3 331.3h0 M230.3 332.3h0 M186.7 334.8h0 M220.8 328.4h0 M224.2 330.7h0 M212.5 335.4h0 M199.2 337.2h0 M204.6 330.6h0 M208.9 330.0h0 M208.5 336.6h0 M206.1 330.3h0 M176.3 335.1h0 M210.8 335.2h0 M197.0 337.2h0 M226.2 329.7h0 M197.3 332.1h0 M211.5 333.0h0 M181.7 333.7h0 M221.2 335.3h0 M214.7 335.8h0 M222.9 332.4h0 M238.3 329.1h0 M198.6 331.1h0 M223.2 334.3h0 M215.7 331.9h0 M197.0 331.7h0 M218.1 338.2h0 M211.3 336.3h0 M183.7 333.9h0 M228.7 329.5h0 M211.9 331.2h0 M194.7 325.3h0 M227.6 335.5h0 M185.3 330.8h0 M223.9 327.3h0 M219.8 333.6h0 M192.8 325.4h0 M225.9 334.1h0 M213.0 332.0h0 M215.3 328.5h0 M192.8 331.7h0 M207.1 329.7h0 M227.9 330.2h0 M214.2 333.4h0 M195.1 333.1h0 M179.4 334.0h0 M201.4 334.7h0 M207.6 331.6h0 M237.8 336.8h0 M195.0 335.8h0 M201.5 334.0h0 M206.6 339.9h0 M199.9 333.5h0 M178.4 333.0h0 M214.8 338.6h0 M206.6 335.3h0 M215.4 338.6h0 M235.3 330.8h0 M208.0 328.9h0 M226.0 333.5h0 M183.7 329.6h0 M216.6 331.6h0 M216.8 335.9h0 M238.1 335.5h0 M189.4 333.0h0 M225.3 334.2h0 M232.9 330.6h0 M198.4 339.5h0 M204.4 336.6h0 M215.9 334.4h0 M210.0 329.2h0 M199.9 332.5h0 M176.7 339.8h0 M232.4 333.9h0 M186.4 330.9h0 M236.5 337.6h0 M222.7 336.2h0 M185.6 331.8h0 M224.7 333.2h0 M186.6 333.3h0 M185.4 336.3h0 M236.0 336.4h0 M178.8 336.5h0 M212.4 337.0h0 M227.9 329.8h0" stroke="#111" stroke-width="1.80" stroke-linecap="round" fill="none"/>
<path d="M174.6 314.7h0 M175.9 311.6h0 M180.0 308.4h0 M182.5 305.3h0 M181.1 300.5h0 M192.1 293.2h0 M202.2 311.4h0 M180.4 312.5h0 M176.0 325.0h0 M187.0 323.0h0 M196.0 320.0h0 M214.0 305.0h0 M228.0 298.0h0" stroke="#e3201c" stroke-width="1.80" stroke-linecap="round" fill="none"/>
<path d="M236.4 283.2h0 M193.7 317.1h0" stroke="#111" stroke-width="1.70" stroke-linecap="round" fill="none"/>
<line x1="192.00" y1="259.80" x2="192.00" y2="342.20" stroke="#666" stroke-width="0.9"/>
<line x1="164.30" y1="314.20" x2="246.00" y2="314.20" stroke="#666" stroke-width="0.9"/>
<line x1="164.30" y1="260.50" x2="164.30" y2="342.40" stroke="#222" stroke-width="1.1"/>
<line x1="163.80" y1="342.40" x2="246.50" y2="342.40" stroke="#222" stroke-width="1.1"/>
<line x1="162.20" y1="275.30" x2="164.30" y2="275.30" stroke="#222" stroke-width="0.8"/>
<text x="161.00" y="278.30" font-size="8.4" text-anchor="end" fill="#222" stroke="#222" stroke-width="0.1">2</text>
<line x1="162.20" y1="294.70" x2="164.30" y2="294.70" stroke="#222" stroke-width="0.8"/>
<text x="161.00" y="297.70" font-size="8.4" text-anchor="end" fill="#222" stroke="#222" stroke-width="0.1">1</text>
<line x1="162.20" y1="314.20" x2="164.30" y2="314.20" stroke="#222" stroke-width="0.8"/>
<text x="161.00" y="317.20" font-size="8.4" text-anchor="end" fill="#222" stroke="#222" stroke-width="0.1">0</text>
<line x1="162.20" y1="334.10" x2="164.30" y2="334.10" stroke="#222" stroke-width="0.8"/>
<text x="161.00" y="337.10" font-size="8.4" text-anchor="end" fill="#222" stroke="#222" stroke-width="0.1">−1</text>
<line x1="176.40" y1="342.40" x2="176.40" y2="344.60" stroke="#222" stroke-width="0.8"/>
<text x="174.60" y="351.40" font-size="8.4" text-anchor="middle" fill="#222" stroke="#222" stroke-width="0.1">−1</text>
<line x1="192.90" y1="342.40" x2="192.90" y2="344.60" stroke="#222" stroke-width="0.8"/>
<text x="192.90" y="351.40" font-size="8.4" text-anchor="middle" fill="#222" stroke="#222" stroke-width="0.1">0</text>
<line x1="209.30" y1="342.40" x2="209.30" y2="344.60" stroke="#222" stroke-width="0.8"/>
<text x="209.30" y="351.40" font-size="8.4" text-anchor="middle" fill="#222" stroke="#222" stroke-width="0.1">1</text>
<line x1="225.70" y1="342.40" x2="225.70" y2="344.60" stroke="#222" stroke-width="0.8"/>
<text x="225.70" y="351.40" font-size="8.4" text-anchor="middle" fill="#222" stroke="#222" stroke-width="0.1">2</text>
<line x1="242.20" y1="342.40" x2="242.20" y2="344.60" stroke="#222" stroke-width="0.8"/>
<text x="242.20" y="351.40" font-size="8.4" text-anchor="middle" fill="#222" stroke="#222" stroke-width="0.1">3</text>
<text x="203.60" y="360.60" font-size="9.2" text-anchor="middle" fill="#222" textLength="44.20" lengthAdjust="spacingAndGlyphs" stroke="#222" stroke-width="0.3">CD8 (CITE-seq)</text>
<text x="148.40" y="302.30" font-size="9.2" text-anchor="middle" fill="#222" textLength="47.20" lengthAdjust="spacingAndGlyphs" stroke="#222" stroke-width="0.3" transform="rotate(-90 148.40 302.30)">CD4 (CITE-seq)</text>
<text x="270.00" y="257.20" font-size="11.5" font-weight="bold" fill="#000" textLength="6.40" lengthAdjust="spacingAndGlyphs">F</text>
<path d="M330.6 328.5h0 M342.9 331.6h0 M327.2 335.7h0 M336.1 331.8h0 M338.0 337.4h0 M346.4 329.3h0 M337.3 331.8h0 M326.4 332.6h0 M338.7 331.7h0 M328.7 331.2h0 M321.3 340.6h0 M334.3 334.4h0 M310.5 341.0h0 M325.5 338.4h0 M314.9 337.0h0 M339.5 331.6h0 M322.6 333.8h0 M337.6 332.3h0 M335.9 328.2h0 M328.1 336.4h0 M333.8 331.4h0 M341.6 334.6h0 M323.5 337.7h0 M312.4 337.3h0 M335.7 334.2h0 M344.5 326.7h0 M336.7 330.1h0 M340.1 335.1h0 M336.6 329.5h0 M312.1 336.6h0 M327.7 331.2h0 M325.7 334.4h0 M333.8 335.2h0 M336.4 331.9h0 M335.3 333.6h0 M341.4 328.2h0 M328.4 331.5h0 M343.2 323.8h0 M314.1 334.3h0 M335.1 332.2h0 M319.9 331.6h0 M317.3 334.6h0 M343.7 335.1h0 M327.2 338.4h0 M332.8 327.4h0 M351.1 333.8h0 M324.3 332.3h0 M346.5 327.6h0 M322.6 334.1h0 M330.1 333.9h0 M322.7 333.8h0 M333.4 332.6h0 M328.0 338.1h0 M325.3 330.4h0 M328.3 338.5h0 M344.0 327.8h0 M352.0 327.4h0 M325.5 339.3h0 M343.9 321.0h0 M321.8 337.5h0 M336.4 334.4h0 M327.5 335.0h0 M332.2 328.9h0 M330.5 330.0h0 M325.9 333.1h0 M338.5 333.0h0 M336.2 329.8h0 M343.9 326.9h0 M340.7 330.8h0 M323.1 337.5h0 M325.2 338.2h0 M324.6 334.9h0 M332.9 333.6h0 M310.5 338.5h0 M332.6 328.9h0 M336.2 333.8h0 M322.8 328.3h0 M338.1 325.0h0 M352.2 330.3h0 M334.2 330.6h0 M336.0 329.8h0 M332.3 332.0h0 M314.8 337.7h0 M322.6 334.7h0 M325.5 332.3h0 M338.7 329.9h0 M333.5 332.0h0 M325.7 334.9h0 M325.2 333.1h0 M330.4 331.1h0 M316.6 333.7h0 M322.4 337.6h0 M328.2 335.6h0 M333.3 334.3h0 M319.3 338.8h0 M343.8 329.5h0 M318.3 336.2h0 M314.3 331.2h0 M314.6 335.6h0 M335.9 336.6h0 M333.4 329.0h0 M335.1 331.0h0 M340.0 330.1h0 M333.7 332.7h0 M336.8 334.7h0 M338.4 332.8h0 M319.0 334.8h0 M347.7 325.4h0 M325.0 332.2h0 M325.6 334.8h0 M331.2 340.7h0 M332.2 336.1h0 M323.1 340.0h0 M314.7 340.3h0 M338.8 325.3h0 M330.0 329.5h0 M327.5 340.3h0 M331.8 331.2h0 M325.9 333.3h0 M336.2 334.6h0 M315.1 337.8h0 M328.1 334.9h0 M340.4 324.7h0 M326.0 331.9h0 M339.9 328.3h0 M341.0 331.7h0 M337.9 324.4h0 M338.5 333.1h0 M336.5 327.3h0 M334.1 334.1h0 M346.1 333.3h0 M335.4 331.9h0 M318.0 332.2h0 M333.8 336.2h0 M336.5 333.0h0 M310.7 340.5h0 M333.0 330.3h0 M332.0 332.6h0 M335.1 332.6h0 M342.4 329.5h0 M333.3 330.5h0 M319.4 338.3h0 M346.0 328.0h0 M327.4 332.7h0 M325.3 333.5h0 M323.4 334.0h0 M314.0 332.8h0 M325.0 339.8h0 M328.0 335.0h0 M331.8 336.6h0 M334.4 319.9h0 M317.1 335.4h0 M327.1 333.3h0 M335.0 332.1h0 M347.1 331.2h0 M332.1 322.9h0 M322.4 338.2h0 M329.9 333.4h0 M339.0 330.5h0 M322.5 334.4h0 M357.4 321.9h0 M301.6 341.0h0 M321.3 333.4h0 M328.5 327.1h0 M339.8 327.7h0 M332.2 332.8h0 M333.8 327.9h0 M335.8 332.9h0 M343.4 329.1h0 M329.5 336.0h0 M324.4 336.8h0 M301.5 337.1h0 M336.1 332.4h0 M341.0 328.9h0 M334.1 340.5h0 M327.9 332.0h0 M346.8 322.7h0 M344.9 333.3h0 M307.7 337.0h0 M330.5 329.8h0 M329.0 332.7h0 M314.8 335.6h0 M325.7 333.1h0 M335.0 332.3h0 M333.5 332.4h0 M338.1 329.5h0 M324.6 336.6h0 M348.2 328.9h0 M340.5 329.2h0 M324.5 337.2h0 M331.5 332.0h0 M336.6 335.8h0 M324.1 335.0h0 M346.7 336.9h0 M334.8 333.8h0 M334.7 333.7h0 M334.0 326.9h0 M333.9 330.8h0 M334.1 334.7h0 M335.9 332.4h0 M321.9 335.4h0 M327.9 331.2h0 M329.8 335.0h0 M345.2 326.0h0 M343.3 327.7h0 M329.1 334.9h0 M327.4 330.7h0 M331.4 337.9h0 M329.9 338.0h0 M332.0 336.8h0 M317.3 336.1h0 M329.5 339.0h0 M338.0 323.9h0 M315.0 330.9h0 M323.2 336.6h0 M328.4 338.5h0 M343.6 328.1h0 M322.5 336.1h0 M314.7 338.3h0 M339.9 336.5h0 M325.8 333.8h0 M341.1 325.8h0 M325.6 336.9h0 M334.9 333.2h0 M327.1 330.3h0 M347.7 327.8h0 M328.3 331.7h0 M310.8 338.2h0 M319.4 327.9h0 M337.7 330.8h0 M337.6 325.8h0 M322.8 332.8h0 M337.7 336.5h0 M339.9 326.1h0 M332.6 332.8h0 M338.4 336.3h0 M331.2 329.3h0 M317.5 333.1h0 M326.0 341.3h0 M329.2 336.7h0 M333.6 336.3h0 M341.1 332.9h0 M333.9 334.2h0 M326.9 330.0h0 M332.5 333.9h0 M317.4 332.5h0 M337.8 332.3h0 M332.8 336.0h0 M319.8 338.6h0 M333.9 331.2h0 M322.6 332.6h0 M338.3 330.5h0 M341.0 331.4h0 M329.1 331.8h0 M329.9 330.6h0 M317.4 331.6h0 M322.2 335.8h0 M316.1 334.8h0 M343.4 326.2h0 M338.8 336.2h0 M322.2 336.8h0 M320.6 331.8h0 M332.2 332.7h0 M335.3 335.1h0 M320.9 338.5h0 M335.4 330.7h0 M336.2 328.0h0 M316.3 338.6h0 M331.8 337.3h0 M324.8 331.1h0 M341.6 326.6h0 M330.7 333.7h0 M341.4 331.6h0 M333.7 327.8h0 M326.5 336.2h0 M330.2 331.2h0 M335.2 331.3h0 M336.0 337.1h0 M321.4 334.9h0 M320.7 340.1h0 M317.8 339.4h0 M328.4 337.1h0 M332.7 326.8h0 M328.7 329.2h0 M333.2 336.2h0 M327.6 337.1h0 M338.2 335.0h0 M343.9 327.7h0 M309.5 335.8h0 M346.2 331.7h0 M340.4 336.6h0 M332.9 338.1h0 M335.2 337.9h0 M303.2 338.8h0 M353.8 329.1h0 M338.8 330.6h0 M326.9 331.9h0 M347.2 333.0h0 M336.1 330.5h0 M315.6 331.5h0 M350.3 331.2h0 M348.1 328.4h0 M328.6 328.5h0 M332.6 331.5h0 M345.9 324.8h0 M339.5 335.5h0 M314.1 333.5h0 M320.7 335.1h0 M319.2 336.6h0 M317.1 331.0h0 M319.8 336.2h0 M328.3 329.6h0 M315.7 337.0h0 M328.1 331.9h0 M335.1 333.5h0 M332.7 333.8h0 M335.1 332.3h0 M323.5 335.0h0 M334.0 324.5h0 M325.2 333.4h0 M345.3 336.3h0 M329.1 325.2h0 M334.3 328.0h0 M306.5 335.8h0 M332.2 337.0h0 M341.8 335.4h0 M341.9 325.3h0 M322.4 338.9h0 M339.0 334.6h0 M339.1 334.9h0 M338.6 330.7h0 M325.8 337.3h0 M332.7 338.9h0 M327.4 335.2h0 M337.2 335.6h0 M347.9 329.7h0 M318.6 331.5h0 M347.4 329.4h0 M321.1 335.4h0 M323.2 336.0h0 M346.3 327.7h0 M331.8 331.6h0 M329.7 330.5h0 M339.3 332.1h0 M331.3 324.7h0 M334.6 332.7h0 M351.4 327.7h0 M319.0 333.8h0 M321.0 337.2h0 M333.6 332.7h0 M322.4 337.0h0 M324.2 330.8h0 M322.8 337.0h0 M351.2 329.6h0 M345.6 324.8h0 M328.7 338.3h0 M334.9 329.7h0 M340.2 330.4h0 M342.7 325.3h0 M319.4 331.1h0 M332.1 334.6h0 M327.0 327.6h0 M340.4 336.6h0 M331.1 333.4h0 M328.5 335.3h0 M315.3 334.1h0 M320.6 336.9h0 M324.1 337.2h0 M337.9 329.9h0 M323.3 338.1h0 M325.4 331.1h0 M331.6 332.0h0 M326.9 334.9h0 M332.5 338.8h0 M346.9 331.6h0 M324.4 330.1h0 M332.6 332.4h0 M324.3 340.0h0 M332.2 328.6h0 M321.0 330.9h0 M318.7 338.6h0 M335.5 331.8h0 M337.4 333.8h0 M317.9 340.0h0 M315.6 335.9h0 M355.8 329.4h0 M317.3 332.3h0 M342.3 334.0h0 M315.1 340.4h0 M341.9 331.2h0 M321.9 335.4h0 M342.7 334.7h0 M326.3 338.8h0 M352.6 321.3h0 M340.1 331.1h0 M337.0 338.5h0 M333.1 336.9h0 M316.6 339.0h0 M326.7 332.1h0 M337.5 330.4h0 M320.5 333.4h0 M329.0 329.5h0 M325.4 327.1h0 M335.1 332.6h0 M339.4 329.1h0 M335.0 333.7h0 M331.0 332.3h0 M323.7 338.6h0 M331.7 329.5h0 M336.9 329.8h0 M335.5 323.1h0 M332.9 328.9h0 M350.4 327.8h0 M333.0 328.9h0 M347.6 327.6h0 M334.0 331.9h0 M317.9 332.6h0 M327.7 339.6h0 M328.8 339.4h0 M319.9 335.7h0 M320.8 331.9h0 M315.2 336.1h0 M336.1 326.7h0 M339.8 329.9h0 M331.2 333.1h0 M342.1 332.3h0 M335.7 332.0h0 M332.8 333.3h0 M352.3 329.7h0 M333.0 331.5h0 M336.6 330.0h0 M334.8 328.6h0 M314.9 337.0h0 M317.7 335.5h0 M318.2 339.4h0 M329.8 328.5h0 M336.3 330.5h0 M344.8 332.6h0 M308.9 340.0h0 M327.5 329.6h0 M352.4 331.9h0 M355.9 321.3h0 M339.0 329.6h0 M355.4 326.4h0 M325.5 333.8h0 M316.3 335.1h0 M329.3 332.2h0 M334.1 335.7h0 M344.0 333.0h0 M339.6 336.1h0 M334.2 334.8h0 M330.9 335.1h0 M331.1 330.8h0 M321.4 336.1h0 M323.9 337.5h0 M339.2 327.6h0 M338.1 334.3h0 M331.2 333.5h0 M315.7 333.8h0 M331.3 334.5h0 M345.0 326.7h0 M339.2 326.7h0 M337.8 335.4h0 M326.4 330.7h0 M322.5 335.0h0 M334.5 327.1h0 M343.8 326.6h0 M328.5 330.5h0 M335.8 332.2h0 M344.4 327.8h0 M322.6 330.8h0 M327.8 331.7h0 M314.7 337.2h0 M320.7 338.9h0 M310.7 330.9h0 M328.8 332.7h0 M341.8 330.6h0 M335.7 336.3h0 M332.4 334.0h0 M335.5 331.2h0 M319.9 333.3h0 M334.7 330.6h0 M323.9 335.9h0 M324.1 333.5h0 M328.6 337.6h0 M321.3 335.0h0 M331.1 333.2h0 M353.6 328.0h0 M331.5 336.2h0 M326.6 332.3h0 M336.1 332.2h0 M334.3 331.9h0 M354.0 324.2h0 M329.7 339.2h0 M317.1 331.9h0 M339.2 330.4h0 M338.0 331.6h0 M354.9 330.3h0 M316.2 335.8h0 M345.0 329.6h0 M341.1 332.2h0 M318.1 331.5h0 M346.4 323.8h0 M325.8 338.2h0 M318.2 337.0h0 M336.3 329.9h0 M315.5 336.3h0 M330.4 332.8h0 M330.0 333.9h0 M336.4 331.2h0 M332.6 334.9h0 M334.3 332.5h0 M308.5 337.1h0 M327.5 330.7h0 M328.6 333.9h0 M332.4 332.6h0 M325.7 340.4h0 M349.2 333.6h0 M326.8 331.8h0 M334.2 330.2h0 M338.2 326.9h0 M333.3 322.6h0 M319.8 335.1h0 M326.6 335.9h0 M333.2 327.5h0 M323.0 337.4h0 M337.7 329.4h0 M350.4 324.5h0 M332.6 333.7h0 M332.5 333.2h0 M316.2 336.7h0 M328.5 334.4h0 M325.8 328.6h0 M337.4 328.1h0 M324.0 338.2h0 M327.4 333.1h0 M326.7 334.7h0 M340.2 329.6h0 M320.1 337.2h0 M323.5 334.3h0 M318.3 336.8h0 M337.4 331.2h0 M320.9 337.6h0 M331.5 331.2h0 M338.9 331.4h0 M316.7 331.8h0 M333.3 331.0h0 M333.4 335.8h0 M327.0 333.1h0 M340.9 330.2h0 M333.9 327.8h0 M337.6 322.9h0 M344.9 324.8h0 M340.0 335.3h0 M339.0 328.9h0 M324.9 332.6h0 M334.6 333.6h0 M329.0 334.4h0 M332.6 334.0h0 M335.9 338.2h0 M327.4 339.6h0 M325.3 332.7h0 M330.5 333.5h0 M331.0 327.7h0 M318.9 333.1h0 M314.7 338.7h0 M331.9 335.6h0 M332.4 330.1h0 M318.0 336.6h0 M326.4 340.7h0 M328.3 336.3h0 M344.0 332.6h0 M347.8 330.5h0 M350.2 326.2h0 M334.9 329.2h0 M339.5 326.0h0 M348.1 329.7h0 M326.3 331.6h0 M334.2 331.8h0 M326.7 336.2h0 M327.3 332.6h0 M312.1 335.3h0 M315.3 337.5h0 M323.7 336.1h0 M319.5 339.8h0 M327.9 337.4h0 M355.5 328.1h0 M323.5 336.8h0 M327.6 332.8h0 M314.7 337.1h0 M317.7 336.5h0 M333.9 330.6h0 M334.7 334.4h0 M339.2 332.4h0 M333.8 329.9h0 M327.1 338.3h0 M336.5 335.4h0 M321.0 339.3h0 M338.8 331.5h0 M307.0 336.7h0 M351.5 321.7h0 M324.3 334.4h0 M335.4 328.8h0 M330.5 336.8h0 M337.9 329.1h0 M316.5 338.0h0 M332.9 332.5h0 M335.5 329.1h0 M335.7 332.2h0 M316.3 334.7h0 M344.6 322.9h0 M329.8 333.4h0 M345.0 324.5h0 M333.6 329.9h0 M322.3 333.3h0 M321.6 335.9h0 M328.9 335.1h0 M333.5 332.6h0 M326.1 332.8h0 M337.2 328.6h0 M321.8 335.3h0 M326.7 337.1h0 M314.7 337.5h0 M321.1 328.3h0 M329.1 334.3h0 M326.0 328.0h0 M320.4 336.3h0 M322.2 335.7h0 M329.7 329.6h0 M315.5 337.1h0 M346.7 330.7h0 M328.3 336.7h0 M316.3 311.3h0 M333.3 335.7h0 M359.4 298.9h0 M323.5 303.4h0 M333.2 309.8h0 M343.1 307.5h0 M332.4 331.0h0 M350.6 319.2h0 M332.5 306.4h0 M344.7 297.2h0 M329.8 311.4h0 M314.6 332.3h0 M323.1 325.6h0 M332.7 327.7h0 M357.2 319.7h0 M329.5 300.7h0 M350.2 306.0h0 M356.1 307.3h0 M325.7 298.3h0 M311.8 300.9h0 M331.4 323.3h0 M334.1 320.8h0 M353.4 304.5h0 M347.7 327.5h0 M332.4 333.8h0 M347.5 335.2h0 M330.2 330.8h0 M353.0 300.0h0 M324.9 301.9h0 M319.3 308.3h0 M322.9 319.0h0 M341.0 322.8h0 M320.3 313.3h0 M350.1 296.9h0 M326.5 326.5h0 M314.2 328.6h0 M311.7 326.8h0 M346.7 332.2h0 M342.7 325.0h0 M321.9 317.5h0" stroke="#c2c2c2" stroke-width="1.40" stroke-linecap="round" fill="none"/>
<path d="M294.1 296.4h0 M293.9 307.6h0 M293.9 327.2h0 M296.9 288.9h0 M296.6 293.6h0 M299.0 295.3h0 M299.1 304.2h0 M299.4 318.5h0 M299.1 320.5h0 M301.7 316.6h0 M301.6 327.9h0 M304.3 292.6h0 M307.6 283.8h0 M307.5 328.1h0 M310.9 326.2h0" stroke="#bdbdbd" stroke-width="1.60" stroke-linecap="round" fill="none"/>
<path d="M286.8 316.3h0 M286.9 319.6h0 M286.9 321.9h0 M287.1 325.1h0 M287.3 327.1h0 M287.2 328.9h0 M287.1 332.3h0 M287.4 335.4h0 M286.8 337.6h0 M290.4 285.6h0 M290.7 296.2h0 M290.7 298.2h0 M290.4 301.0h0 M290.8 304.1h0 M290.9 310.2h0 M290.4 313.0h0 M290.6 315.8h0 M290.8 323.9h0 M290.6 337.8h0 M293.5 277.8h0 M293.8 288.7h0 M294.0 291.5h0 M293.6 294.3h0 M294.0 298.7h0 M293.9 305.0h0 M293.7 310.5h0 M293.8 313.2h0 M293.5 315.7h0 M293.9 320.8h0 M293.8 323.9h0 M293.8 332.0h0 M293.3 335.1h0 M294.0 337.0h0 M296.5 277.2h0 M296.9 286.7h0 M296.3 291.7h0 M296.8 296.1h0 M296.5 298.8h0 M296.7 302.2h0 M296.1 309.5h0 M296.6 321.2h0 M296.7 325.3h0 M296.2 329.9h0 M296.3 335.4h0 M296.6 337.7h0 M299.3 277.5h0 M299.1 282.9h0 M299.2 289.9h0 M299.3 306.7h0 M299.2 309.8h0 M299.2 312.8h0 M298.9 316.0h0 M298.9 323.4h0 M299.3 325.2h0 M298.7 328.5h0 M299.3 331.4h0 M299.1 338.7h0 M301.2 272.5h0 M301.7 277.1h0 M301.5 279.8h0 M301.9 285.8h0 M301.8 288.7h0 M301.9 291.3h0 M301.6 296.3h0 M301.8 305.9h0 M301.7 309.0h0 M301.6 319.1h0 M301.8 321.3h0 M301.1 325.9h0 M301.2 330.7h0 M301.5 333.8h0 M301.7 335.8h0 M304.4 274.9h0 M304.0 277.6h0 M304.1 279.7h0 M304.6 282.4h0 M304.2 285.3h0 M304.3 287.7h0 M304.4 298.6h0 M304.8 301.4h0 M304.0 316.2h0 M304.3 321.2h0 M303.9 323.2h0 M304.6 325.6h0 M303.7 328.0h0 M304.2 330.9h0 M304.3 336.9h0 M307.4 285.6h0 M307.6 287.7h0 M308.2 293.2h0 M307.7 296.6h0 M307.5 303.2h0 M306.8 306.1h0 M307.3 308.8h0 M307.3 313.7h0 M307.7 316.9h0 M307.4 319.9h0 M307.7 322.8h0 M307.8 330.4h0 M307.4 333.3h0 M307.7 335.6h0 M307.5 338.8h0 M311.2 296.1h0 M311.1 299.0h0 M310.9 301.7h0 M310.8 304.2h0 M311.1 307.3h0 M311.0 310.3h0 M310.8 313.4h0 M311.7 316.8h0 M311.3 320.1h0 M310.8 323.1h0 M310.8 328.8h0 M311.4 331.7h0 M311.0 334.1h0 M314.3 333.3h0 M313.7 330.2h0 M303.8 332.2h0 M323.7 335.2h0 M322.7 332.8h0 M309.8 335.6h0 M308.0 332.7h0 M311.9 334.3h0 M322.2 330.9h0 M311.6 331.9h0 M322.2 326.3h0 M311.4 337.4h0 M320.2 327.4h0 M307.4 330.8h0 M320.3 331.0h0 M321.1 332.5h0 M311.9 332.2h0 M301.9 330.9h0 M306.9 330.3h0 M319.4 332.8h0 M304.7 332.4h0 M303.6 331.2h0 M308.7 332.7h0 M310.9 335.4h0 M323.5 330.7h0 M316.0 332.6h0 M306.8 327.8h0 M325.0 332.0h0 M317.0 331.1h0 M313.8 333.6h0 M315.2 331.2h0 M319.7 333.7h0 M323.1 335.0h0 M320.2 332.0h0 M320.4 333.0h0 M311.2 333.9h0 M324.2 329.5h0 M319.7 332.7h0 M300.6 329.5h0 M305.9 329.9h0 M317.8 333.4h0 M320.2 331.3h0 M302.2 334.8h0 M314.8 334.1h0 M304.2 336.9h0 M311.6 331.5h0 M317.1 331.4h0 M302.2 330.0h0 M314.3 334.2h0 M316.5 334.4h0 M312.2 330.2h0 M307.7 337.0h0 M318.2 330.4h0 M311.6 328.7h0 M306.1 329.9h0 M323.8 329.7h0 M309.3 332.0h0 M304.0 332.4h0 M314.6 334.2h0" stroke="#e3201c" stroke-width="1.90" stroke-linecap="round" fill="none"/>
<path d="M290.6 307.3h0 M290.6 318.8h0 M290.1 329.6h0 M290.9 332.9h0 M293.9 274.6h0 M293.9 286.4h0 M293.5 318.8h0 M296.7 282.0h0 M296.7 307.0h0 M296.5 323.2h0 M296.3 327.6h0 M296.7 333.0h0 M298.9 301.0h0 M298.9 333.7h0 M299.1 335.8h0 M301.5 274.7h0 M302.0 298.6h0 M302.1 302.0h0 M301.7 303.9h0 M301.7 312.1h0 M301.3 314.1h0 M301.4 338.2h0 M304.0 289.5h0 M304.3 306.1h0 M304.6 319.2h0 M307.4 290.2h0 M307.4 298.9h0 M308.0 301.1h0 M307.5 311.4h0 M307.9 324.7h0 M311.4 291.5h0 M310.8 336.1h0 M322.3 331.3h0 M307.7 332.6h0 M301.5 334.8h0 M322.5 333.7h0 M310.2 332.0h0 M310.6 335.6h0 M324.1 328.6h0 M316.5 331.5h0 M324.7 327.6h0 M301.9 333.2h0 M303.6 332.5h0 M318.9 335.0h0 M323.9 324.7h0 M311.1 334.1h0 M318.6 330.6h0 M309.9 328.5h0 M319.8 330.3h0 M324.1 328.4h0 M306.7 332.6h0 M311.7 332.3h0 M314.4 328.3h0 M316.8 327.4h0 M302.5 327.6h0 M322.4 329.2h0 M316.6 328.1h0 M315.3 329.4h0" stroke="#111" stroke-width="1.90" stroke-linecap="round" fill="none"/>
<path d="M293.8 264.8h0 M312.0 274.0h0 M314.5 280.0h0 M310.0 290.0h0 M326.0 318.0h0 M342.0 316.0h0 M312.0 298.0h0" stroke="#e3201c" stroke-width="1.70" stroke-linecap="round" fill="none"/>
<line x1="316.00" y1="261.50" x2="316.00" y2="342.80" stroke="#888" stroke-width="1.3"/>
<line x1="283.80" y1="317.70" x2="366.50" y2="317.70" stroke="#888" stroke-width="1.3"/>
<line x1="283.80" y1="261.50" x2="283.80" y2="342.80" stroke="#222" stroke-width="1.1"/>
<line x1="283.30" y1="342.80" x2="368.60" y2="342.80" stroke="#222" stroke-width="1.1"/>
<line x1="281.70" y1="265.30" x2="283.80" y2="265.30" stroke="#222" stroke-width="0.8"/>
<text x="280.60" y="268.30" font-size="8.4" text-anchor="end" fill="#222" stroke="#222" stroke-width="0.1">6</text>
<line x1="281.70" y1="286.20" x2="283.80" y2="286.20" stroke="#222" stroke-width="0.8"/>
<text x="280.60" y="289.20" font-size="8.4" text-anchor="end" fill="#222" stroke="#222" stroke-width="0.1">4</text>
<line x1="281.70" y1="307.30" x2="283.80" y2="307.30" stroke="#222" stroke-width="0.8"/>
<text x="280.60" y="310.30" font-size="8.4" text-anchor="end" fill="#222" stroke="#222" stroke-width="0.1">2</text>
<line x1="281.70" y1="328.40" x2="283.80" y2="328.40" stroke="#222" stroke-width="0.8"/>
<text x="280.60" y="331.40" font-size="8.4" text-anchor="end" fill="#222" stroke="#222" stroke-width="0.1">0</text>
<line x1="286.90" y1="342.80" x2="286.90" y2="345.00" stroke="#222" stroke-width="0.8"/>
<text x="285.10" y="353.60" font-size="8.4" text-anchor="middle" fill="#222" stroke="#222" stroke-width="0.1">−2</text>
<line x1="316.30" y1="342.80" x2="316.30" y2="345.00" stroke="#222" stroke-width="0.8"/>
<text x="316.30" y="353.60" font-size="8.4" text-anchor="middle" fill="#222" stroke="#222" stroke-width="0.1">0</text>
<line x1="345.70" y1="342.80" x2="345.70" y2="345.00" stroke="#222" stroke-width="0.8"/>
<text x="345.70" y="353.60" font-size="8.4" text-anchor="middle" fill="#222" stroke="#222" stroke-width="0.1">2</text>
<text x="318.80" y="362.40" font-size="9.2" text-anchor="middle" fill="#222" textLength="48.50" lengthAdjust="spacingAndGlyphs" stroke="#222" stroke-width="0.3">CD28 (CITE-seq)</text>
<text x="269.40" y="302.30" font-size="9.2" text-anchor="middle" fill="#222" textLength="49.90" lengthAdjust="spacingAndGlyphs" stroke="#222" stroke-width="0.3" transform="rotate(-90 269.40 302.30)">CD57 (CITE-seq)</text>
<line x1="31.00" y1="366.80" x2="371.30" y2="366.80" stroke="#222" stroke-width="0.9"/>
<text x="31.80" y="377.60" font-size="8.8" font-weight="bold" textLength="45.00" lengthAdjust="spacingAndGlyphs">T cell clones</text>
<circle cx="94.90" cy="374.20" r="2.00" fill="#c4c4c4"/>
<text x="99.20" y="377.00" font-size="8.4" fill="#222" textLength="26.10" lengthAdjust="spacingAndGlyphs" stroke="#222" stroke-width="0.14">Stability</text>
<circle cx="141.60" cy="374.20" r="2.00" fill="#e3201c"/>
<text x="144.80" y="377.00" font-size="8.4" fill="#222" textLength="38.50" lengthAdjust="spacingAndGlyphs" stroke="#222" stroke-width="0.14">Contraction</text>
<circle cx="201.40" cy="374.20" r="2.00" fill="#111"/>
<text x="204.00" y="377.00" font-size="8.4" fill="#222" textLength="31.90" lengthAdjust="spacingAndGlyphs" stroke="#222" stroke-width="0.14">Expansion</text>
<text x="383.00" y="257.20" font-size="11.5" font-weight="bold" fill="#000" textLength="7.80" lengthAdjust="spacingAndGlyphs">H</text>
<text x="446.00" y="263.20" font-size="9.8" text-anchor="middle" fill="#222" textLength="17.50" lengthAdjust="spacingAndGlyphs" font-style="italic" stroke="#222" stroke-width="0.14">IFI6</text>
<g opacity="1">
<path d="M455.5 325.1a0.5 0.5 0 1 0 -1 0a0.5 0.5 0 1 0 1 0 M454.4 323.9a0.5 0.5 0 1 0 -1 0a0.5 0.5 0 1 0 1 0 M461.8 320.6a0.5 0.5 0 1 0 -1 0a0.5 0.5 0 1 0 1 0 M449.5 322.5a0.5 0.5 0 1 0 -1 0a0.5 0.5 0 1 0 1 0 M451.6 327.3a0.5 0.5 0 1 0 -1 0a0.5 0.5 0 1 0 1 0 M446.0 319.0a0.5 0.5 0 1 0 -1 0a0.5 0.5 0 1 0 1 0 M454.5 315.7a0.5 0.5 0 1 0 -1 0a0.5 0.5 0 1 0 1 0 M444.6 321.7a0.5 0.5 0 1 0 -1 0a0.5 0.5 0 1 0 1 0 M446.5 317.2a0.5 0.5 0 1 0 -1 0a0.5 0.5 0 1 0 1 0 M453.2 326.5a0.5 0.5 0 1 0 -1 0a0.5 0.5 0 1 0 1 0 M452.2 327.4a0.5 0.5 0 1 0 -1 0a0.5 0.5 0 1 0 1 0 M449.6 326.3a0.5 0.5 0 1 0 -1 0a0.5 0.5 0 1 0 1 0 M453.4 320.9a0.5 0.5 0 1 0 -1 0a0.5 0.5 0 1 0 1 0 M458.0 317.5a0.5 0.5 0 1 0 -1 0a0.5 0.5 0 1 0 1 0 M453.1 315.4a0.5 0.5 0 1 0 -1 0a0.5 0.5 0 1 0 1 0 M453.0 328.0a0.5 0.5 0 1 0 -1 0a0.5 0.5 0 1 0 1 0 M454.0 327.1a0.5 0.5 0 1 0 -1 0a0.5 0.5 0 1 0 1 0 M453.7 327.5a0.5 0.5 0 1 0 -1 0a0.5 0.5 0 1 0 1 0 M446.5 325.0a0.5 0.5 0 1 0 -1 0a0.5 0.5 0 1 0 1 0 M449.0 325.9a0.5 0.5 0 1 0 -1 0a0.5 0.5 0 1 0 1 0 M452.2 319.9a0.5 0.5 0 1 0 -1 0a0.5 0.5 0 1 0 1 0 M456.1 326.9a0.5 0.5 0 1 0 -1 0a0.5 0.5 0 1 0 1 0 M444.7 324.9a0.5 0.5 0 1 0 -1 0a0.5 0.5 0 1 0 1 0 M458.1 317.6a0.5 0.5 0 1 0 -1 0a0.5 0.5 0 1 0 1 0 M452.9 322.4a0.5 0.5 0 1 0 -1 0a0.5 0.5 0 1 0 1 0 M456.8 321.5a0.5 0.5 0 1 0 -1 0a0.5 0.5 0 1 0 1 0 M458.5 323.4a0.5 0.5 0 1 0 -1 0a0.5 0.5 0 1 0 1 0 M444.0 320.9a0.5 0.5 0 1 0 -1 0a0.5 0.5 0 1 0 1 0 M443.8 320.3a0.5 0.5 0 1 0 -1 0a0.5 0.5 0 1 0 1 0 M452.1 323.9a0.5 0.5 0 1 0 -1 0a0.5 0.5 0 1 0 1 0 M459.0 317.6a0.5 0.5 0 1 0 -1 0a0.5 0.5 0 1 0 1 0 M450.9 320.9a0.5 0.5 0 1 0 -1 0a0.5 0.5 0 1 0 1 0 M448.4 323.8a0.5 0.5 0 1 0 -1 0a0.5 0.5 0 1 0 1 0 M453.3 320.4a0.5 0.5 0 1 0 -1 0a0.5 0.5 0 1 0 1 0 M458.2 318.9a0.5 0.5 0 1 0 -1 0a0.5 0.5 0 1 0 1 0 M454.6 325.2a0.5 0.5 0 1 0 -1 0a0.5 0.5 0 1 0 1 0 M449.1 315.4a0.5 0.5 0 1 0 -1 0a0.5 0.5 0 1 0 1 0 M459.1 324.3a0.5 0.5 0 1 0 -1 0a0.5 0.5 0 1 0 1 0 M461.9 322.3a0.5 0.5 0 1 0 -1 0a0.5 0.5 0 1 0 1 0 M451.0 327.6a0.5 0.5 0 1 0 -1 0a0.5 0.5 0 1 0 1 0 M457.1 325.6a0.5 0.5 0 1 0 -1 0a0.5 0.5 0 1 0 1 0 M448.4 317.6a0.5 0.5 0 1 0 -1 0a0.5 0.5 0 1 0 1 0 M455.4 322.1a0.5 0.5 0 1 0 -1 0a0.5 0.5 0 1 0 1 0 M446.2 326.6a0.5 0.5 0 1 0 -1 0a0.5 0.5 0 1 0 1 0 M454.9 318.2a0.5 0.5 0 1 0 -1 0a0.5 0.5 0 1 0 1 0 M454.1 323.4a0.5 0.5 0 1 0 -1 0a0.5 0.5 0 1 0 1 0 M456.7 322.6a0.5 0.5 0 1 0 -1 0a0.5 0.5 0 1 0 1 0 M443.7 321.5a0.5 0.5 0 1 0 -1 0a0.5 0.5 0 1 0 1 0 M445.0 320.4a0.5 0.5 0 1 0 -1 0a0.5 0.5 0 1 0 1 0 M457.4 322.9a0.5 0.5 0 1 0 -1 0a0.5 0.5 0 1 0 1 0 M448.9 325.0a0.5 0.5 0 1 0 -1 0a0.5 0.5 0 1 0 1 0 M447.3 323.5a0.5 0.5 0 1 0 -1 0a0.5 0.5 0 1 0 1 0 M448.1 323.2a0.5 0.5 0 1 0 -1 0a0.5 0.5 0 1 0 1 0 M454.1 322.8a0.5 0.5 0 1 0 -1 0a0.5 0.5 0 1 0 1 0 M459.8 325.6a0.5 0.5 0 1 0 -1 0a0.5 0.5 0 1 0 1 0 M447.0 320.9a0.5 0.5 0 1 0 -1 0a0.5 0.5 0 1 0 1 0 M455.4 326.5a0.5 0.5 0 1 0 -1 0a0.5 0.5 0 1 0 1 0 M445.2 322.5a0.5 0.5 0 1 0 -1 0a0.5 0.5 0 1 0 1 0 M451.4 323.9a0.5 0.5 0 1 0 -1 0a0.5 0.5 0 1 0 1 0 M448.1 327.0a0.5 0.5 0 1 0 -1 0a0.5 0.5 0 1 0 1 0 M448.0 321.0a0.5 0.5 0 1 0 -1 0a0.5 0.5 0 1 0 1 0 M446.6 319.3a0.5 0.5 0 1 0 -1 0a0.5 0.5 0 1 0 1 0 M444.4 321.1a0.5 0.5 0 1 0 -1 0a0.5 0.5 0 1 0 1 0 M459.1 320.5a0.5 0.5 0 1 0 -1 0a0.5 0.5 0 1 0 1 0 M449.9 323.6a0.5 0.5 0 1 0 -1 0a0.5 0.5 0 1 0 1 0 M450.9 327.5a0.5 0.5 0 1 0 -1 0a0.5 0.5 0 1 0 1 0 M451.8 321.0a0.5 0.5 0 1 0 -1 0a0.5 0.5 0 1 0 1 0 M448.9 316.0a0.5 0.5 0 1 0 -1 0a0.5 0.5 0 1 0 1 0 M461.5 321.8a0.5 0.5 0 1 0 -1 0a0.5 0.5 0 1 0 1 0 M451.3 326.6a0.5 0.5 0 1 0 -1 0a0.5 0.5 0 1 0 1 0 M462.1 322.1a0.5 0.5 0 1 0 -1 0a0.5 0.5 0 1 0 1 0 M452.3 316.0a0.5 0.5 0 1 0 -1 0a0.5 0.5 0 1 0 1 0 M453.3 322.5a0.5 0.5 0 1 0 -1 0a0.5 0.5 0 1 0 1 0 M451.0 324.3a0.5 0.5 0 1 0 -1 0a0.5 0.5 0 1 0 1 0 M443.7 318.0a0.5 0.5 0 1 0 -1 0a0.5 0.5 0 1 0 1 0 M445.7 321.6a0.5 0.5 0 1 0 -1 0a0.5 0.5 0 1 0 1 0 M458.6 317.3a0.5 0.5 0 1 0 -1 0a0.5 0.5 0 1 0 1 0 M460.9 319.6a0.5 0.5 0 1 0 -1 0a0.5 0.5 0 1 0 1 0 M446.2 318.3a0.5 0.5 0 1 0 -1 0a0.5 0.5 0 1 0 1 0 M451.0 318.8a0.5 0.5 0 1 0 -1 0a0.5 0.5 0 1 0 1 0 M453.2 320.1a0.5 0.5 0 1 0 -1 0a0.5 0.5 0 1 0 1 0 M462.2 322.3a0.5 0.5 0 1 0 -1 0a0.5 0.5 0 1 0 1 0 M454.6 326.9a0.5 0.5 0 1 0 -1 0a0.5 0.5 0 1 0 1 0 M450.8 318.9a0.5 0.5 0 1 0 -1 0a0.5 0.5 0 1 0 1 0 M459.0 319.3a0.5 0.5 0 1 0 -1 0a0.5 0.5 0 1 0 1 0 M447.6 321.2a0.5 0.5 0 1 0 -1 0a0.5 0.5 0 1 0 1 0 M450.5 327.5a0.5 0.5 0 1 0 -1 0a0.5 0.5 0 1 0 1 0 M460.9 324.4a0.5 0.5 0 1 0 -1 0a0.5 0.5 0 1 0 1 0 M460.8 318.3a0.5 0.5 0 1 0 -1 0a0.5 0.5 0 1 0 1 0 M447.5 319.5a0.5 0.5 0 1 0 -1 0a0.5 0.5 0 1 0 1 0 M454.5 315.3a0.5 0.5 0 1 0 -1 0a0.5 0.5 0 1 0 1 0 M444.1 318.3a0.5 0.5 0 1 0 -1 0a0.5 0.5 0 1 0 1 0 M444.0 318.3a0.5 0.5 0 1 0 -1 0a0.5 0.5 0 1 0 1 0 M444.2 318.9a0.5 0.5 0 1 0 -1 0a0.5 0.5 0 1 0 1 0 M451.1 322.1a0.5 0.5 0 1 0 -1 0a0.5 0.5 0 1 0 1 0 M458.9 318.8a0.5 0.5 0 1 0 -1 0a0.5 0.5 0 1 0 1 0 M450.1 326.3a0.5 0.5 0 1 0 -1 0a0.5 0.5 0 1 0 1 0 M442.4 321.7a0.5 0.5 0 1 0 -1 0a0.5 0.5 0 1 0 1 0 M460.6 323.7a0.5 0.5 0 1 0 -1 0a0.5 0.5 0 1 0 1 0 M451.8 325.5a0.5 0.5 0 1 0 -1 0a0.5 0.5 0 1 0 1 0 M462.1 322.6a0.5 0.5 0 1 0 -1 0a0.5 0.5 0 1 0 1 0 M444.2 320.8a0.5 0.5 0 1 0 -1 0a0.5 0.5 0 1 0 1 0 M448.4 316.9a0.5 0.5 0 1 0 -1 0a0.5 0.5 0 1 0 1 0 M460.9 319.0a0.5 0.5 0 1 0 -1 0a0.5 0.5 0 1 0 1 0 M445.4 320.6a0.5 0.5 0 1 0 -1 0a0.5 0.5 0 1 0 1 0 M447.3 323.8a0.5 0.5 0 1 0 -1 0a0.5 0.5 0 1 0 1 0 M455.9 326.3a0.5 0.5 0 1 0 -1 0a0.5 0.5 0 1 0 1 0 M444.5 324.1a0.5 0.5 0 1 0 -1 0a0.5 0.5 0 1 0 1 0 M447.9 317.4a0.5 0.5 0 1 0 -1 0a0.5 0.5 0 1 0 1 0 M450.0 326.0a0.5 0.5 0 1 0 -1 0a0.5 0.5 0 1 0 1 0 M459.2 325.9a0.5 0.5 0 1 0 -1 0a0.5 0.5 0 1 0 1 0 M447.2 320.9a0.5 0.5 0 1 0 -1 0a0.5 0.5 0 1 0 1 0 M445.7 317.9a0.5 0.5 0 1 0 -1 0a0.5 0.5 0 1 0 1 0 M451.2 322.8a0.5 0.5 0 1 0 -1 0a0.5 0.5 0 1 0 1 0 M458.6 324.7a0.5 0.5 0 1 0 -1 0a0.5 0.5 0 1 0 1 0 M456.7 319.4a0.5 0.5 0 1 0 -1 0a0.5 0.5 0 1 0 1 0 M442.9 319.6a0.5 0.5 0 1 0 -1 0a0.5 0.5 0 1 0 1 0 M453.6 319.7a0.5 0.5 0 1 0 -1 0a0.5 0.5 0 1 0 1 0 M454.2 320.2a0.5 0.5 0 1 0 -1 0a0.5 0.5 0 1 0 1 0 M456.6 327.2a0.5 0.5 0 1 0 -1 0a0.5 0.5 0 1 0 1 0 M442.3 323.0a0.5 0.5 0 1 0 -1 0a0.5 0.5 0 1 0 1 0 M451.6 325.5a0.5 0.5 0 1 0 -1 0a0.5 0.5 0 1 0 1 0 M456.4 320.0a0.5 0.5 0 1 0 -1 0a0.5 0.5 0 1 0 1 0 M449.2 315.4a0.5 0.5 0 1 0 -1 0a0.5 0.5 0 1 0 1 0 M452.5 325.7a0.5 0.5 0 1 0 -1 0a0.5 0.5 0 1 0 1 0 M459.3 324.3a0.5 0.5 0 1 0 -1 0a0.5 0.5 0 1 0 1 0 M452.4 318.2a0.5 0.5 0 1 0 -1 0a0.5 0.5 0 1 0 1 0 M447.9 317.2a0.5 0.5 0 1 0 -1 0a0.5 0.5 0 1 0 1 0 M451.5 325.2a0.5 0.5 0 1 0 -1 0a0.5 0.5 0 1 0 1 0 M448.9 326.1a0.5 0.5 0 1 0 -1 0a0.5 0.5 0 1 0 1 0 M453.7 325.2a0.5 0.5 0 1 0 -1 0a0.5 0.5 0 1 0 1 0 M450.5 317.1a0.5 0.5 0 1 0 -1 0a0.5 0.5 0 1 0 1 0 M444.8 324.3a0.5 0.5 0 1 0 -1 0a0.5 0.5 0 1 0 1 0 M461.2 320.5a0.5 0.5 0 1 0 -1 0a0.5 0.5 0 1 0 1 0 M456.4 316.7a0.5 0.5 0 1 0 -1 0a0.5 0.5 0 1 0 1 0 M457.8 325.1a0.5 0.5 0 1 0 -1 0a0.5 0.5 0 1 0 1 0 M454.3 326.9a0.5 0.5 0 1 0 -1 0a0.5 0.5 0 1 0 1 0 M453.6 322.7a0.5 0.5 0 1 0 -1 0a0.5 0.5 0 1 0 1 0 M449.2 324.0a0.5 0.5 0 1 0 -1 0a0.5 0.5 0 1 0 1 0 M452.3 317.0a0.5 0.5 0 1 0 -1 0a0.5 0.5 0 1 0 1 0 M452.0 327.1a0.5 0.5 0 1 0 -1 0a0.5 0.5 0 1 0 1 0 M455.7 316.5a0.5 0.5 0 1 0 -1 0a0.5 0.5 0 1 0 1 0 M453.3 326.7a0.5 0.5 0 1 0 -1 0a0.5 0.5 0 1 0 1 0 M459.2 322.7a0.5 0.5 0 1 0 -1 0a0.5 0.5 0 1 0 1 0 M457.8 319.2a0.5 0.5 0 1 0 -1 0a0.5 0.5 0 1 0 1 0 M453.8 316.9a0.5 0.5 0 1 0 -1 0a0.5 0.5 0 1 0 1 0 M444.5 322.2a0.5 0.5 0 1 0 -1 0a0.5 0.5 0 1 0 1 0 M459.9 322.1a0.5 0.5 0 1 0 -1 0a0.5 0.5 0 1 0 1 0 M458.0 319.7a0.5 0.5 0 1 0 -1 0a0.5 0.5 0 1 0 1 0 M446.1 318.4a0.5 0.5 0 1 0 -1 0a0.5 0.5 0 1 0 1 0 M461.4 321.2a0.5 0.5 0 1 0 -1 0a0.5 0.5 0 1 0 1 0 M444.9 317.3a0.5 0.5 0 1 0 -1 0a0.5 0.5 0 1 0 1 0 M451.6 320.9a0.5 0.5 0 1 0 -1 0a0.5 0.5 0 1 0 1 0 M443.2 318.6a0.5 0.5 0 1 0 -1 0a0.5 0.5 0 1 0 1 0 M459.0 326.0a0.5 0.5 0 1 0 -1 0a0.5 0.5 0 1 0 1 0 M451.4 318.6a0.5 0.5 0 1 0 -1 0a0.5 0.5 0 1 0 1 0 M462.1 319.2a0.5 0.5 0 1 0 -1 0a0.5 0.5 0 1 0 1 0 M447.7 316.9a0.5 0.5 0 1 0 -1 0a0.5 0.5 0 1 0 1 0 M452.3 325.9a0.5 0.5 0 1 0 -1 0a0.5 0.5 0 1 0 1 0 M452.9 325.7a0.5 0.5 0 1 0 -1 0a0.5 0.5 0 1 0 1 0 M448.8 323.9a0.5 0.5 0 1 0 -1 0a0.5 0.5 0 1 0 1 0 M445.7 321.0a0.5 0.5 0 1 0 -1 0a0.5 0.5 0 1 0 1 0 M448.5 318.9a0.5 0.5 0 1 0 -1 0a0.5 0.5 0 1 0 1 0 M457.9 317.8a0.5 0.5 0 1 0 -1 0a0.5 0.5 0 1 0 1 0 M452.6 319.7a0.5 0.5 0 1 0 -1 0a0.5 0.5 0 1 0 1 0 M460.6 318.0a0.5 0.5 0 1 0 -1 0a0.5 0.5 0 1 0 1 0 M449.3 324.2a0.5 0.5 0 1 0 -1 0a0.5 0.5 0 1 0 1 0 M448.2 324.5a0.5 0.5 0 1 0 -1 0a0.5 0.5 0 1 0 1 0 M462.6 319.7a0.5 0.5 0 1 0 -1 0a0.5 0.5 0 1 0 1 0 M453.3 315.3a0.5 0.5 0 1 0 -1 0a0.5 0.5 0 1 0 1 0 M458.8 319.9a0.5 0.5 0 1 0 -1 0a0.5 0.5 0 1 0 1 0 M454.8 317.7a0.5 0.5 0 1 0 -1 0a0.5 0.5 0 1 0 1 0 M456.0 321.5a0.5 0.5 0 1 0 -1 0a0.5 0.5 0 1 0 1 0 M454.0 317.2a0.5 0.5 0 1 0 -1 0a0.5 0.5 0 1 0 1 0 M448.0 322.1a0.5 0.5 0 1 0 -1 0a0.5 0.5 0 1 0 1 0 M458.8 326.6a0.5 0.5 0 1 0 -1 0a0.5 0.5 0 1 0 1 0 M460.5 325.1a0.5 0.5 0 1 0 -1 0a0.5 0.5 0 1 0 1 0 M451.6 322.4a0.5 0.5 0 1 0 -1 0a0.5 0.5 0 1 0 1 0 M447.4 322.2a0.5 0.5 0 1 0 -1 0a0.5 0.5 0 1 0 1 0 M449.9 322.2a0.5 0.5 0 1 0 -1 0a0.5 0.5 0 1 0 1 0 M455.8 320.6a0.5 0.5 0 1 0 -1 0a0.5 0.5 0 1 0 1 0 M460.4 324.3a0.5 0.5 0 1 0 -1 0a0.5 0.5 0 1 0 1 0 M446.6 323.9a0.5 0.5 0 1 0 -1 0a0.5 0.5 0 1 0 1 0 M448.2 316.7a0.5 0.5 0 1 0 -1 0a0.5 0.5 0 1 0 1 0 M459.6 317.6a0.5 0.5 0 1 0 -1 0a0.5 0.5 0 1 0 1 0 M451.6 316.7a0.5 0.5 0 1 0 -1 0a0.5 0.5 0 1 0 1 0 M445.8 317.4a0.5 0.5 0 1 0 -1 0a0.5 0.5 0 1 0 1 0 M453.8 317.8a0.5 0.5 0 1 0 -1 0a0.5 0.5 0 1 0 1 0 M449.2 326.2a0.5 0.5 0 1 0 -1 0a0.5 0.5 0 1 0 1 0 M447.6 322.9a0.5 0.5 0 1 0 -1 0a0.5 0.5 0 1 0 1 0 M448.6 316.2a0.5 0.5 0 1 0 -1 0a0.5 0.5 0 1 0 1 0 M444.1 319.6a0.5 0.5 0 1 0 -1 0a0.5 0.5 0 1 0 1 0 M455.0 321.1a0.5 0.5 0 1 0 -1 0a0.5 0.5 0 1 0 1 0 M447.0 317.0a0.5 0.5 0 1 0 -1 0a0.5 0.5 0 1 0 1 0 M448.4 326.4a0.5 0.5 0 1 0 -1 0a0.5 0.5 0 1 0 1 0 M443.8 322.2a0.5 0.5 0 1 0 -1 0a0.5 0.5 0 1 0 1 0 M448.4 320.5a0.5 0.5 0 1 0 -1 0a0.5 0.5 0 1 0 1 0 M451.1 325.9a0.5 0.5 0 1 0 -1 0a0.5 0.5 0 1 0 1 0 M448.3 317.1a0.5 0.5 0 1 0 -1 0a0.5 0.5 0 1 0 1 0 M458.5 317.9a0.5 0.5 0 1 0 -1 0a0.5 0.5 0 1 0 1 0 M452.0 330.3a0.5 0.5 0 1 0 -1 0a0.5 0.5 0 1 0 1 0 M448.4 324.0a0.5 0.5 0 1 0 -1 0a0.5 0.5 0 1 0 1 0 M449.1 332.1a0.5 0.5 0 1 0 -1 0a0.5 0.5 0 1 0 1 0 M446.6 325.1a0.5 0.5 0 1 0 -1 0a0.5 0.5 0 1 0 1 0 M444.5 329.8a0.5 0.5 0 1 0 -1 0a0.5 0.5 0 1 0 1 0 M448.5 325.1a0.5 0.5 0 1 0 -1 0a0.5 0.5 0 1 0 1 0 M444.5 327.4a0.5 0.5 0 1 0 -1 0a0.5 0.5 0 1 0 1 0 M445.9 325.8a0.5 0.5 0 1 0 -1 0a0.5 0.5 0 1 0 1 0 M446.3 323.6a0.5 0.5 0 1 0 -1 0a0.5 0.5 0 1 0 1 0 M449.5 330.7a0.5 0.5 0 1 0 -1 0a0.5 0.5 0 1 0 1 0 M447.6 325.6a0.5 0.5 0 1 0 -1 0a0.5 0.5 0 1 0 1 0 M449.9 331.4a0.5 0.5 0 1 0 -1 0a0.5 0.5 0 1 0 1 0 M445.4 329.3a0.5 0.5 0 1 0 -1 0a0.5 0.5 0 1 0 1 0 M443.9 329.5a0.5 0.5 0 1 0 -1 0a0.5 0.5 0 1 0 1 0 M443.7 327.0a0.5 0.5 0 1 0 -1 0a0.5 0.5 0 1 0 1 0 M450.2 331.7a0.5 0.5 0 1 0 -1 0a0.5 0.5 0 1 0 1 0 M448.8 333.0a0.5 0.5 0 1 0 -1 0a0.5 0.5 0 1 0 1 0 M450.0 329.6a0.5 0.5 0 1 0 -1 0a0.5 0.5 0 1 0 1 0 M448.9 324.4a0.5 0.5 0 1 0 -1 0a0.5 0.5 0 1 0 1 0 M450.5 324.8a0.5 0.5 0 1 0 -1 0a0.5 0.5 0 1 0 1 0 M447.4 325.9a0.5 0.5 0 1 0 -1 0a0.5 0.5 0 1 0 1 0 M449.7 326.9a0.5 0.5 0 1 0 -1 0a0.5 0.5 0 1 0 1 0 M445.8 329.3a0.5 0.5 0 1 0 -1 0a0.5 0.5 0 1 0 1 0 M444.7 331.7a0.5 0.5 0 1 0 -1 0a0.5 0.5 0 1 0 1 0 M448.2 323.6a0.5 0.5 0 1 0 -1 0a0.5 0.5 0 1 0 1 0 M447.7 327.8a0.5 0.5 0 1 0 -1 0a0.5 0.5 0 1 0 1 0 M448.3 328.5a0.5 0.5 0 1 0 -1 0a0.5 0.5 0 1 0 1 0 M448.6 329.9a0.5 0.5 0 1 0 -1 0a0.5 0.5 0 1 0 1 0 M445.7 323.4a0.5 0.5 0 1 0 -1 0a0.5 0.5 0 1 0 1 0 M445.7 332.1a0.5 0.5 0 1 0 -1 0a0.5 0.5 0 1 0 1 0 M451.0 328.9a0.5 0.5 0 1 0 -1 0a0.5 0.5 0 1 0 1 0 M450.6 325.4a0.5 0.5 0 1 0 -1 0a0.5 0.5 0 1 0 1 0 M442.7 329.0a0.5 0.5 0 1 0 -1 0a0.5 0.5 0 1 0 1 0 M448.4 333.3a0.5 0.5 0 1 0 -1 0a0.5 0.5 0 1 0 1 0 M449.6 332.9a0.5 0.5 0 1 0 -1 0a0.5 0.5 0 1 0 1 0 M451.9 327.3a0.5 0.5 0 1 0 -1 0a0.5 0.5 0 1 0 1 0 M444.1 323.9a0.5 0.5 0 1 0 -1 0a0.5 0.5 0 1 0 1 0 M443.3 328.0a0.5 0.5 0 1 0 -1 0a0.5 0.5 0 1 0 1 0 M445.5 323.6a0.5 0.5 0 1 0 -1 0a0.5 0.5 0 1 0 1 0 M447.9 331.1a0.5 0.5 0 1 0 -1 0a0.5 0.5 0 1 0 1 0 M447.0 329.2a0.5 0.5 0 1 0 -1 0a0.5 0.5 0 1 0 1 0 M444.2 328.2a0.5 0.5 0 1 0 -1 0a0.5 0.5 0 1 0 1 0 M448.4 333.3a0.5 0.5 0 1 0 -1 0a0.5 0.5 0 1 0 1 0 M447.2 333.8a0.5 0.5 0 1 0 -1 0a0.5 0.5 0 1 0 1 0 M445.9 329.7a0.5 0.5 0 1 0 -1 0a0.5 0.5 0 1 0 1 0 M449.5 324.1a0.5 0.5 0 1 0 -1 0a0.5 0.5 0 1 0 1 0 M450.7 332.1a0.5 0.5 0 1 0 -1 0a0.5 0.5 0 1 0 1 0 M442.8 330.2a0.5 0.5 0 1 0 -1 0a0.5 0.5 0 1 0 1 0 M446.1 325.0a0.5 0.5 0 1 0 -1 0a0.5 0.5 0 1 0 1 0 M443.9 324.5a0.5 0.5 0 1 0 -1 0a0.5 0.5 0 1 0 1 0 M449.6 325.0a0.5 0.5 0 1 0 -1 0a0.5 0.5 0 1 0 1 0 M449.6 325.9a0.5 0.5 0 1 0 -1 0a0.5 0.5 0 1 0 1 0 M447.1 323.2a0.5 0.5 0 1 0 -1 0a0.5 0.5 0 1 0 1 0 M451.5 326.8a0.5 0.5 0 1 0 -1 0a0.5 0.5 0 1 0 1 0 M449.1 324.3a0.5 0.5 0 1 0 -1 0a0.5 0.5 0 1 0 1 0 M443.7 331.4a0.5 0.5 0 1 0 -1 0a0.5 0.5 0 1 0 1 0 M449.2 329.7a0.5 0.5 0 1 0 -1 0a0.5 0.5 0 1 0 1 0 M445.8 330.0a0.5 0.5 0 1 0 -1 0a0.5 0.5 0 1 0 1 0 M450.2 327.9a0.5 0.5 0 1 0 -1 0a0.5 0.5 0 1 0 1 0 M446.5 332.9a0.5 0.5 0 1 0 -1 0a0.5 0.5 0 1 0 1 0 M444.5 328.9a0.5 0.5 0 1 0 -1 0a0.5 0.5 0 1 0 1 0 M443.9 327.9a0.5 0.5 0 1 0 -1 0a0.5 0.5 0 1 0 1 0 M444.1 332.7a0.5 0.5 0 1 0 -1 0a0.5 0.5 0 1 0 1 0 M451.5 327.0a0.5 0.5 0 1 0 -1 0a0.5 0.5 0 1 0 1 0 M450.2 331.8a0.5 0.5 0 1 0 -1 0a0.5 0.5 0 1 0 1 0 M451.2 331.1a0.5 0.5 0 1 0 -1 0a0.5 0.5 0 1 0 1 0 M444.0 330.0a0.5 0.5 0 1 0 -1 0a0.5 0.5 0 1 0 1 0 M444.4 328.2a0.5 0.5 0 1 0 -1 0a0.5 0.5 0 1 0 1 0 M451.5 328.1a0.5 0.5 0 1 0 -1 0a0.5 0.5 0 1 0 1 0 M446.9 330.0a0.5 0.5 0 1 0 -1 0a0.5 0.5 0 1 0 1 0 M441.8 330.2a0.5 0.5 0 1 0 -1 0a0.5 0.5 0 1 0 1 0 M449.5 323.7a0.5 0.5 0 1 0 -1 0a0.5 0.5 0 1 0 1 0 M450.5 328.6a0.5 0.5 0 1 0 -1 0a0.5 0.5 0 1 0 1 0 M447.2 326.4a0.5 0.5 0 1 0 -1 0a0.5 0.5 0 1 0 1 0 M443.6 331.7a0.5 0.5 0 1 0 -1 0a0.5 0.5 0 1 0 1 0 M448.4 333.4a0.5 0.5 0 1 0 -1 0a0.5 0.5 0 1 0 1 0 M443.6 331.7a0.5 0.5 0 1 0 -1 0a0.5 0.5 0 1 0 1 0 M448.9 328.1a0.5 0.5 0 1 0 -1 0a0.5 0.5 0 1 0 1 0 M449.4 324.9a0.5 0.5 0 1 0 -1 0a0.5 0.5 0 1 0 1 0 M449.6 325.9a0.5 0.5 0 1 0 -1 0a0.5 0.5 0 1 0 1 0 M447.4 330.3a0.5 0.5 0 1 0 -1 0a0.5 0.5 0 1 0 1 0 M446.4 331.7a0.5 0.5 0 1 0 -1 0a0.5 0.5 0 1 0 1 0 M449.2 324.4a0.5 0.5 0 1 0 -1 0a0.5 0.5 0 1 0 1 0 M447.5 323.9a0.5 0.5 0 1 0 -1 0a0.5 0.5 0 1 0 1 0 M447.3 324.3a0.5 0.5 0 1 0 -1 0a0.5 0.5 0 1 0 1 0 M446.8 331.7a0.5 0.5 0 1 0 -1 0a0.5 0.5 0 1 0 1 0 M441.8 326.9a0.5 0.5 0 1 0 -1 0a0.5 0.5 0 1 0 1 0 M442.2 326.5a0.5 0.5 0 1 0 -1 0a0.5 0.5 0 1 0 1 0 M445.0 330.4a0.5 0.5 0 1 0 -1 0a0.5 0.5 0 1 0 1 0 M446.6 324.3a0.5 0.5 0 1 0 -1 0a0.5 0.5 0 1 0 1 0 M446.0 323.2a0.5 0.5 0 1 0 -1 0a0.5 0.5 0 1 0 1 0 M443.1 327.7a0.5 0.5 0 1 0 -1 0a0.5 0.5 0 1 0 1 0 M443.3 329.0a0.5 0.5 0 1 0 -1 0a0.5 0.5 0 1 0 1 0 M442.8 331.5a0.5 0.5 0 1 0 -1 0a0.5 0.5 0 1 0 1 0 M450.7 332.1a0.5 0.5 0 1 0 -1 0a0.5 0.5 0 1 0 1 0 M449.8 329.6a0.5 0.5 0 1 0 -1 0a0.5 0.5 0 1 0 1 0 M442.0 326.7a0.5 0.5 0 1 0 -1 0a0.5 0.5 0 1 0 1 0 M452.2 328.1a0.5 0.5 0 1 0 -1 0a0.5 0.5 0 1 0 1 0 M447.6 325.9a0.5 0.5 0 1 0 -1 0a0.5 0.5 0 1 0 1 0 M447.6 331.4a0.5 0.5 0 1 0 -1 0a0.5 0.5 0 1 0 1 0 M447.7 323.5a0.5 0.5 0 1 0 -1 0a0.5 0.5 0 1 0 1 0 M445.4 327.4a0.5 0.5 0 1 0 -1 0a0.5 0.5 0 1 0 1 0 M444.7 329.7a0.5 0.5 0 1 0 -1 0a0.5 0.5 0 1 0 1 0 M450.2 325.9a0.5 0.5 0 1 0 -1 0a0.5 0.5 0 1 0 1 0 M448.9 331.4a0.5 0.5 0 1 0 -1 0a0.5 0.5 0 1 0 1 0 M448.9 330.7a0.5 0.5 0 1 0 -1 0a0.5 0.5 0 1 0 1 0 M451.3 326.3a0.5 0.5 0 1 0 -1 0a0.5 0.5 0 1 0 1 0 M448.3 330.8a0.5 0.5 0 1 0 -1 0a0.5 0.5 0 1 0 1 0 M447.2 323.7a0.5 0.5 0 1 0 -1 0a0.5 0.5 0 1 0 1 0 M447.8 328.2a0.5 0.5 0 1 0 -1 0a0.5 0.5 0 1 0 1 0 M456.7 318.0a0.5 0.5 0 1 0 -1 0a0.5 0.5 0 1 0 1 0 M459.8 314.3a0.5 0.5 0 1 0 -1 0a0.5 0.5 0 1 0 1 0 M457.7 315.8a0.5 0.5 0 1 0 -1 0a0.5 0.5 0 1 0 1 0 M459.0 315.6a0.5 0.5 0 1 0 -1 0a0.5 0.5 0 1 0 1 0 M458.2 318.2a0.5 0.5 0 1 0 -1 0a0.5 0.5 0 1 0 1 0 M455.3 316.2a0.5 0.5 0 1 0 -1 0a0.5 0.5 0 1 0 1 0 M459.8 319.6a0.5 0.5 0 1 0 -1 0a0.5 0.5 0 1 0 1 0 M463.6 319.7a0.5 0.5 0 1 0 -1 0a0.5 0.5 0 1 0 1 0 M459.7 322.8a0.5 0.5 0 1 0 -1 0a0.5 0.5 0 1 0 1 0 M464.3 318.7a0.5 0.5 0 1 0 -1 0a0.5 0.5 0 1 0 1 0 M458.8 322.5a0.5 0.5 0 1 0 -1 0a0.5 0.5 0 1 0 1 0 M457.5 321.4a0.5 0.5 0 1 0 -1 0a0.5 0.5 0 1 0 1 0 M455.6 315.6a0.5 0.5 0 1 0 -1 0a0.5 0.5 0 1 0 1 0 M456.7 318.5a0.5 0.5 0 1 0 -1 0a0.5 0.5 0 1 0 1 0 M457.6 315.9a0.5 0.5 0 1 0 -1 0a0.5 0.5 0 1 0 1 0 M463.4 321.1a0.5 0.5 0 1 0 -1 0a0.5 0.5 0 1 0 1 0 M462.2 319.7a0.5 0.5 0 1 0 -1 0a0.5 0.5 0 1 0 1 0 M459.7 318.2a0.5 0.5 0 1 0 -1 0a0.5 0.5 0 1 0 1 0 M461.1 317.9a0.5 0.5 0 1 0 -1 0a0.5 0.5 0 1 0 1 0 M463.1 316.1a0.5 0.5 0 1 0 -1 0a0.5 0.5 0 1 0 1 0 M458.5 321.0a0.5 0.5 0 1 0 -1 0a0.5 0.5 0 1 0 1 0 M459.8 320.8a0.5 0.5 0 1 0 -1 0a0.5 0.5 0 1 0 1 0 M461.6 317.4a0.5 0.5 0 1 0 -1 0a0.5 0.5 0 1 0 1 0 M458.2 314.5a0.5 0.5 0 1 0 -1 0a0.5 0.5 0 1 0 1 0 M457.7 322.5a0.5 0.5 0 1 0 -1 0a0.5 0.5 0 1 0 1 0 M463.0 321.0a0.5 0.5 0 1 0 -1 0a0.5 0.5 0 1 0 1 0 M455.3 321.6a0.5 0.5 0 1 0 -1 0a0.5 0.5 0 1 0 1 0 M455.0 315.4a0.5 0.5 0 1 0 -1 0a0.5 0.5 0 1 0 1 0 M456.4 316.3a0.5 0.5 0 1 0 -1 0a0.5 0.5 0 1 0 1 0 M457.5 320.8a0.5 0.5 0 1 0 -1 0a0.5 0.5 0 1 0 1 0 M464.3 318.5a0.5 0.5 0 1 0 -1 0a0.5 0.5 0 1 0 1 0 M457.7 316.0a0.5 0.5 0 1 0 -1 0a0.5 0.5 0 1 0 1 0 M456.7 316.3a0.5 0.5 0 1 0 -1 0a0.5 0.5 0 1 0 1 0 M456.4 317.8a0.5 0.5 0 1 0 -1 0a0.5 0.5 0 1 0 1 0 M458.3 314.2a0.5 0.5 0 1 0 -1 0a0.5 0.5 0 1 0 1 0 M462.8 320.4a0.5 0.5 0 1 0 -1 0a0.5 0.5 0 1 0 1 0 M456.2 320.9a0.5 0.5 0 1 0 -1 0a0.5 0.5 0 1 0 1 0 M456.7 319.5a0.5 0.5 0 1 0 -1 0a0.5 0.5 0 1 0 1 0 M461.4 321.6a0.5 0.5 0 1 0 -1 0a0.5 0.5 0 1 0 1 0 M457.9 316.3a0.5 0.5 0 1 0 -1 0a0.5 0.5 0 1 0 1 0 M457.9 314.4a0.5 0.5 0 1 0 -1 0a0.5 0.5 0 1 0 1 0 M463.0 320.0a0.5 0.5 0 1 0 -1 0a0.5 0.5 0 1 0 1 0 M459.4 319.0a0.5 0.5 0 1 0 -1 0a0.5 0.5 0 1 0 1 0 M463.5 316.7a0.5 0.5 0 1 0 -1 0a0.5 0.5 0 1 0 1 0 M459.0 318.0a0.5 0.5 0 1 0 -1 0a0.5 0.5 0 1 0 1 0 M457.0 317.4a0.5 0.5 0 1 0 -1 0a0.5 0.5 0 1 0 1 0 M459.8 316.8a0.5 0.5 0 1 0 -1 0a0.5 0.5 0 1 0 1 0 M457.1 318.7a0.5 0.5 0 1 0 -1 0a0.5 0.5 0 1 0 1 0 M454.5 317.2a0.5 0.5 0 1 0 -1 0a0.5 0.5 0 1 0 1 0 M460.9 320.0a0.5 0.5 0 1 0 -1 0a0.5 0.5 0 1 0 1 0 M459.6 317.8a0.5 0.5 0 1 0 -1 0a0.5 0.5 0 1 0 1 0 M457.8 314.4a0.5 0.5 0 1 0 -1 0a0.5 0.5 0 1 0 1 0 M461.5 321.7a0.5 0.5 0 1 0 -1 0a0.5 0.5 0 1 0 1 0 M458.5 316.3a0.5 0.5 0 1 0 -1 0a0.5 0.5 0 1 0 1 0 M461.4 320.5a0.5 0.5 0 1 0 -1 0a0.5 0.5 0 1 0 1 0 M455.5 315.9a0.5 0.5 0 1 0 -1 0a0.5 0.5 0 1 0 1 0 M463.6 319.4a0.5 0.5 0 1 0 -1 0a0.5 0.5 0 1 0 1 0 M455.4 317.2a0.5 0.5 0 1 0 -1 0a0.5 0.5 0 1 0 1 0 M458.2 320.4a0.5 0.5 0 1 0 -1 0a0.5 0.5 0 1 0 1 0 M462.6 321.3a0.5 0.5 0 1 0 -1 0a0.5 0.5 0 1 0 1 0 M442.8 323.9a0.5 0.5 0 1 0 -1 0a0.5 0.5 0 1 0 1 0 M439.9 322.6a0.5 0.5 0 1 0 -1 0a0.5 0.5 0 1 0 1 0 M443.6 324.3a0.5 0.5 0 1 0 -1 0a0.5 0.5 0 1 0 1 0 M443.8 322.8a0.5 0.5 0 1 0 -1 0a0.5 0.5 0 1 0 1 0 M441.8 323.4a0.5 0.5 0 1 0 -1 0a0.5 0.5 0 1 0 1 0 M443.1 320.7a0.5 0.5 0 1 0 -1 0a0.5 0.5 0 1 0 1 0 M443.2 321.5a0.5 0.5 0 1 0 -1 0a0.5 0.5 0 1 0 1 0 M443.4 325.1a0.5 0.5 0 1 0 -1 0a0.5 0.5 0 1 0 1 0 M443.4 323.6a0.5 0.5 0 1 0 -1 0a0.5 0.5 0 1 0 1 0 M441.3 325.8a0.5 0.5 0 1 0 -1 0a0.5 0.5 0 1 0 1 0 M442.1 321.5a0.5 0.5 0 1 0 -1 0a0.5 0.5 0 1 0 1 0 M440.7 321.1a0.5 0.5 0 1 0 -1 0a0.5 0.5 0 1 0 1 0 M441.7 319.6a0.5 0.5 0 1 0 -1 0a0.5 0.5 0 1 0 1 0 M444.2 323.6a0.5 0.5 0 1 0 -1 0a0.5 0.5 0 1 0 1 0 M443.1 320.0a0.5 0.5 0 1 0 -1 0a0.5 0.5 0 1 0 1 0 M442.0 324.3a0.5 0.5 0 1 0 -1 0a0.5 0.5 0 1 0 1 0 M441.8 321.6a0.5 0.5 0 1 0 -1 0a0.5 0.5 0 1 0 1 0 M441.6 320.9a0.5 0.5 0 1 0 -1 0a0.5 0.5 0 1 0 1 0 M441.6 323.3a0.5 0.5 0 1 0 -1 0a0.5 0.5 0 1 0 1 0 M442.2 325.8a0.5 0.5 0 1 0 -1 0a0.5 0.5 0 1 0 1 0 M441.9 323.1a0.5 0.5 0 1 0 -1 0a0.5 0.5 0 1 0 1 0 M443.1 324.4a0.5 0.5 0 1 0 -1 0a0.5 0.5 0 1 0 1 0 M440.7 321.6a0.5 0.5 0 1 0 -1 0a0.5 0.5 0 1 0 1 0 M441.3 319.9a0.5 0.5 0 1 0 -1 0a0.5 0.5 0 1 0 1 0 M441.0 321.0a0.5 0.5 0 1 0 -1 0a0.5 0.5 0 1 0 1 0 M457.1 327.7a0.5 0.5 0 1 0 -1 0a0.5 0.5 0 1 0 1 0 M458.7 328.4a0.5 0.5 0 1 0 -1 0a0.5 0.5 0 1 0 1 0 M456.1 331.8a0.5 0.5 0 1 0 -1 0a0.5 0.5 0 1 0 1 0 M452.7 327.3a0.5 0.5 0 1 0 -1 0a0.5 0.5 0 1 0 1 0 M459.0 328.0a0.5 0.5 0 1 0 -1 0a0.5 0.5 0 1 0 1 0 M457.3 329.5a0.5 0.5 0 1 0 -1 0a0.5 0.5 0 1 0 1 0 M454.6 330.3a0.5 0.5 0 1 0 -1 0a0.5 0.5 0 1 0 1 0 M459.4 330.3a0.5 0.5 0 1 0 -1 0a0.5 0.5 0 1 0 1 0 M454.0 329.7a0.5 0.5 0 1 0 -1 0a0.5 0.5 0 1 0 1 0 M453.1 331.6a0.5 0.5 0 1 0 -1 0a0.5 0.5 0 1 0 1 0 M457.1 327.0a0.5 0.5 0 1 0 -1 0a0.5 0.5 0 1 0 1 0 M458.6 330.6a0.5 0.5 0 1 0 -1 0a0.5 0.5 0 1 0 1 0 M455.4 326.9a0.5 0.5 0 1 0 -1 0a0.5 0.5 0 1 0 1 0 M452.0 330.5a0.5 0.5 0 1 0 -1 0a0.5 0.5 0 1 0 1 0 M457.2 327.1a0.5 0.5 0 1 0 -1 0a0.5 0.5 0 1 0 1 0 M456.7 330.0a0.5 0.5 0 1 0 -1 0a0.5 0.5 0 1 0 1 0 M456.0 326.1a0.5 0.5 0 1 0 -1 0a0.5 0.5 0 1 0 1 0 M456.6 326.6a0.5 0.5 0 1 0 -1 0a0.5 0.5 0 1 0 1 0 M451.5 327.9a0.5 0.5 0 1 0 -1 0a0.5 0.5 0 1 0 1 0 M452.4 328.0a0.5 0.5 0 1 0 -1 0a0.5 0.5 0 1 0 1 0 M451.8 329.2a0.5 0.5 0 1 0 -1 0a0.5 0.5 0 1 0 1 0 M458.5 328.9a0.5 0.5 0 1 0 -1 0a0.5 0.5 0 1 0 1 0 M454.1 328.0a0.5 0.5 0 1 0 -1 0a0.5 0.5 0 1 0 1 0 M456.7 330.1a0.5 0.5 0 1 0 -1 0a0.5 0.5 0 1 0 1 0 M454.1 329.7a0.5 0.5 0 1 0 -1 0a0.5 0.5 0 1 0 1 0 M458.5 327.1a0.5 0.5 0 1 0 -1 0a0.5 0.5 0 1 0 1 0 M452.5 327.7a0.5 0.5 0 1 0 -1 0a0.5 0.5 0 1 0 1 0 M456.2 327.8a0.5 0.5 0 1 0 -1 0a0.5 0.5 0 1 0 1 0 M451.1 329.2a0.5 0.5 0 1 0 -1 0a0.5 0.5 0 1 0 1 0 M451.8 329.3a0.5 0.5 0 1 0 -1 0a0.5 0.5 0 1 0 1 0 M452.4 329.9a0.5 0.5 0 1 0 -1 0a0.5 0.5 0 1 0 1 0 M458.6 326.8a0.5 0.5 0 1 0 -1 0a0.5 0.5 0 1 0 1 0 M459.8 330.2a0.5 0.5 0 1 0 -1 0a0.5 0.5 0 1 0 1 0 M457.1 329.9a0.5 0.5 0 1 0 -1 0a0.5 0.5 0 1 0 1 0 M453.2 326.4a0.5 0.5 0 1 0 -1 0a0.5 0.5 0 1 0 1 0 M457.3 328.3a0.5 0.5 0 1 0 -1 0a0.5 0.5 0 1 0 1 0 M459.3 327.4a0.5 0.5 0 1 0 -1 0a0.5 0.5 0 1 0 1 0 M457.9 330.4a0.5 0.5 0 1 0 -1 0a0.5 0.5 0 1 0 1 0 M457.7 329.7a0.5 0.5 0 1 0 -1 0a0.5 0.5 0 1 0 1 0 M453.5 327.7a0.5 0.5 0 1 0 -1 0a0.5 0.5 0 1 0 1 0 M464.5 308.9a0.5 0.5 0 1 0 -1 0a0.5 0.5 0 1 0 1 0 M460.0 286.6a0.5 0.5 0 1 0 -1 0a0.5 0.5 0 1 0 1 0 M461.8 314.0a0.5 0.5 0 1 0 -1 0a0.5 0.5 0 1 0 1 0 M466.1 303.9a0.5 0.5 0 1 0 -1 0a0.5 0.5 0 1 0 1 0 M465.1 302.4a0.5 0.5 0 1 0 -1 0a0.5 0.5 0 1 0 1 0 M461.2 304.2a0.5 0.5 0 1 0 -1 0a0.5 0.5 0 1 0 1 0 M462.8 288.7a0.5 0.5 0 1 0 -1 0a0.5 0.5 0 1 0 1 0 M463.8 287.4a0.5 0.5 0 1 0 -1 0a0.5 0.5 0 1 0 1 0 M463.1 289.8a0.5 0.5 0 1 0 -1 0a0.5 0.5 0 1 0 1 0 M463.6 299.6a0.5 0.5 0 1 0 -1 0a0.5 0.5 0 1 0 1 0 M463.0 306.7a0.5 0.5 0 1 0 -1 0a0.5 0.5 0 1 0 1 0 M459.2 287.0a0.5 0.5 0 1 0 -1 0a0.5 0.5 0 1 0 1 0 M460.7 294.2a0.5 0.5 0 1 0 -1 0a0.5 0.5 0 1 0 1 0 M462.0 307.8a0.5 0.5 0 1 0 -1 0a0.5 0.5 0 1 0 1 0 M460.3 309.8a0.5 0.5 0 1 0 -1 0a0.5 0.5 0 1 0 1 0 M463.9 294.5a0.5 0.5 0 1 0 -1 0a0.5 0.5 0 1 0 1 0 M462.7 291.7a0.5 0.5 0 1 0 -1 0a0.5 0.5 0 1 0 1 0 M463.7 293.6a0.5 0.5 0 1 0 -1 0a0.5 0.5 0 1 0 1 0 M464.6 299.9a0.5 0.5 0 1 0 -1 0a0.5 0.5 0 1 0 1 0 M461.0 287.6a0.5 0.5 0 1 0 -1 0a0.5 0.5 0 1 0 1 0 M464.0 288.1a0.5 0.5 0 1 0 -1 0a0.5 0.5 0 1 0 1 0 M461.5 312.3a0.5 0.5 0 1 0 -1 0a0.5 0.5 0 1 0 1 0 M465.2 293.1a0.5 0.5 0 1 0 -1 0a0.5 0.5 0 1 0 1 0 M465.2 303.2a0.5 0.5 0 1 0 -1 0a0.5 0.5 0 1 0 1 0 M463.1 289.2a0.5 0.5 0 1 0 -1 0a0.5 0.5 0 1 0 1 0 M463.5 304.2a0.5 0.5 0 1 0 -1 0a0.5 0.5 0 1 0 1 0 M463.4 301.3a0.5 0.5 0 1 0 -1 0a0.5 0.5 0 1 0 1 0 M458.6 285.2a0.5 0.5 0 1 0 -1 0a0.5 0.5 0 1 0 1 0 M462.0 300.3a0.5 0.5 0 1 0 -1 0a0.5 0.5 0 1 0 1 0 M465.2 305.8a0.5 0.5 0 1 0 -1 0a0.5 0.5 0 1 0 1 0 M463.4 293.2a0.5 0.5 0 1 0 -1 0a0.5 0.5 0 1 0 1 0 M463.9 294.2a0.5 0.5 0 1 0 -1 0a0.5 0.5 0 1 0 1 0 M462.4 292.8a0.5 0.5 0 1 0 -1 0a0.5 0.5 0 1 0 1 0 M466.2 296.4a0.5 0.5 0 1 0 -1 0a0.5 0.5 0 1 0 1 0 M460.5 288.5a0.5 0.5 0 1 0 -1 0a0.5 0.5 0 1 0 1 0 M465.9 304.6a0.5 0.5 0 1 0 -1 0a0.5 0.5 0 1 0 1 0 M464.5 300.3a0.5 0.5 0 1 0 -1 0a0.5 0.5 0 1 0 1 0 M464.7 291.7a0.5 0.5 0 1 0 -1 0a0.5 0.5 0 1 0 1 0 M466.0 296.3a0.5 0.5 0 1 0 -1 0a0.5 0.5 0 1 0 1 0 M463.6 304.0a0.5 0.5 0 1 0 -1 0a0.5 0.5 0 1 0 1 0 M462.8 300.2a0.5 0.5 0 1 0 -1 0a0.5 0.5 0 1 0 1 0 M464.2 304.4a0.5 0.5 0 1 0 -1 0a0.5 0.5 0 1 0 1 0 M461.8 303.0a0.5 0.5 0 1 0 -1 0a0.5 0.5 0 1 0 1 0 M465.6 297.0a0.5 0.5 0 1 0 -1 0a0.5 0.5 0 1 0 1 0 M464.7 302.9a0.5 0.5 0 1 0 -1 0a0.5 0.5 0 1 0 1 0 M462.0 286.8a0.5 0.5 0 1 0 -1 0a0.5 0.5 0 1 0 1 0 M462.7 295.4a0.5 0.5 0 1 0 -1 0a0.5 0.5 0 1 0 1 0 M461.6 304.7a0.5 0.5 0 1 0 -1 0a0.5 0.5 0 1 0 1 0 M464.4 300.0a0.5 0.5 0 1 0 -1 0a0.5 0.5 0 1 0 1 0 M465.9 290.1a0.5 0.5 0 1 0 -1 0a0.5 0.5 0 1 0 1 0 M464.6 301.6a0.5 0.5 0 1 0 -1 0a0.5 0.5 0 1 0 1 0 M462.1 303.1a0.5 0.5 0 1 0 -1 0a0.5 0.5 0 1 0 1 0 M460.4 285.9a0.5 0.5 0 1 0 -1 0a0.5 0.5 0 1 0 1 0 M465.6 299.1a0.5 0.5 0 1 0 -1 0a0.5 0.5 0 1 0 1 0 M463.8 293.9a0.5 0.5 0 1 0 -1 0a0.5 0.5 0 1 0 1 0 M460.6 303.6a0.5 0.5 0 1 0 -1 0a0.5 0.5 0 1 0 1 0 M459.9 286.3a0.5 0.5 0 1 0 -1 0a0.5 0.5 0 1 0 1 0 M464.1 308.3a0.5 0.5 0 1 0 -1 0a0.5 0.5 0 1 0 1 0 M465.3 303.1a0.5 0.5 0 1 0 -1 0a0.5 0.5 0 1 0 1 0 M465.1 295.5a0.5 0.5 0 1 0 -1 0a0.5 0.5 0 1 0 1 0 M465.2 291.4a0.5 0.5 0 1 0 -1 0a0.5 0.5 0 1 0 1 0 M465.9 297.3a0.5 0.5 0 1 0 -1 0a0.5 0.5 0 1 0 1 0 M462.9 289.0a0.5 0.5 0 1 0 -1 0a0.5 0.5 0 1 0 1 0 M461.0 310.3a0.5 0.5 0 1 0 -1 0a0.5 0.5 0 1 0 1 0 M463.6 309.9a0.5 0.5 0 1 0 -1 0a0.5 0.5 0 1 0 1 0 M465.2 293.3a0.5 0.5 0 1 0 -1 0a0.5 0.5 0 1 0 1 0 M467.0 292.0a0.5 0.5 0 1 0 -1 0a0.5 0.5 0 1 0 1 0 M461.7 289.3a0.5 0.5 0 1 0 -1 0a0.5 0.5 0 1 0 1 0 M463.2 309.1a0.5 0.5 0 1 0 -1 0a0.5 0.5 0 1 0 1 0 M462.5 288.0a0.5 0.5 0 1 0 -1 0a0.5 0.5 0 1 0 1 0 M458.6 315.4a0.5 0.5 0 1 0 -1 0a0.5 0.5 0 1 0 1 0 M463.8 293.4a0.5 0.5 0 1 0 -1 0a0.5 0.5 0 1 0 1 0 M465.1 302.9a0.5 0.5 0 1 0 -1 0a0.5 0.5 0 1 0 1 0 M462.4 308.3a0.5 0.5 0 1 0 -1 0a0.5 0.5 0 1 0 1 0 M462.6 285.9a0.5 0.5 0 1 0 -1 0a0.5 0.5 0 1 0 1 0 M467.6 294.3a0.5 0.5 0 1 0 -1 0a0.5 0.5 0 1 0 1 0 M464.5 291.5a0.5 0.5 0 1 0 -1 0a0.5 0.5 0 1 0 1 0 M461.5 309.3a0.5 0.5 0 1 0 -1 0a0.5 0.5 0 1 0 1 0 M463.9 295.2a0.5 0.5 0 1 0 -1 0a0.5 0.5 0 1 0 1 0 M464.8 295.6a0.5 0.5 0 1 0 -1 0a0.5 0.5 0 1 0 1 0 M464.9 291.5a0.5 0.5 0 1 0 -1 0a0.5 0.5 0 1 0 1 0 M459.7 304.9a0.5 0.5 0 1 0 -1 0a0.5 0.5 0 1 0 1 0 M463.0 303.2a0.5 0.5 0 1 0 -1 0a0.5 0.5 0 1 0 1 0 M462.1 313.2a0.5 0.5 0 1 0 -1 0a0.5 0.5 0 1 0 1 0 M464.8 294.9a0.5 0.5 0 1 0 -1 0a0.5 0.5 0 1 0 1 0 M464.1 301.7a0.5 0.5 0 1 0 -1 0a0.5 0.5 0 1 0 1 0 M464.5 304.4a0.5 0.5 0 1 0 -1 0a0.5 0.5 0 1 0 1 0 M463.6 303.4a0.5 0.5 0 1 0 -1 0a0.5 0.5 0 1 0 1 0 M461.3 313.7a0.5 0.5 0 1 0 -1 0a0.5 0.5 0 1 0 1 0 M465.1 293.2a0.5 0.5 0 1 0 -1 0a0.5 0.5 0 1 0 1 0 M464.5 299.7a0.5 0.5 0 1 0 -1 0a0.5 0.5 0 1 0 1 0 M461.7 288.1a0.5 0.5 0 1 0 -1 0a0.5 0.5 0 1 0 1 0 M464.8 296.5a0.5 0.5 0 1 0 -1 0a0.5 0.5 0 1 0 1 0 M462.2 304.6a0.5 0.5 0 1 0 -1 0a0.5 0.5 0 1 0 1 0 M464.0 294.8a0.5 0.5 0 1 0 -1 0a0.5 0.5 0 1 0 1 0 M464.8 289.5a0.5 0.5 0 1 0 -1 0a0.5 0.5 0 1 0 1 0 M463.9 301.4a0.5 0.5 0 1 0 -1 0a0.5 0.5 0 1 0 1 0 M464.5 302.1a0.5 0.5 0 1 0 -1 0a0.5 0.5 0 1 0 1 0 M459.6 313.5a0.5 0.5 0 1 0 -1 0a0.5 0.5 0 1 0 1 0 M464.9 309.0a0.5 0.5 0 1 0 -1 0a0.5 0.5 0 1 0 1 0 M461.8 299.1a0.5 0.5 0 1 0 -1 0a0.5 0.5 0 1 0 1 0 M460.5 314.2a0.5 0.5 0 1 0 -1 0a0.5 0.5 0 1 0 1 0 M467.3 295.8a0.5 0.5 0 1 0 -1 0a0.5 0.5 0 1 0 1 0 M463.0 291.5a0.5 0.5 0 1 0 -1 0a0.5 0.5 0 1 0 1 0 M464.1 294.8a0.5 0.5 0 1 0 -1 0a0.5 0.5 0 1 0 1 0 M463.5 305.0a0.5 0.5 0 1 0 -1 0a0.5 0.5 0 1 0 1 0 M466.2 299.1a0.5 0.5 0 1 0 -1 0a0.5 0.5 0 1 0 1 0 M462.6 288.5a0.5 0.5 0 1 0 -1 0a0.5 0.5 0 1 0 1 0 M461.7 294.2a0.5 0.5 0 1 0 -1 0a0.5 0.5 0 1 0 1 0 M464.2 302.0a0.5 0.5 0 1 0 -1 0a0.5 0.5 0 1 0 1 0 M464.6 293.7a0.5 0.5 0 1 0 -1 0a0.5 0.5 0 1 0 1 0 M462.7 308.6a0.5 0.5 0 1 0 -1 0a0.5 0.5 0 1 0 1 0 M462.9 286.8a0.5 0.5 0 1 0 -1 0a0.5 0.5 0 1 0 1 0 M463.3 295.6a0.5 0.5 0 1 0 -1 0a0.5 0.5 0 1 0 1 0 M463.0 298.4a0.5 0.5 0 1 0 -1 0a0.5 0.5 0 1 0 1 0 M462.7 293.9a0.5 0.5 0 1 0 -1 0a0.5 0.5 0 1 0 1 0 M463.0 294.1a0.5 0.5 0 1 0 -1 0a0.5 0.5 0 1 0 1 0 M463.2 303.5a0.5 0.5 0 1 0 -1 0a0.5 0.5 0 1 0 1 0 M462.5 301.3a0.5 0.5 0 1 0 -1 0a0.5 0.5 0 1 0 1 0 M463.6 307.5a0.5 0.5 0 1 0 -1 0a0.5 0.5 0 1 0 1 0 M464.2 297.2a0.5 0.5 0 1 0 -1 0a0.5 0.5 0 1 0 1 0 M464.7 301.1a0.5 0.5 0 1 0 -1 0a0.5 0.5 0 1 0 1 0 M464.3 291.1a0.5 0.5 0 1 0 -1 0a0.5 0.5 0 1 0 1 0 M467.1 292.0a0.5 0.5 0 1 0 -1 0a0.5 0.5 0 1 0 1 0 M460.4 307.9a0.5 0.5 0 1 0 -1 0a0.5 0.5 0 1 0 1 0 M465.6 301.0a0.5 0.5 0 1 0 -1 0a0.5 0.5 0 1 0 1 0 M464.3 295.8a0.5 0.5 0 1 0 -1 0a0.5 0.5 0 1 0 1 0 M463.3 299.2a0.5 0.5 0 1 0 -1 0a0.5 0.5 0 1 0 1 0 M462.8 307.3a0.5 0.5 0 1 0 -1 0a0.5 0.5 0 1 0 1 0 M464.5 303.9a0.5 0.5 0 1 0 -1 0a0.5 0.5 0 1 0 1 0 M464.0 306.2a0.5 0.5 0 1 0 -1 0a0.5 0.5 0 1 0 1 0 M463.7 293.8a0.5 0.5 0 1 0 -1 0a0.5 0.5 0 1 0 1 0 M463.2 305.7a0.5 0.5 0 1 0 -1 0a0.5 0.5 0 1 0 1 0 M464.6 290.5a0.5 0.5 0 1 0 -1 0a0.5 0.5 0 1 0 1 0 M464.1 297.0a0.5 0.5 0 1 0 -1 0a0.5 0.5 0 1 0 1 0 M465.5 294.8a0.5 0.5 0 1 0 -1 0a0.5 0.5 0 1 0 1 0 M464.1 296.2a0.5 0.5 0 1 0 -1 0a0.5 0.5 0 1 0 1 0 M462.9 309.9a0.5 0.5 0 1 0 -1 0a0.5 0.5 0 1 0 1 0 M460.0 286.3a0.5 0.5 0 1 0 -1 0a0.5 0.5 0 1 0 1 0 M466.3 290.4a0.5 0.5 0 1 0 -1 0a0.5 0.5 0 1 0 1 0 M463.8 291.2a0.5 0.5 0 1 0 -1 0a0.5 0.5 0 1 0 1 0 M464.2 306.7a0.5 0.5 0 1 0 -1 0a0.5 0.5 0 1 0 1 0 M466.6 293.7a0.5 0.5 0 1 0 -1 0a0.5 0.5 0 1 0 1 0 M465.2 293.2a0.5 0.5 0 1 0 -1 0a0.5 0.5 0 1 0 1 0 M461.9 297.3a0.5 0.5 0 1 0 -1 0a0.5 0.5 0 1 0 1 0 M461.9 294.2a0.5 0.5 0 1 0 -1 0a0.5 0.5 0 1 0 1 0 M461.9 295.5a0.5 0.5 0 1 0 -1 0a0.5 0.5 0 1 0 1 0 M465.7 294.6a0.5 0.5 0 1 0 -1 0a0.5 0.5 0 1 0 1 0 M458.9 287.6a0.5 0.5 0 1 0 -1 0a0.5 0.5 0 1 0 1 0 M464.9 294.0a0.5 0.5 0 1 0 -1 0a0.5 0.5 0 1 0 1 0 M480.1 270.4a0.5 0.5 0 1 0 -1 0a0.5 0.5 0 1 0 1 0 M480.3 271.5a0.5 0.5 0 1 0 -1 0a0.5 0.5 0 1 0 1 0 M480.0 272.0a0.5 0.5 0 1 0 -1 0a0.5 0.5 0 1 0 1 0 M480.3 271.5a0.5 0.5 0 1 0 -1 0a0.5 0.5 0 1 0 1 0 M480.4 272.1a0.5 0.5 0 1 0 -1 0a0.5 0.5 0 1 0 1 0 M479.5 271.0a0.5 0.5 0 1 0 -1 0a0.5 0.5 0 1 0 1 0" fill="none" stroke="#a9a9a9" stroke-width="0.35"/>
</g>
<path d="M415.4 306.5h0 M419.2 333.1h0 M416.0 306.8h0 M415.6 321.1h0 M415.8 330.6h0 M417.4 317.9h0 M418.0 319.3h0 M422.1 330.7h0 M417.5 313.9h0 M416.9 329.2h0 M417.2 303.4h0 M415.4 314.4h0 M419.2 336.5h0 M419.2 320.8h0 M416.8 304.4h0 M414.8 317.2h0 M421.0 327.9h0 M417.0 311.0h0 M418.2 314.4h0 M416.5 330.2h0 M419.8 334.2h0 M420.5 328.7h0 M419.0 319.2h0 M414.9 336.0h0 M417.5 334.9h0 M415.5 321.1h0 M416.9 329.3h0 M416.4 335.7h0 M417.1 324.2h0 M415.9 326.1h0 M417.9 310.0h0 M419.2 331.3h0 M415.9 337.6h0 M415.4 335.0h0 M419.5 339.2h0 M420.9 325.9h0 M421.0 332.6h0 M416.0 305.3h0 M415.3 306.5h0 M418.8 311.3h0 M415.0 308.0h0 M419.8 321.6h0 M420.2 339.2h0 M416.4 311.2h0 M415.2 329.6h0 M417.3 328.6h0 M418.9 325.2h0 M418.3 328.2h0 M415.8 323.9h0 M415.4 321.7h0 M417.8 321.2h0 M417.8 332.1h0 M416.5 304.0h0 M417.9 310.9h0 M416.6 317.8h0 M417.5 337.1h0 M416.2 316.3h0 M415.2 321.2h0 M420.4 323.6h0 M419.3 324.2h0 M421.3 338.5h0 M421.1 331.0h0 M416.2 333.8h0 M416.7 321.2h0 M416.8 313.0h0 M417.5 315.1h0 M415.3 325.0h0 M416.9 319.8h0 M415.5 329.6h0 M416.1 309.6h0 M418.3 318.4h0 M415.2 315.7h0 M416.3 338.0h0 M414.5 308.8h0 M415.4 315.9h0 M420.4 323.3h0 M415.7 308.0h0 M420.8 328.2h0 M415.6 340.5h0 M420.1 323.3h0 M416.6 305.3h0 M418.1 309.8h0 M418.8 338.2h0 M415.8 303.6h0 M419.4 318.8h0 M417.4 312.1h0 M416.0 318.4h0 M417.1 329.5h0 M418.7 317.1h0 M419.4 321.7h0 M415.6 322.5h0 M419.7 319.8h0 M420.7 324.3h0 M416.3 303.3h0 M420.1 331.9h0 M418.8 324.2h0 M420.1 335.9h0 M418.1 323.7h0 M416.9 328.1h0 M418.9 328.2h0 M418.4 332.5h0 M416.5 304.3h0 M419.7 335.2h0 M417.2 327.2h0 M418.3 316.6h0 M417.4 306.2h0 M422.5 335.9h0 M413.7 308.3h0 M417.6 336.6h0 M415.5 313.4h0 M415.8 327.8h0 M418.6 321.4h0 M415.0 330.1h0 M417.9 333.5h0 M417.8 319.5h0 M419.1 313.7h0 M416.3 311.2h0 M416.9 309.6h0 M421.8 336.9h0 M416.9 308.3h0 M415.8 336.5h0 M418.6 318.7h0 M418.3 330.8h0 M419.0 327.1h0 M417.9 316.4h0 M419.0 324.8h0 M416.7 322.3h0 M420.0 319.5h0 M413.3 310.3h0 M417.1 303.8h0 M416.4 340.1h0 M414.1 313.2h0 M417.7 325.6h0 M415.8 333.8h0 M418.1 336.0h0 M421.1 333.4h0 M418.4 337.2h0 M418.2 326.0h0 M416.0 310.4h0 M421.9 337.8h0 M416.7 304.1h0 M414.7 315.5h0 M418.0 308.5h0 M418.6 339.0h0 M417.3 317.6h0 M420.7 334.1h0 M415.5 305.7h0 M418.4 335.6h0 M419.9 327.8h0 M419.4 327.0h0 M416.0 323.6h0 M419.8 310.3h0 M416.8 303.7h0 M416.1 336.1h0 M416.1 305.1h0 M416.7 315.6h0 M420.0 319.2h0 M418.4 307.7h0 M417.4 305.0h0 M418.2 315.7h0 M416.4 303.4h0 M419.1 328.5h0 M415.4 333.3h0 M418.0 318.2h0 M417.1 304.4h0 M415.9 318.8h0 M417.2 311.6h0 M415.8 305.1h0 M415.1 314.6h0 M419.3 330.5h0 M420.2 336.9h0 M415.4 314.3h0 M414.8 307.9h0 M419.3 325.8h0 M415.5 314.3h0 M422.5 333.2h0 M414.9 306.5h0 M418.7 331.5h0 M418.2 319.1h0 M415.3 331.6h0 M422.3 339.1h0 M417.2 318.8h0 M417.0 313.4h0 M416.3 310.9h0 M418.5 336.9h0 M415.5 334.1h0 M415.1 336.2h0 M417.7 311.2h0 M414.2 314.5h0 M417.2 306.5h0 M415.6 304.0h0 M420.8 338.5h0 M415.4 317.1h0 M421.0 335.6h0 M418.4 328.2h0 M420.6 322.8h0 M415.1 322.7h0 M416.6 306.1h0 M419.6 330.6h0 M417.2 330.9h0 M415.8 317.1h0 M415.8 317.2h0 M415.2 334.3h0 M417.7 311.0h0 M416.4 318.1h0 M421.7 339.5h0 M413.3 311.4h0 M418.1 321.6h0 M417.5 316.2h0 M420.4 328.5h0 M417.2 312.3h0 M415.2 305.5h0 M415.4 305.4h0 M417.5 332.4h0 M417.3 321.6h0 M412.5 311.0h0 M418.8 310.1h0 M416.5 315.9h0 M418.0 313.1h0 M417.6 329.4h0 M417.0 322.1h0 M418.4 324.6h0 M420.4 324.8h0 M414.7 338.6h0 M414.6 317.4h0 M418.9 317.2h0 M418.7 328.6h0 M417.3 306.5h0 M416.6 326.1h0 M414.7 332.5h0 M418.3 310.3h0 M415.5 305.0h0 M418.9 322.0h0 M414.8 325.2h0 M417.8 313.5h0 M415.3 316.3h0 M416.2 303.4h0 M414.6 337.9h0 M420.3 323.9h0 M416.8 329.4h0 M415.4 327.4h0 M416.2 321.9h0 M421.7 335.9h0 M417.7 331.6h0 M422.7 332.9h0 M417.3 317.0h0 M413.1 309.3h0 M415.3 330.1h0 M415.3 325.7h0 M419.9 328.2h0 M417.5 338.3h0 M416.7 317.8h0 M420.5 329.6h0 M415.4 307.6h0 M415.7 305.4h0 M421.9 330.6h0 M415.0 339.8h0 M419.5 318.3h0 M416.7 322.1h0 M421.6 332.4h0 M416.2 308.7h0 M413.8 308.8h0 M416.2 323.0h0 M417.3 333.2h0 M417.0 310.0h0 M413.1 313.0h0 M416.0 340.5h0 M416.0 308.2h0 M416.9 303.4h0 M414.9 306.1h0 M418.6 339.2h0 M421.8 337.8h0 M415.2 330.6h0 M415.1 327.2h0 M417.0 303.7h0 M418.3 314.7h0 M419.5 323.0h0 M421.1 327.1h0 M419.7 321.0h0 M419.2 333.9h0 M417.2 322.1h0 M415.9 327.3h0 M418.4 319.6h0 M414.9 314.7h0 M417.4 307.3h0 M421.4 335.9h0 M419.2 329.6h0 M417.4 305.5h0 M418.7 320.9h0 M417.4 307.8h0 M419.3 308.8h0 M418.7 329.7h0 M416.2 327.6h0 M415.1 321.9h0 M414.9 313.7h0 M415.4 309.4h0 M415.0 305.7h0 M419.8 315.7h0 M418.1 330.3h0 M413.1 310.7h0 M418.3 318.8h0 M418.1 334.0h0 M421.2 335.0h0 M416.9 334.9h0 M415.6 320.7h0 M414.9 325.0h0 M415.6 320.8h0 M415.7 321.1h0 M416.4 303.4h0 M417.7 319.2h0 M416.1 307.9h0 M413.9 314.4h0 M418.3 318.6h0 M418.0 314.6h0 M414.5 332.6h0 M414.3 311.3h0 M417.7 325.3h0 M415.1 324.4h0 M414.2 314.0h0 M420.1 331.1h0 M419.1 314.6h0 M413.1 308.3h0 M418.1 317.2h0 M418.5 338.5h0 M416.7 308.4h0 M417.0 303.9h0 M414.4 315.3h0 M418.4 308.9h0 M415.7 337.0h0 M421.4 340.4h0 M414.3 315.6h0 M415.6 308.9h0 M413.5 310.9h0 M419.1 313.4h0 M417.3 304.7h0 M419.0 320.0h0 M420.4 322.3h0 M414.2 310.0h0 M417.7 322.2h0 M415.8 315.6h0 M416.3 306.6h0 M421.8 334.2h0 M420.2 318.7h0 M417.0 339.3h0 M417.8 307.6h0 M419.7 338.3h0 M418.3 339.2h0 M415.1 322.8h0 M419.6 317.1h0 M414.9 307.1h0 M416.4 304.5h0 M418.0 325.7h0 M420.0 336.0h0 M418.6 327.0h0 M415.1 322.1h0 M416.8 306.9h0 M415.3 311.2h0 M418.6 327.4h0 M414.3 312.4h0 M417.2 308.5h0 M415.9 330.1h0 M413.8 313.4h0 M416.5 326.1h0 M416.3 335.7h0 M418.9 327.3h0 M420.3 338.3h0 M419.2 338.0h0 M416.2 303.4h0 M417.5 330.8h0 M415.5 327.8h0 M417.2 327.4h0 M414.9 338.5h0 M418.6 316.7h0 M417.0 317.9h0 M414.6 315.7h0 M419.1 315.2h0 M417.1 331.8h0 M420.2 328.2h0 M414.7 332.9h0 M419.5 309.4h0 M418.4 313.7h0 M420.3 326.7h0 M417.6 306.2h0 M416.1 335.9h0 M414.9 329.7h0 M417.7 335.5h0 M420.9 330.8h0 M417.2 304.3h0 M414.9 307.2h0 M416.1 320.3h0 M415.9 327.4h0 M419.6 326.5h0 M417.6 339.1h0 M417.0 313.9h0 M420.9 327.5h0 M417.4 325.1h0 M418.1 314.4h0 M415.1 327.0h0 M414.4 314.4h0 M416.9 321.7h0 M416.3 309.2h0 M417.0 327.8h0 M414.8 334.3h0 M416.9 305.4h0 M419.4 324.2h0 M418.6 338.1h0 M419.8 333.7h0 M417.7 322.4h0 M417.3 340.2h0 M417.3 319.1h0 M415.0 327.1h0 M414.9 327.5h0 M416.9 317.4h0 M418.2 324.4h0 M414.8 325.8h0 M418.3 315.5h0 M419.3 318.8h0 M418.2 323.5h0 M421.6 328.5h0 M415.9 303.4h0 M415.3 306.6h0 M417.3 304.1h0 M415.9 308.9h0 M418.2 336.1h0 M414.5 312.5h0 M416.3 319.0h0 M417.1 320.8h0 M417.5 306.3h0 M419.0 339.4h0 M417.7 306.8h0 M416.4 316.8h0 M419.4 312.8h0 M416.9 329.0h0 M416.7 317.0h0 M418.2 317.5h0 M414.7 338.6h0 M421.6 334.8h0 M419.8 311.4h0 M420.4 335.9h0 M416.0 307.3h0 M419.1 331.5h0 M417.0 305.5h0 M415.7 318.6h0 M414.8 316.2h0 M414.4 316.7h0 M415.6 340.4h0 M415.9 315.9h0 M416.6 320.4h0 M415.7 336.3h0 M417.6 340.4h0 M417.1 339.9h0 M417.3 306.3h0 M417.9 309.2h0 M415.9 336.1h0 M417.2 315.1h0 M421.6 335.6h0 M418.0 321.4h0 M415.5 333.2h0 M421.5 338.0h0 M417.0 312.0h0 M419.7 330.5h0 M415.0 306.0h0 M412.9 311.6h0 M419.0 321.3h0 M420.4 324.7h0 M417.3 321.5h0 M418.7 308.0h0 M421.5 328.3h0 M415.0 338.1h0 M417.8 325.7h0 M415.2 331.4h0 M418.8 327.8h0 M415.0 317.2h0 M415.1 328.8h0 M414.3 315.9h0 M415.1 314.7h0 M419.1 326.3h0 M417.8 329.6h0 M419.9 331.4h0 M419.4 323.2h0 M418.3 339.4h0 M419.5 339.1h0 M417.1 317.7h0 M416.8 327.7h0 M417.5 337.6h0 M420.2 326.5h0 M420.0 334.2h0 M420.4 329.9h0 M417.4 325.1h0 M415.5 336.7h0 M415.1 308.1h0 M419.8 312.0h0 M420.1 323.0h0 M416.0 323.9h0 M421.8 335.8h0 M417.6 307.9h0 M415.7 324.5h0 M418.3 315.8h0 M416.9 310.3h0 M417.9 323.1h0 M418.5 310.1h0 M418.9 323.4h0 M416.7 326.6h0 M417.9 330.7h0 M418.1 337.6h0 M415.8 310.5h0 M419.9 318.0h0 M419.2 314.8h0 M415.7 304.3h0 M418.2 314.3h0 M417.3 325.7h0 M419.4 318.7h0 M418.3 311.4h0 M418.3 317.2h0 M417.8 333.7h0 M414.0 310.5h0 M413.0 312.5h0 M418.3 319.2h0 M419.8 317.7h0 M420.8 338.2h0 M424.3 281.7h0 M423.9 280.4h0 M424.2 280.2h0 M422.7 281.6h0 M423.5 280.8h0 M424.4 279.8h0 M424.4 281.1h0 M423.7 281.0h0 M423.1 279.0h0 M423.6 280.0h0 M424.6 280.9h0 M423.3 280.8h0 M425.0 281.6h0 M424.1 281.1h0 M423.6 280.6h0 M424.3 280.6h0 M424.1 279.8h0 M422.3 279.4h0 M423.4 281.8h0 M424.9 279.9h0 M422.4 281.3h0 M424.2 279.6h0 M424.8 280.9h0 M425.0 281.0h0 M424.6 281.0h0 M423.0 280.5h0 M423.2 281.4h0 M422.9 279.5h0 M424.4 281.6h0 M425.1 281.6h0 M426.4 308.2h0 M426.6 308.4h0 M426.2 308.4h0 M426.9 308.1h0 M434.7 322.5h0 M432.9 322.4h0 M431.9 322.1h0 M436.0 321.7h0 M434.3 321.7h0 M433.2 322.3h0 M433.8 322.1h0 M436.3 321.9h0 M432.2 322.4h0 M435.0 321.1h0 M434.5 322.6h0 M432.9 320.9h0 M436.4 321.9h0 M433.7 322.1h0" stroke="#e5432f" stroke-width="1.20" stroke-linecap="round" fill="none"/>
<path d="M459.6 287.0h0 M462.0 297.0h0 M461.0 309.0h0 M451.0 322.0h0 M446.0 328.0h0" stroke="#e39a90" stroke-width="0.90" stroke-linecap="round" fill="none"/>
<line x1="398.30" y1="264.40" x2="398.30" y2="355.20" stroke="#222" stroke-width="1.1"/>
<line x1="397.80" y1="354.70" x2="490.00" y2="354.70" stroke="#222" stroke-width="1.1"/>
<text x="443.90" y="364.40" font-size="9.0" text-anchor="middle" fill="#222" textLength="22.80" lengthAdjust="spacingAndGlyphs" stroke="#222" stroke-width="0.3">UMAP1</text>
<text x="394.30" y="309.00" font-size="9.0" text-anchor="middle" fill="#222" textLength="22.80" lengthAdjust="spacingAndGlyphs" stroke="#222" stroke-width="0.3" transform="rotate(-90 394.30 309.00)">UMAP2</text>
<text x="7.70" y="395.60" font-size="11.5" font-weight="bold" fill="#000" textLength="8.00" lengthAdjust="spacingAndGlyphs">G</text>
<line x1="99.30" y1="402.00" x2="99.30" y2="521.90" stroke="#777" stroke-width="0.7" stroke-dasharray="1 1.4"/>
<line x1="145.50" y1="402.00" x2="145.50" y2="521.90" stroke="#777" stroke-width="0.7" stroke-dasharray="1 1.4"/>
<line x1="51.60" y1="487.60" x2="165.50" y2="487.60" stroke="#777" stroke-width="0.7" stroke-dasharray="1 1.4"/>
<path d="M113.3 507.3h0 M110.5 516.5h0 M102.2 509.0h0 M114.7 509.6h0 M102.7 497.0h0 M106.9 508.6h0 M103.4 504.1h0 M113.0 507.4h0 M106.7 497.2h0 M112.3 504.7h0 M109.0 501.9h0 M102.4 496.7h0 M98.8 497.2h0 M116.0 509.9h0 M109.5 502.3h0 M110.8 516.3h0 M98.7 494.9h0 M104.9 514.1h0 M109.2 508.7h0 M99.3 496.8h0 M105.7 507.9h0 M112.8 506.6h0 M103.8 496.9h0 M106.5 498.8h0 M112.9 514.4h0 M101.1 509.7h0 M104.6 512.8h0 M111.6 508.2h0 M109.9 514.9h0 M104.1 513.8h0 M116.0 511.4h0 M103.8 512.4h0 M100.0 496.8h0 M109.3 504.1h0 M109.8 501.7h0 M109.7 506.9h0 M110.6 515.8h0 M102.1 502.9h0 M114.9 515.6h0 M108.7 509.1h0 M111.8 514.9h0 M105.6 498.3h0 M111.1 511.6h0 M98.9 497.1h0 M106.4 507.4h0 M105.5 499.3h0 M117.0 512.3h0 M104.4 509.4h0 M103.5 499.7h0 M99.7 499.7h0 M109.1 501.6h0 M100.9 502.7h0 M99.1 502.0h0 M105.9 509.8h0 M110.1 513.0h0 M106.5 515.4h0 M108.4 509.1h0 M104.4 511.9h0 M109.2 511.8h0 M103.8 498.2h0 M101.9 507.1h0 M100.0 501.0h0 M103.4 498.2h0 M107.5 511.0h0 M103.5 505.5h0 M103.6 513.0h0 M115.7 510.8h0 M104.7 504.8h0 M104.6 515.1h0 M103.5 496.1h0 M114.5 511.9h0 M99.3 499.7h0 M100.3 510.8h0 M100.4 494.1h0 M107.4 499.1h0 M108.4 506.1h0 M105.1 499.0h0 M115.8 515.4h0 M107.4 502.2h0 M108.3 505.8h0 M105.0 515.8h0 M108.9 512.6h0 M105.4 510.4h0 M104.6 510.6h0 M99.7 502.4h0 M109.1 499.9h0 M116.3 511.0h0 M107.3 500.1h0 M100.4 505.2h0 M104.4 513.7h0 M101.6 493.5h0 M113.5 516.5h0 M106.7 513.8h0 M112.2 511.8h0 M109.7 504.9h0 M110.5 512.0h0 M116.6 514.3h0 M112.4 515.3h0 M103.8 500.4h0 M111.9 513.7h0 M105.6 504.4h0 M103.7 515.4h0 M111.9 509.7h0 M103.2 505.5h0 M102.9 500.4h0 M102.6 508.6h0 M105.3 496.5h0 M101.4 505.3h0 M104.3 514.6h0 M106.7 512.3h0 M104.6 511.5h0 M103.9 500.8h0 M100.6 509.0h0 M100.3 499.0h0 M108.7 512.4h0 M100.2 501.8h0 M109.3 514.8h0 M111.9 515.0h0 M109.0 508.9h0 M106.5 505.6h0 M108.6 500.2h0 M112.4 508.2h0 M104.8 507.8h0 M101.3 498.1h0 M109.4 508.3h0 M99.1 502.2h0 M109.9 501.5h0 M105.2 512.5h0 M106.6 516.0h0 M103.4 494.9h0 M107.7 510.4h0 M105.2 498.5h0 M109.2 512.6h0 M109.4 507.2h0 M106.0 508.5h0 M107.2 504.6h0 M103.3 505.1h0 M100.8 493.6h0 M110.4 515.0h0 M107.4 506.0h0 M105.1 501.5h0 M114.6 511.6h0 M102.0 501.6h0 M108.5 514.7h0 M99.6 499.8h0 M109.0 501.0h0 M109.0 500.0h0 M111.1 504.2h0 M107.9 504.5h0 M105.1 505.0h0 M140.1 506.2h0 M129.1 507.0h0 M130.3 506.6h0 M140.6 506.5h0 M141.5 499.6h0 M140.9 496.7h0 M132.0 505.5h0 M131.4 507.3h0 M137.1 497.8h0 M133.5 515.8h0 M137.8 515.1h0 M133.1 506.6h0 M136.9 510.9h0 M127.4 513.4h0 M136.4 516.9h0 M134.0 507.8h0 M136.8 509.5h0 M131.6 504.2h0 M140.0 505.4h0 M141.1 496.7h0 M137.2 507.4h0 M136.3 508.8h0 M132.9 512.6h0 M133.3 506.6h0 M143.8 497.1h0 M142.3 499.8h0 M136.6 510.6h0 M142.0 494.4h0 M128.0 508.8h0 M136.2 507.5h0 M141.4 498.9h0 M135.8 510.2h0 M136.0 506.7h0 M132.8 502.7h0 M140.8 513.0h0 M131.3 509.1h0 M140.5 496.9h0 M138.2 495.5h0 M138.3 502.0h0 M133.9 510.7h0 M129.8 510.5h0 M136.4 502.6h0 M135.6 503.8h0 M143.1 504.0h0 M137.3 510.5h0 M144.2 498.8h0 M135.8 501.4h0 M139.9 493.9h0 M140.2 500.2h0 M144.9 493.7h0 M130.4 510.0h0 M138.8 496.5h0 M145.1 490.7h0 M141.8 501.1h0 M136.5 501.4h0 M136.7 500.5h0 M138.7 516.5h0 M140.2 508.8h0 M143.5 505.6h0 M131.6 505.2h0 M139.6 511.2h0 M132.0 515.2h0 M141.2 497.9h0 M141.6 490.2h0 M144.4 497.8h0 M137.8 496.1h0 M135.9 506.8h0 M133.9 516.4h0 M140.1 509.6h0 M132.1 514.7h0 M141.0 508.4h0 M139.6 498.7h0 M139.6 500.8h0 M141.9 507.7h0 M141.0 495.8h0 M138.0 498.4h0 M136.3 516.0h0 M143.5 499.8h0 M141.1 508.2h0 M130.4 510.3h0 M140.0 497.1h0 M129.7 508.2h0 M135.4 505.0h0 M132.9 503.0h0 M141.6 501.4h0 M144.8 493.3h0 M135.6 515.8h0 M142.9 490.6h0 M132.6 515.3h0 M137.1 501.0h0 M132.5 512.5h0 M136.3 515.1h0 M142.0 500.5h0 M144.0 500.6h0 M140.5 500.3h0 M141.2 507.4h0 M145.4 489.8h0 M140.3 513.4h0 M132.6 505.8h0 M140.7 491.7h0 M136.0 502.5h0 M131.7 508.0h0 M142.7 490.4h0 M143.4 499.3h0 M138.2 508.7h0 M131.4 511.9h0 M135.6 516.5h0 M138.8 513.8h0 M142.0 505.0h0 M139.7 515.3h0 M103.0 459.9h0 M101.6 466.0h0 M108.7 474.0h0 M107.6 480.0h0 M101.8 486.9h0 M151.9 489.0h0 M160.0 490.0h0 M140.4 472.5h0 M138.0 478.0h0 M106.0 498.0h0 M95.2 507.5h0 M113.5 499.5h0 M127.0 490.0h0 M133.0 481.0h0 M130.5 496.0h0 M141.0 493.0h0 M144.0 483.0h0 M145.5 476.0h0" stroke="#b5b5b5" stroke-width="3.00" stroke-linecap="round" fill="none"/>
<path d="M56.8 410.0h0 M61.4 423.0h0 M76.9 431.5h0 M82.2 438.0h0 M78.7 441.4h0 M81.0 442.6h0 M78.0 449.5h0 M82.2 454.6h0 M88.4 458.5h0 M88.4 460.8h0 M98.3 459.0h0 M64.9 467.3h0 M89.6 466.8h0 M85.0 469.6h0 M86.5 470.0h0 M93.0 470.7h0 M90.7 473.0h0 M92.5 475.5h0 M93.0 477.7h0 M94.2 478.8h0 M95.5 479.3h0 M96.5 478.0h0 M96.0 484.6h0 M97.0 486.9h0 M97.5 489.0h0 M95.2 476.0h0 M91.5 472.3h0" stroke="#e8474c" stroke-width="3.10" stroke-linecap="round" fill="none"/>
<path d="M145.0 475.4h0 M145.0 483.4h0 M154.2 466.1h0" stroke="#000" stroke-width="3.10" stroke-linecap="round" fill="none"/>
<line x1="61.40" y1="424.50" x2="61.40" y2="430.00" stroke="#111" stroke-width="0.7"/>
<line x1="76.90" y1="430.00" x2="78.20" y2="423.00" stroke="#111" stroke-width="0.7"/>
<line x1="82.00" y1="437.00" x2="80.00" y2="440.00" stroke="#111" stroke-width="0.7"/>
<line x1="98.30" y1="459.00" x2="103.40" y2="454.00" stroke="#111" stroke-width="0.7"/>
<line x1="81.50" y1="478.40" x2="92.00" y2="471.00" stroke="#111" stroke-width="0.7"/>
<line x1="87.00" y1="490.00" x2="93.50" y2="478.00" stroke="#111" stroke-width="0.7"/>
<line x1="95.60" y1="474.20" x2="101.80" y2="476.00" stroke="#111" stroke-width="0.7"/>
<line x1="97.50" y1="489.00" x2="99.50" y2="491.50" stroke="#111" stroke-width="0.7"/>
<text x="60.60" y="408.30" font-size="6.2" textLength="8.54" lengthAdjust="spacingAndGlyphs" stroke="#111" stroke-width="0.15">IFI6</text>
<text x="55.80" y="436.10" font-size="6.2" textLength="14.06" lengthAdjust="spacingAndGlyphs" stroke="#111" stroke-width="0.15">ISG15</text>
<text x="77.60" y="418.30" font-size="6.2" textLength="10.20" lengthAdjust="spacingAndGlyphs" stroke="#111" stroke-width="0.15">MX1</text>
<text x="80.40" y="434.90" font-size="6.2" textLength="14.06" lengthAdjust="spacingAndGlyphs" stroke="#111" stroke-width="0.15">ISG20</text>
<text x="82.40" y="449.50" font-size="6.2" textLength="11.57" lengthAdjust="spacingAndGlyphs" stroke="#111" stroke-width="0.15">IFIT2</text>
<text x="58.40" y="452.30" font-size="6.2" textLength="12.04" lengthAdjust="spacingAndGlyphs" stroke="#111" stroke-width="0.15">SAT1</text>
<text x="107.20" y="455.00" font-size="6.2" textLength="15.70" lengthAdjust="spacingAndGlyphs" stroke="#111" stroke-width="0.15">IFITM1</text>
<text x="72.80" y="467.70" font-size="6.2" textLength="11.30" lengthAdjust="spacingAndGlyphs" stroke="#111" stroke-width="0.15">IFI35</text>
<text x="99.00" y="468.70" font-size="6.2" textLength="15.99" lengthAdjust="spacingAndGlyphs" stroke="#111" stroke-width="0.15">OAS1L</text>
<text x="103.60" y="478.10" font-size="6.2" textLength="13.23" lengthAdjust="spacingAndGlyphs" stroke="#111" stroke-width="0.15">OAS1</text>
<text x="65.00" y="481.60" font-size="6.2" textLength="11.57" lengthAdjust="spacingAndGlyphs" stroke="#111" stroke-width="0.15">IFIT3</text>
<text x="79.30" y="495.00" font-size="6.2" textLength="11.30" lengthAdjust="spacingAndGlyphs" stroke="#111" stroke-width="0.15">IFI16</text>
<text x="99.80" y="495.00" font-size="6.2" textLength="10.75" lengthAdjust="spacingAndGlyphs" stroke="#111" stroke-width="0.15">IRF7</text>
<text x="150.00" y="462.20" font-size="6.2" textLength="12.68" lengthAdjust="spacingAndGlyphs" stroke="#111" stroke-width="0.15">CD52</text>
<line x1="51.60" y1="401.00" x2="51.60" y2="521.90" stroke="#222" stroke-width="1.1"/>
<line x1="51.10" y1="521.90" x2="165.50" y2="521.90" stroke="#222" stroke-width="1.1"/>
<line x1="49.40" y1="429.20" x2="51.60" y2="429.20" stroke="#222" stroke-width="0.8"/>
<text x="48.80" y="432.20" font-size="8.4" text-anchor="end" fill="#222" stroke="#222" stroke-width="0.1">150</text>
<line x1="49.40" y1="458.50" x2="51.60" y2="458.50" stroke="#222" stroke-width="0.8"/>
<text x="48.80" y="461.50" font-size="8.4" text-anchor="end" fill="#222" stroke="#222" stroke-width="0.1">100</text>
<line x1="49.40" y1="487.60" x2="51.60" y2="487.60" stroke="#222" stroke-width="0.8"/>
<text x="48.80" y="490.60" font-size="8.4" text-anchor="end" fill="#222" stroke="#222" stroke-width="0.1">50</text>
<line x1="49.40" y1="516.90" x2="51.60" y2="516.90" stroke="#222" stroke-width="0.8"/>
<text x="48.80" y="519.90" font-size="8.4" text-anchor="end" fill="#222" stroke="#222" stroke-width="0.1">0</text>
<line x1="53.10" y1="521.90" x2="53.10" y2="524.10" stroke="#222" stroke-width="0.8"/>
<text x="51.30" y="531.90" font-size="8.4" text-anchor="middle" fill="#222" stroke="#222" stroke-width="0.1">−3</text>
<line x1="76.20" y1="521.90" x2="76.20" y2="524.10" stroke="#222" stroke-width="0.8"/>
<text x="74.40" y="531.90" font-size="8.4" text-anchor="middle" fill="#222" stroke="#222" stroke-width="0.1">−2</text>
<line x1="99.30" y1="521.90" x2="99.30" y2="524.10" stroke="#222" stroke-width="0.8"/>
<text x="97.50" y="531.90" font-size="8.4" text-anchor="middle" fill="#222" stroke="#222" stroke-width="0.1">−1</text>
<line x1="122.40" y1="521.90" x2="122.40" y2="524.10" stroke="#222" stroke-width="0.8"/>
<text x="122.40" y="531.90" font-size="8.4" text-anchor="middle" fill="#222" stroke="#222" stroke-width="0.1">0</text>
<line x1="145.50" y1="521.90" x2="145.50" y2="524.10" stroke="#222" stroke-width="0.8"/>
<text x="145.50" y="531.90" font-size="8.4" text-anchor="middle" fill="#222" stroke="#222" stroke-width="0.1">1</text>
<rect x="53.50" y="385.80" width="110.20" height="11.70" fill="#fff" stroke="#222" stroke-width="0.9"/>
<text x="108.60" y="394.50" font-size="9.6" text-anchor="middle" fill="#111" stroke="#111" stroke-width="0.3" textLength="14.5" lengthAdjust="spacingAndGlyphs">CD4<tspan font-size="6.6" dy="-3.4">+</tspan></text>
<text x="106.60" y="541.70" font-size="8.2" text-anchor="middle" fill="#222" stroke="#222" stroke-width="0.3" textLength="46" lengthAdjust="spacingAndGlyphs">average log<tspan font-size="5" dy="1.8">2</tspan><tspan dy="-1.8"> FC</tspan></text>
<line x1="237.60" y1="404.50" x2="237.60" y2="521.60" stroke="#777" stroke-width="0.7" stroke-dasharray="1 1.4"/>
<line x1="280.80" y1="404.50" x2="280.80" y2="521.60" stroke="#777" stroke-width="0.7" stroke-dasharray="1 1.4"/>
<line x1="190.80" y1="480.70" x2="304.30" y2="480.70" stroke="#777" stroke-width="0.7" stroke-dasharray="1 1.4"/>
<path d="M231.6 496.9h0 M244.0 501.0h0 M243.7 511.7h0 M244.1 504.7h0 M240.4 509.9h0 M235.8 507.6h0 M247.2 517.0h0 M236.2 508.0h0 M253.7 515.7h0 M240.7 500.1h0 M248.6 506.9h0 M241.2 509.7h0 M236.0 503.0h0 M244.7 512.4h0 M229.0 493.4h0 M253.5 514.8h0 M235.7 488.6h0 M243.7 503.1h0 M255.0 513.8h0 M240.6 508.8h0 M232.9 493.4h0 M245.0 505.1h0 M245.3 506.9h0 M241.6 501.7h0 M232.3 486.7h0 M246.0 511.9h0 M248.5 507.6h0 M239.4 504.3h0 M234.3 485.9h0 M236.8 508.1h0 M240.4 494.9h0 M239.3 504.1h0 M243.0 502.7h0 M233.4 486.8h0 M237.7 496.2h0 M250.0 511.4h0 M245.0 516.4h0 M230.1 495.1h0 M250.0 513.4h0 M230.0 487.7h0 M231.5 491.6h0 M251.7 516.3h0 M248.9 509.9h0 M230.7 497.6h0 M251.0 510.8h0 M247.1 512.6h0 M246.1 505.4h0 M245.5 506.4h0 M238.0 501.8h0 M244.1 505.0h0 M237.5 493.9h0 M248.3 509.9h0 M237.5 503.8h0 M230.7 495.8h0 M242.3 498.5h0 M239.8 504.5h0 M253.5 514.5h0 M229.5 490.6h0 M241.3 512.5h0 M233.1 491.2h0 M230.4 488.0h0 M246.4 510.8h0 M235.2 497.1h0 M232.6 487.5h0 M254.5 515.5h0 M252.8 512.1h0 M232.0 498.7h0 M244.6 509.7h0 M240.7 507.0h0 M236.7 502.2h0 M250.2 515.2h0 M248.5 513.8h0 M237.0 489.1h0 M250.3 514.8h0 M249.3 508.9h0 M238.1 490.7h0 M254.5 510.9h0 M242.1 496.7h0 M233.8 498.3h0 M241.3 507.7h0 M233.7 500.3h0 M242.3 502.5h0 M253.9 516.0h0 M233.6 503.2h0 M238.3 509.4h0 M247.8 515.0h0 M251.3 508.9h0 M231.8 495.9h0 M239.5 510.8h0 M240.6 506.4h0 M233.8 490.4h0 M232.3 495.5h0 M230.5 490.4h0 M253.5 513.2h0 M242.5 504.2h0 M239.8 505.1h0 M239.0 497.4h0 M241.6 502.2h0 M236.8 489.9h0 M231.3 499.1h0 M239.9 505.7h0 M244.6 512.3h0 M238.2 501.9h0 M233.4 497.1h0 M244.2 510.6h0 M249.5 510.2h0 M250.5 506.7h0 M245.4 514.2h0 M247.1 513.6h0 M250.2 510.8h0 M239.3 504.7h0 M239.5 507.4h0 M241.3 505.0h0 M232.3 489.4h0 M236.7 494.5h0 M237.9 489.8h0 M239.5 497.3h0 M231.3 493.8h0 M231.2 491.6h0 M231.7 492.6h0 M245.7 512.0h0 M250.1 516.9h0 M236.3 498.2h0 M236.2 495.6h0 M237.9 504.1h0 M238.7 506.7h0 M238.2 490.2h0 M238.5 491.8h0 M242.8 498.5h0 M236.3 506.9h0 M237.2 509.0h0 M248.1 510.2h0 M230.6 486.7h0 M242.7 507.1h0 M246.8 505.9h0 M241.7 510.1h0 M237.6 488.9h0 M247.0 513.7h0 M232.4 488.2h0 M242.9 500.0h0 M231.0 492.9h0 M246.2 505.3h0 M248.6 514.5h0 M253.5 510.2h0 M244.1 507.7h0 M243.2 508.1h0 M245.1 504.3h0 M232.1 498.4h0 M233.6 495.5h0 M243.3 512.0h0 M233.6 499.4h0 M231.3 487.7h0 M235.8 488.5h0 M253.0 509.1h0 M237.3 507.7h0 M235.5 491.7h0 M253.7 510.7h0 M229.1 485.7h0 M230.9 496.0h0 M244.8 513.7h0 M230.2 490.1h0 M254.2 513.9h0 M237.5 501.1h0 M235.6 495.9h0 M242.6 507.5h0 M234.3 490.8h0 M246.4 513.9h0 M252.2 510.0h0 M249.9 509.1h0 M230.6 496.1h0 M273.5 499.6h0 M263.3 513.6h0 M272.0 503.0h0 M274.1 498.2h0 M273.3 503.4h0 M271.1 510.1h0 M276.6 505.7h0 M272.4 508.2h0 M277.0 501.3h0 M275.9 506.7h0 M277.9 501.3h0 M265.4 511.0h0 M267.0 507.9h0 M271.8 515.9h0 M274.1 510.3h0 M263.1 513.9h0 M276.2 507.9h0 M268.9 499.6h0 M275.5 509.5h0 M268.6 513.4h0 M266.6 517.0h0 M275.1 506.4h0 M270.3 512.9h0 M271.5 516.5h0 M267.0 517.5h0 M268.3 501.1h0 M270.5 497.9h0 M270.4 507.3h0 M265.3 513.0h0 M268.5 501.1h0 M276.6 501.2h0 M269.1 508.8h0 M263.6 507.0h0 M275.8 504.4h0 M272.0 503.7h0 M263.6 512.5h0 M273.7 499.4h0 M272.7 501.3h0 M273.4 512.4h0 M271.5 500.1h0 M271.4 498.7h0 M275.0 514.3h0 M272.8 496.0h0 M270.2 509.0h0 M273.3 496.0h0 M267.2 505.2h0 M263.3 507.9h0 M277.7 505.2h0 M269.4 511.5h0 M272.7 510.8h0 M266.9 503.0h0 M269.3 506.8h0 M265.0 509.8h0 M274.8 514.8h0 M272.4 496.5h0 M267.7 512.3h0 M267.2 505.3h0 M269.3 502.2h0 M267.7 502.4h0 M272.4 503.0h0 M268.5 507.5h0 M273.4 516.9h0 M276.6 495.5h0 M267.7 515.9h0 M271.8 497.9h0 M266.4 507.5h0 M270.2 507.9h0 M274.6 501.3h0 M271.9 515.6h0 M267.6 509.7h0 M269.6 507.0h0 M275.7 497.9h0 M269.8 505.0h0 M265.4 515.8h0 M275.1 512.5h0 M270.9 508.9h0 M276.2 500.9h0 M275.7 510.1h0 M270.3 507.7h0 M274.2 498.0h0 M269.5 509.5h0 M269.7 509.4h0 M269.9 514.5h0 M274.9 501.2h0 M270.3 516.8h0 M269.4 499.6h0 M265.8 509.1h0 M270.8 505.1h0 M269.1 515.3h0 M275.1 513.1h0 M274.6 508.9h0 M276.6 498.7h0 M277.7 500.4h0 M275.4 508.1h0 M265.1 517.2h0 M275.2 499.4h0 M271.8 506.0h0 M269.2 503.3h0 M268.1 504.2h0 M273.9 499.2h0 M265.0 507.2h0 M269.8 505.0h0 M273.6 496.3h0 M275.3 509.8h0 M269.0 508.6h0 M270.9 514.6h0 M271.2 512.0h0 M268.0 515.5h0 M263.8 510.4h0 M265.3 516.8h0 M237.2 434.3h0 M243.2 460.4h0 M244.5 463.3h0 M243.2 467.1h0 M248.6 486.4h0 M241.2 490.7h0 M245.9 494.0h0 M251.9 499.4h0 M246.5 502.1h0 M230.4 507.5h0 M241.2 514.2h0 M272.1 475.9h0 M279.5 477.9h0 M278.8 484.6h0 M276.8 492.7h0 M269.4 498.1h0 M272.1 516.9h0 M237.2 480.0h0" stroke="#b5b5b5" stroke-width="3.00" stroke-linecap="round" fill="none"/>
<path d="M194.9 409.5h0 M204.6 413.7h0 M217.6 423.4h0 M233.0 433.1h0 M225.4 438.4h0 M217.6 445.8h0 M215.3 448.3h0 M216.4 447.0h0 M233.0 454.1h0 M220.3 462.2h0 M226.8 467.7h0 M223.8 470.3h0 M223.8 475.8h0 M226.1 476.1h0 M231.9 477.2h0 M232.6 478.4h0" stroke="#e8474c" stroke-width="3.10" stroke-linecap="round" fill="none"/>
<path d="M295.4 437.7h0 M286.8 467.7h0 M293.5 468.9h0 M282.2 475.8h0 M289.2 477.7h0 M298.9 476.1h0 M284.5 480.7h0" stroke="#000" stroke-width="3.10" stroke-linecap="round" fill="none"/>
<line x1="204.60" y1="415.00" x2="204.60" y2="421.00" stroke="#111" stroke-width="0.7"/>
<line x1="217.60" y1="422.00" x2="217.60" y2="416.50" stroke="#111" stroke-width="0.7"/>
<line x1="233.00" y1="431.80" x2="233.00" y2="427.00" stroke="#111" stroke-width="0.7"/>
<line x1="218.50" y1="445.80" x2="221.00" y2="445.80" stroke="#111" stroke-width="0.7"/>
<text x="198.20" y="407.90" font-size="6.2" textLength="8.54" lengthAdjust="spacingAndGlyphs" stroke="#111" stroke-width="0.15">IFI6</text>
<text x="198.80" y="427.50" font-size="6.2" textLength="14.06" lengthAdjust="spacingAndGlyphs" stroke="#111" stroke-width="0.15">ISG15</text>
<text x="214.80" y="416.20" font-size="6.2" textLength="14.06" lengthAdjust="spacingAndGlyphs" stroke="#111" stroke-width="0.15">ISG20</text>
<text x="227.80" y="425.90" font-size="6.2" textLength="15.70" lengthAdjust="spacingAndGlyphs" stroke="#111" stroke-width="0.15">IFITM1</text>
<text x="289.80" y="433.50" font-size="6.2" textLength="12.68" lengthAdjust="spacingAndGlyphs" stroke="#111" stroke-width="0.15">CD52</text>
<text x="221.80" y="449.00" font-size="6.2" textLength="12.04" lengthAdjust="spacingAndGlyphs" stroke="#111" stroke-width="0.15">SAT1</text>
<text x="205.60" y="455.90" font-size="6.2" textLength="10.20" lengthAdjust="spacingAndGlyphs" stroke="#111" stroke-width="0.15">MX1</text>
<text x="283.80" y="463.30" font-size="6.2" textLength="17.65" lengthAdjust="spacingAndGlyphs" stroke="#111" stroke-width="0.15">S100A4</text>
<text x="210.20" y="473.90" font-size="6.2" textLength="11.57" lengthAdjust="spacingAndGlyphs" stroke="#111" stroke-width="0.15">IFIT2</text>
<text x="226.40" y="487.10" font-size="6.2" textLength="15.99" lengthAdjust="spacingAndGlyphs" stroke="#111" stroke-width="0.15">OAS1L</text>
<line x1="190.80" y1="403.50" x2="190.80" y2="521.60" stroke="#222" stroke-width="1.1"/>
<line x1="190.30" y1="521.60" x2="304.30" y2="521.60" stroke="#222" stroke-width="1.1"/>
<line x1="188.60" y1="406.80" x2="190.80" y2="406.80" stroke="#222" stroke-width="0.8"/>
<text x="188.00" y="409.80" font-size="8.4" text-anchor="end" fill="#222" stroke="#222" stroke-width="0.1">150</text>
<line x1="188.60" y1="443.50" x2="190.80" y2="443.50" stroke="#222" stroke-width="0.8"/>
<text x="188.00" y="446.50" font-size="8.4" text-anchor="end" fill="#222" stroke="#222" stroke-width="0.1">100</text>
<line x1="188.60" y1="480.70" x2="190.80" y2="480.70" stroke="#222" stroke-width="0.8"/>
<text x="188.00" y="483.70" font-size="8.4" text-anchor="end" fill="#222" stroke="#222" stroke-width="0.1">50</text>
<line x1="188.60" y1="517.40" x2="190.80" y2="517.40" stroke="#222" stroke-width="0.8"/>
<text x="188.00" y="520.40" font-size="8.4" text-anchor="end" fill="#222" stroke="#222" stroke-width="0.1">0</text>
<line x1="194.90" y1="521.60" x2="194.90" y2="523.80" stroke="#222" stroke-width="0.8"/>
<text x="193.10" y="531.60" font-size="8.4" text-anchor="middle" fill="#222" stroke="#222" stroke-width="0.1">−3</text>
<line x1="216.20" y1="521.60" x2="216.20" y2="523.80" stroke="#222" stroke-width="0.8"/>
<text x="214.40" y="531.60" font-size="8.4" text-anchor="middle" fill="#222" stroke="#222" stroke-width="0.1">−2</text>
<line x1="237.60" y1="521.60" x2="237.60" y2="523.80" stroke="#222" stroke-width="0.8"/>
<text x="235.80" y="531.60" font-size="8.4" text-anchor="middle" fill="#222" stroke="#222" stroke-width="0.1">−1</text>
<line x1="259.60" y1="521.60" x2="259.60" y2="523.80" stroke="#222" stroke-width="0.8"/>
<text x="259.60" y="531.60" font-size="8.4" text-anchor="middle" fill="#222" stroke="#222" stroke-width="0.1">0</text>
<line x1="280.80" y1="521.60" x2="280.80" y2="523.80" stroke="#222" stroke-width="0.8"/>
<text x="280.80" y="531.60" font-size="8.4" text-anchor="middle" fill="#222" stroke="#222" stroke-width="0.1">1</text>
<line x1="301.60" y1="521.60" x2="301.60" y2="523.80" stroke="#222" stroke-width="0.8"/>
<text x="301.60" y="531.60" font-size="8.4" text-anchor="middle" fill="#222" stroke="#222" stroke-width="0.1">2</text>
<rect x="192.20" y="386.40" width="109.60" height="11.70" fill="#fff" stroke="#222" stroke-width="0.9"/>
<text x="247.00" y="395.10" font-size="9.6" text-anchor="middle" fill="#111" stroke="#111" stroke-width="0.3" textLength="14.5" lengthAdjust="spacingAndGlyphs">CD8<tspan font-size="6.6" dy="-3.4">+</tspan></text>
<text x="246.20" y="541.40" font-size="8.2" text-anchor="middle" fill="#222" stroke="#222" stroke-width="0.3" textLength="46" lengthAdjust="spacingAndGlyphs">average log<tspan font-size="5" dy="1.8">2</tspan><tspan dy="-1.8"> FC</tspan></text>
<text x="31.0" y="467.2" font-size="8.6" text-anchor="middle" fill="#222" stroke="#222" stroke-width="0.3" transform="rotate(-90 31.0 467.2)" textLength="71.5" lengthAdjust="spacingAndGlyphs">−log<tspan font-size="5" dy="1.8">10</tspan><tspan dy="-1.8"> (adjusted p-value)</tspan></text>
<text x="126.80" y="560.60" font-size="9.1" text-anchor="end" textLength="34.50" lengthAdjust="spacingAndGlyphs" stroke="#111" stroke-width="0.14">Baseline</text>
<circle cx="133.80" cy="557.50" r="2.60" fill="#e8474c"/>
<line x1="140.50" y1="557.50" x2="166.50" y2="557.50" stroke="#111" stroke-width="0.9"/>
<polygon points="138.6,557.5 142.6,555.6 142.6,559.4" fill="#111"/>
<polygon points="168.4,557.5 164.4,555.6 164.4,559.4" fill="#111"/>
<circle cx="173.00" cy="557.50" r="2.60" fill="#000"/>
<text x="179.00" y="560.60" font-size="9.1" textLength="106.90" lengthAdjust="spacingAndGlyphs" stroke="#111" stroke-width="0.14">On nivolumab (Combined)</text>
<text x="320.60" y="421.20" font-size="11.5" font-weight="bold" fill="#000" textLength="3.20" lengthAdjust="spacingAndGlyphs">I</text>
<text x="426.60" y="387.40" font-size="7.0" fill="#222" textLength="34.50" lengthAdjust="spacingAndGlyphs" stroke="#222" stroke-width="0.14">Expression</text>
<defs><linearGradient id="gexp" x1="0" x2="1" y1="0" y2="0"><stop offset="0" stop-color="#ffffff"/><stop offset="0.5" stop-color="#fbd3c8"/><stop offset="1" stop-color="#e3392a"/></linearGradient><linearGradient id="gz" x1="0" x2="1" y1="0" y2="0"><stop offset="0.00" stop-color="#27338e"/><stop offset="0.10" stop-color="#2849a4"/><stop offset="0.20" stop-color="#2a60b7"/><stop offset="0.30" stop-color="#2a77bd"/><stop offset="0.40" stop-color="#2e8cbb"/><stop offset="0.50" stop-color="#3ba1ad"/><stop offset="0.60" stop-color="#64b082"/><stop offset="0.70" stop-color="#98b455"/><stop offset="0.80" stop-color="#ceb637"/><stop offset="0.90" stop-color="#f0c422"/><stop offset="1.00" stop-color="#f8d818"/></linearGradient></defs>
<rect x="426.30" y="389.90" width="39.10" height="4.00" fill="url(#gexp)" stroke="#222" stroke-width="0.8"/>
<text x="417.80" y="402.40" font-size="7.0" fill="#222" textLength="11.40" lengthAdjust="spacingAndGlyphs" stroke="#222" stroke-width="0.14">Min</text>
<text x="471.00" y="402.40" font-size="7.0" text-anchor="end" fill="#222" textLength="13.40" lengthAdjust="spacingAndGlyphs" stroke="#222" stroke-width="0.14">Max</text>
<text x="355.30" y="411.60" font-size="9.0" fill="#222" textLength="51.50" lengthAdjust="spacingAndGlyphs" stroke="#222" stroke-width="0.3">Response Relapse</text>
<line x1="367.60" y1="412.40" x2="367.60" y2="415.90" stroke="#222" stroke-width="0.7"/>
<line x1="395.80" y1="412.40" x2="395.00" y2="415.90" stroke="#222" stroke-width="0.7"/>
<rect x="354.40" y="415.90" width="23.90" height="3.40" fill="#e9eebf"/>
<rect x="378.30" y="415.90" width="36.40" height="3.40" fill="#efefef"/>
<rect x="354.40" y="415.90" width="60.30" height="3.40" rx="1.70" fill="none" stroke="#222" stroke-width="0.9"/>
<line x1="378.30" y1="415.90" x2="378.30" y2="419.30" stroke="#222" stroke-width="0.7"/>
<rect x="341.20" y="423.00" width="12.30" height="68.00" fill="#f3cc1e"/>
<rect x="353.50" y="423.00" width="12.30" height="68.00" fill="#2a62b7"/>
<rect x="365.80" y="423.00" width="12.10" height="68.00" fill="#2a70bb"/>
<rect x="377.90" y="423.00" width="12.40" height="68.00" fill="#6eb178"/>
<rect x="390.30" y="423.00" width="11.90" height="68.00" fill="#2a7dbf"/>
<rect x="402.20" y="423.00" width="13.00" height="68.00" fill="#3299b7"/>
<rect x="341.20" y="423.00" width="12.60" height="1.118" fill="#edc223"/>
<rect x="353.50" y="423.00" width="12.60" height="1.118" fill="#27338e"/>
<rect x="365.80" y="423.00" width="12.40" height="1.118" fill="#2957b1"/>
<rect x="377.90" y="423.00" width="12.70" height="1.118" fill="#339bb6"/>
<rect x="390.30" y="423.00" width="12.20" height="1.118" fill="#2a7abe"/>
<rect x="402.20" y="423.00" width="13.30" height="1.118" fill="#3298b7"/>
<rect x="341.20" y="423.62" width="12.60" height="1.118" fill="#e8c126"/>
<rect x="353.50" y="423.62" width="12.60" height="1.118" fill="#2f91ba"/>
<rect x="365.80" y="423.62" width="12.40" height="1.118" fill="#2a73bc"/>
<rect x="377.90" y="423.62" width="12.70" height="1.118" fill="#a9b44c"/>
<rect x="390.30" y="423.62" width="12.20" height="1.118" fill="#2e8dbb"/>
<rect x="402.20" y="423.62" width="13.30" height="1.118" fill="#84b363"/>
<rect x="341.20" y="424.24" width="12.60" height="1.118" fill="#edc323"/>
<rect x="353.50" y="424.24" width="12.60" height="1.118" fill="#273691"/>
<rect x="365.80" y="424.24" width="12.40" height="1.118" fill="#2a6dba"/>
<rect x="377.90" y="424.24" width="12.70" height="1.118" fill="#57ae8e"/>
<rect x="390.30" y="424.24" width="12.20" height="1.118" fill="#2a6ebb"/>
<rect x="402.20" y="424.24" width="13.30" height="1.118" fill="#2e8dbb"/>
<rect x="341.20" y="424.85" width="12.60" height="1.118" fill="#f7d618"/>
<rect x="353.50" y="424.85" width="12.60" height="1.118" fill="#273792"/>
<rect x="365.80" y="424.85" width="12.40" height="1.118" fill="#2a71bb"/>
<rect x="377.90" y="424.85" width="12.70" height="1.118" fill="#afb449"/>
<rect x="390.30" y="424.85" width="12.20" height="1.118" fill="#2a75bd"/>
<rect x="402.20" y="424.85" width="13.30" height="1.118" fill="#69b17c"/>
<rect x="341.20" y="425.47" width="12.60" height="1.118" fill="#ccb539"/>
<rect x="353.50" y="425.47" width="12.60" height="1.118" fill="#2e8dbb"/>
<rect x="365.80" y="425.47" width="12.40" height="1.118" fill="#2a72bc"/>
<rect x="377.90" y="425.47" width="12.70" height="1.118" fill="#58af8d"/>
<rect x="390.30" y="425.47" width="12.20" height="1.118" fill="#2a75bd"/>
<rect x="402.20" y="425.47" width="13.30" height="1.118" fill="#4ca99b"/>
<rect x="341.20" y="426.09" width="12.60" height="1.118" fill="#f5d21a"/>
<rect x="353.50" y="426.09" width="12.60" height="1.118" fill="#2a5fb6"/>
<rect x="365.80" y="426.09" width="12.40" height="1.118" fill="#2958b3"/>
<rect x="377.90" y="426.09" width="12.70" height="1.118" fill="#70b176"/>
<rect x="390.30" y="426.09" width="12.20" height="1.118" fill="#2a66b8"/>
<rect x="402.20" y="426.09" width="13.30" height="1.118" fill="#2a82bf"/>
<rect x="341.20" y="426.71" width="12.60" height="1.118" fill="#f5d01b"/>
<rect x="353.50" y="426.71" width="12.60" height="1.118" fill="#2d8bbc"/>
<rect x="365.80" y="426.71" width="12.40" height="1.118" fill="#2c87bd"/>
<rect x="377.90" y="426.71" width="12.70" height="1.118" fill="#a3b44f"/>
<rect x="390.30" y="426.71" width="12.20" height="1.118" fill="#2c88bd"/>
<rect x="402.20" y="426.71" width="13.30" height="1.118" fill="#88b35f"/>
<rect x="341.20" y="427.33" width="12.60" height="1.118" fill="#f2c91f"/>
<rect x="353.50" y="427.33" width="12.60" height="1.118" fill="#2956b0"/>
<rect x="365.80" y="427.33" width="12.40" height="1.118" fill="#2a78be"/>
<rect x="377.90" y="427.33" width="12.70" height="1.118" fill="#6db179"/>
<rect x="390.30" y="427.33" width="12.20" height="1.118" fill="#3094b9"/>
<rect x="402.20" y="427.33" width="13.30" height="1.118" fill="#2d8bbc"/>
<rect x="341.20" y="427.95" width="12.60" height="1.118" fill="#e6c028"/>
<rect x="353.50" y="427.95" width="12.60" height="1.118" fill="#2b85be"/>
<rect x="365.80" y="427.95" width="12.40" height="1.118" fill="#2a7ebf"/>
<rect x="377.90" y="427.95" width="12.70" height="1.118" fill="#5cb089"/>
<rect x="390.30" y="427.95" width="12.20" height="1.118" fill="#2957b1"/>
<rect x="402.20" y="427.95" width="13.30" height="1.118" fill="#92b458"/>
<rect x="341.20" y="428.56" width="12.60" height="1.118" fill="#f1c81f"/>
<rect x="353.50" y="428.56" width="12.60" height="1.118" fill="#2a72bc"/>
<rect x="365.80" y="428.56" width="12.40" height="1.118" fill="#2a76bd"/>
<rect x="377.90" y="428.56" width="12.70" height="1.118" fill="#56ae8f"/>
<rect x="390.30" y="428.56" width="12.20" height="1.118" fill="#2d89bc"/>
<rect x="402.20" y="428.56" width="13.30" height="1.118" fill="#3195b8"/>
<rect x="341.20" y="429.18" width="12.60" height="1.118" fill="#f1c81f"/>
<rect x="353.50" y="429.18" width="12.60" height="1.118" fill="#2846a0"/>
<rect x="365.80" y="429.18" width="12.40" height="1.118" fill="#2a6fbb"/>
<rect x="377.90" y="429.18" width="12.70" height="1.118" fill="#81b365"/>
<rect x="390.30" y="429.18" width="12.20" height="1.118" fill="#2a74bc"/>
<rect x="402.20" y="429.18" width="13.30" height="1.118" fill="#2d8bbc"/>
<rect x="341.20" y="429.80" width="12.60" height="1.118" fill="#ebc224"/>
<rect x="353.50" y="429.80" width="12.60" height="1.118" fill="#2952ac"/>
<rect x="365.80" y="429.80" width="12.40" height="1.118" fill="#2a6bba"/>
<rect x="377.90" y="429.80" width="12.70" height="1.118" fill="#5db088"/>
<rect x="390.30" y="429.80" width="12.20" height="1.118" fill="#2a5fb7"/>
<rect x="402.20" y="429.80" width="13.30" height="1.118" fill="#69b17d"/>
<rect x="341.20" y="430.42" width="12.60" height="1.118" fill="#f0c521"/>
<rect x="353.50" y="430.42" width="12.60" height="1.118" fill="#2a71bb"/>
<rect x="365.80" y="430.42" width="12.40" height="1.118" fill="#2957b1"/>
<rect x="377.90" y="430.42" width="12.70" height="1.118" fill="#8cb45b"/>
<rect x="390.30" y="430.42" width="12.20" height="1.118" fill="#2a64b8"/>
<rect x="402.20" y="430.42" width="13.30" height="1.118" fill="#2e8cbb"/>
<rect x="341.20" y="431.04" width="12.60" height="1.118" fill="#f2cb1e"/>
<rect x="353.50" y="431.04" width="12.60" height="1.118" fill="#2c86bd"/>
<rect x="365.80" y="431.04" width="12.40" height="1.118" fill="#2a64b8"/>
<rect x="377.90" y="431.04" width="12.70" height="1.118" fill="#8bb35c"/>
<rect x="390.30" y="431.04" width="12.20" height="1.118" fill="#2e8cbb"/>
<rect x="402.20" y="431.04" width="13.30" height="1.118" fill="#62b083"/>
<rect x="341.20" y="431.65" width="12.60" height="1.118" fill="#f4d01b"/>
<rect x="353.50" y="431.65" width="12.60" height="1.118" fill="#2a76bd"/>
<rect x="365.80" y="431.65" width="12.40" height="1.118" fill="#2a66b8"/>
<rect x="377.90" y="431.65" width="12.70" height="1.118" fill="#54ad92"/>
<rect x="390.30" y="431.65" width="12.20" height="1.118" fill="#2a79be"/>
<rect x="402.20" y="431.65" width="13.30" height="1.118" fill="#349eb5"/>
<rect x="341.20" y="432.27" width="12.60" height="1.118" fill="#f5d11b"/>
<rect x="353.50" y="432.27" width="12.60" height="1.118" fill="#2a69b9"/>
<rect x="365.80" y="432.27" width="12.40" height="1.118" fill="#2a65b8"/>
<rect x="377.90" y="432.27" width="12.70" height="1.118" fill="#a4b44e"/>
<rect x="390.30" y="432.27" width="12.20" height="1.118" fill="#2d8bbc"/>
<rect x="402.20" y="432.27" width="13.30" height="1.118" fill="#2a78be"/>
<rect x="341.20" y="432.89" width="12.60" height="1.118" fill="#edc223"/>
<rect x="353.50" y="432.89" width="12.60" height="1.118" fill="#27338e"/>
<rect x="365.80" y="432.89" width="12.40" height="1.118" fill="#2a6cba"/>
<rect x="377.90" y="432.89" width="12.70" height="1.118" fill="#60b085"/>
<rect x="390.30" y="432.89" width="12.20" height="1.118" fill="#2a75bd"/>
<rect x="402.20" y="432.89" width="13.30" height="1.118" fill="#49a89e"/>
<rect x="341.20" y="433.51" width="12.60" height="1.118" fill="#f8d818"/>
<rect x="353.50" y="433.51" width="12.60" height="1.118" fill="#2a6dba"/>
<rect x="365.80" y="433.51" width="12.40" height="1.118" fill="#2951ab"/>
<rect x="377.90" y="433.51" width="12.70" height="1.118" fill="#6eb177"/>
<rect x="390.30" y="433.51" width="12.20" height="1.118" fill="#3ca1ad"/>
<rect x="402.20" y="433.51" width="13.30" height="1.118" fill="#329ab7"/>
<rect x="341.20" y="434.13" width="12.60" height="1.118" fill="#f1c81f"/>
<rect x="353.50" y="434.13" width="12.60" height="1.118" fill="#2a5fb6"/>
<rect x="365.80" y="434.13" width="12.40" height="1.118" fill="#284ba5"/>
<rect x="377.90" y="434.13" width="12.70" height="1.118" fill="#86b361"/>
<rect x="390.30" y="434.13" width="12.20" height="1.118" fill="#3094b9"/>
<rect x="402.20" y="434.13" width="13.30" height="1.118" fill="#369fb3"/>
<rect x="341.20" y="434.75" width="12.60" height="1.118" fill="#f5d21a"/>
<rect x="353.50" y="434.75" width="12.60" height="1.118" fill="#2957b2"/>
<rect x="365.80" y="434.75" width="12.40" height="1.118" fill="#2a71bc"/>
<rect x="377.90" y="434.75" width="12.70" height="1.118" fill="#7fb268"/>
<rect x="390.30" y="434.75" width="12.20" height="1.118" fill="#2959b3"/>
<rect x="402.20" y="434.75" width="13.30" height="1.118" fill="#41a4a6"/>
<rect x="341.20" y="435.36" width="12.60" height="1.118" fill="#f3cc1d"/>
<rect x="353.50" y="435.36" width="12.60" height="1.118" fill="#2a6aba"/>
<rect x="365.80" y="435.36" width="12.40" height="1.118" fill="#2959b3"/>
<rect x="377.90" y="435.36" width="12.70" height="1.118" fill="#66b17f"/>
<rect x="390.30" y="435.36" width="12.20" height="1.118" fill="#2a78bd"/>
<rect x="402.20" y="435.36" width="13.30" height="1.118" fill="#3298b7"/>
<rect x="341.20" y="435.98" width="12.60" height="1.118" fill="#f6d519"/>
<rect x="353.50" y="435.98" width="12.60" height="1.118" fill="#2a82bf"/>
<rect x="365.80" y="435.98" width="12.40" height="1.118" fill="#2c86bd"/>
<rect x="377.90" y="435.98" width="12.70" height="1.118" fill="#51ac94"/>
<rect x="390.30" y="435.98" width="12.20" height="1.118" fill="#2a6ab9"/>
<rect x="402.20" y="435.98" width="13.30" height="1.118" fill="#2d8bbc"/>
<rect x="341.20" y="436.60" width="12.60" height="1.118" fill="#f5d21a"/>
<rect x="353.50" y="436.60" width="12.60" height="1.118" fill="#2a60b7"/>
<rect x="365.80" y="436.60" width="12.40" height="1.118" fill="#2d8abc"/>
<rect x="377.90" y="436.60" width="12.70" height="1.118" fill="#6bb17a"/>
<rect x="390.30" y="436.60" width="12.20" height="1.118" fill="#2a6aba"/>
<rect x="402.20" y="436.60" width="13.30" height="1.118" fill="#2c87bd"/>
<rect x="341.20" y="437.22" width="12.60" height="1.118" fill="#f4cf1c"/>
<rect x="353.50" y="437.22" width="12.60" height="1.118" fill="#2847a1"/>
<rect x="365.80" y="437.22" width="12.40" height="1.118" fill="#2a65b8"/>
<rect x="377.90" y="437.22" width="12.70" height="1.118" fill="#a4b44e"/>
<rect x="390.30" y="437.22" width="12.20" height="1.118" fill="#2a80bf"/>
<rect x="402.20" y="437.22" width="13.30" height="1.118" fill="#3299b7"/>
<rect x="341.20" y="437.84" width="12.60" height="1.118" fill="#f4ce1c"/>
<rect x="353.50" y="437.84" width="12.60" height="1.118" fill="#27338e"/>
<rect x="365.80" y="437.84" width="12.40" height="1.118" fill="#273691"/>
<rect x="377.90" y="437.84" width="12.70" height="1.118" fill="#80b366"/>
<rect x="390.30" y="437.84" width="12.20" height="1.118" fill="#2a75bc"/>
<rect x="402.20" y="437.84" width="13.30" height="1.118" fill="#58af8d"/>
<rect x="341.20" y="438.45" width="12.60" height="1.118" fill="#f4ce1c"/>
<rect x="353.50" y="438.45" width="12.60" height="1.118" fill="#2956b0"/>
<rect x="365.80" y="438.45" width="12.40" height="1.118" fill="#2a6cba"/>
<rect x="377.90" y="438.45" width="12.70" height="1.118" fill="#c4b43e"/>
<rect x="390.30" y="438.45" width="12.20" height="1.118" fill="#2a60b7"/>
<rect x="402.20" y="438.45" width="13.30" height="1.118" fill="#2d8abc"/>
<rect x="341.20" y="439.07" width="12.60" height="1.118" fill="#f0c421"/>
<rect x="353.50" y="439.07" width="12.60" height="1.118" fill="#2a78be"/>
<rect x="365.80" y="439.07" width="12.40" height="1.118" fill="#3094b9"/>
<rect x="377.90" y="439.07" width="12.70" height="1.118" fill="#a9b44c"/>
<rect x="390.30" y="439.07" width="12.20" height="1.118" fill="#2f91ba"/>
<rect x="402.20" y="439.07" width="13.30" height="1.118" fill="#7db269"/>
<rect x="341.20" y="439.69" width="12.60" height="1.118" fill="#f8d818"/>
<rect x="353.50" y="439.69" width="12.60" height="1.118" fill="#2a63b8"/>
<rect x="365.80" y="439.69" width="12.40" height="1.118" fill="#2a72bc"/>
<rect x="377.90" y="439.69" width="12.70" height="1.118" fill="#b0b448"/>
<rect x="390.30" y="439.69" width="12.20" height="1.118" fill="#2a72bc"/>
<rect x="402.20" y="439.69" width="13.30" height="1.118" fill="#3197b8"/>
<rect x="341.20" y="440.31" width="12.60" height="1.118" fill="#f4cf1c"/>
<rect x="353.50" y="440.31" width="12.60" height="1.118" fill="#273994"/>
<rect x="365.80" y="440.31" width="12.40" height="1.118" fill="#2a5fb6"/>
<rect x="377.90" y="440.31" width="12.70" height="1.118" fill="#339cb6"/>
<rect x="390.30" y="440.31" width="12.20" height="1.118" fill="#2a5eb6"/>
<rect x="402.20" y="440.31" width="13.30" height="1.118" fill="#2b83be"/>
<rect x="341.20" y="440.93" width="12.60" height="1.118" fill="#f3cd1d"/>
<rect x="353.50" y="440.93" width="12.60" height="1.118" fill="#2a66b9"/>
<rect x="365.80" y="440.93" width="12.40" height="1.118" fill="#2a71bc"/>
<rect x="377.90" y="440.93" width="12.70" height="1.118" fill="#84b362"/>
<rect x="390.30" y="440.93" width="12.20" height="1.118" fill="#339bb6"/>
<rect x="402.20" y="440.93" width="13.30" height="1.118" fill="#3093b9"/>
<rect x="341.20" y="441.55" width="12.60" height="1.118" fill="#f4ce1c"/>
<rect x="353.50" y="441.55" width="12.60" height="1.118" fill="#2a65b8"/>
<rect x="365.80" y="441.55" width="12.40" height="1.118" fill="#2a70bb"/>
<rect x="377.90" y="441.55" width="12.70" height="1.118" fill="#acb44a"/>
<rect x="390.30" y="441.55" width="12.20" height="1.118" fill="#2d8abc"/>
<rect x="402.20" y="441.55" width="13.30" height="1.118" fill="#60b085"/>
<rect x="341.20" y="442.16" width="12.60" height="1.118" fill="#f2cb1e"/>
<rect x="353.50" y="442.16" width="12.60" height="1.118" fill="#284ba6"/>
<rect x="365.80" y="442.16" width="12.40" height="1.118" fill="#2a67b9"/>
<rect x="377.90" y="442.16" width="12.70" height="1.118" fill="#aeb449"/>
<rect x="390.30" y="442.16" width="12.20" height="1.118" fill="#2a6cba"/>
<rect x="402.20" y="442.16" width="13.30" height="1.118" fill="#3ea3a9"/>
<rect x="341.20" y="442.78" width="12.60" height="1.118" fill="#f2ca1e"/>
<rect x="353.50" y="442.78" width="12.60" height="1.118" fill="#2a69b9"/>
<rect x="365.80" y="442.78" width="12.40" height="1.118" fill="#2a6dba"/>
<rect x="377.90" y="442.78" width="12.70" height="1.118" fill="#b6b445"/>
<rect x="390.30" y="442.78" width="12.20" height="1.118" fill="#2b85be"/>
<rect x="402.20" y="442.78" width="13.30" height="1.118" fill="#81b366"/>
<rect x="341.20" y="443.40" width="12.60" height="1.118" fill="#f3cd1d"/>
<rect x="353.50" y="443.40" width="12.60" height="1.118" fill="#2a7abe"/>
<rect x="365.80" y="443.40" width="12.40" height="1.118" fill="#2a68b9"/>
<rect x="377.90" y="443.40" width="12.70" height="1.118" fill="#a6b44d"/>
<rect x="390.30" y="443.40" width="12.20" height="1.118" fill="#2a5fb6"/>
<rect x="402.20" y="443.40" width="13.30" height="1.118" fill="#2c86bd"/>
<rect x="341.20" y="444.02" width="12.60" height="1.118" fill="#ebc225"/>
<rect x="353.50" y="444.02" width="12.60" height="1.118" fill="#284da7"/>
<rect x="365.80" y="444.02" width="12.40" height="1.118" fill="#284aa4"/>
<rect x="377.90" y="444.02" width="12.70" height="1.118" fill="#54ad92"/>
<rect x="390.30" y="444.02" width="12.20" height="1.118" fill="#2a5fb6"/>
<rect x="402.20" y="444.02" width="13.30" height="1.118" fill="#2d8abc"/>
<rect x="341.20" y="444.64" width="12.60" height="1.118" fill="#f0c521"/>
<rect x="353.50" y="444.64" width="12.60" height="1.118" fill="#2953ad"/>
<rect x="365.80" y="444.64" width="12.40" height="1.118" fill="#2952ac"/>
<rect x="377.90" y="444.64" width="12.70" height="1.118" fill="#4aa89d"/>
<rect x="390.30" y="444.64" width="12.20" height="1.118" fill="#2a82bf"/>
<rect x="402.20" y="444.64" width="13.30" height="1.118" fill="#2d8abc"/>
<rect x="341.20" y="445.25" width="12.60" height="1.118" fill="#f4ce1c"/>
<rect x="353.50" y="445.25" width="12.60" height="1.118" fill="#2b83be"/>
<rect x="365.80" y="445.25" width="12.40" height="1.118" fill="#2d8bbc"/>
<rect x="377.90" y="445.25" width="12.70" height="1.118" fill="#b9b443"/>
<rect x="390.30" y="445.25" width="12.20" height="1.118" fill="#6eb178"/>
<rect x="402.20" y="445.25" width="13.30" height="1.118" fill="#6bb17a"/>
<rect x="341.20" y="445.87" width="12.60" height="1.118" fill="#f0c421"/>
<rect x="353.50" y="445.87" width="12.60" height="1.118" fill="#2a73bc"/>
<rect x="365.80" y="445.87" width="12.40" height="1.118" fill="#2a73bc"/>
<rect x="377.90" y="445.87" width="12.70" height="1.118" fill="#79b26d"/>
<rect x="390.30" y="445.87" width="12.20" height="1.118" fill="#2a79be"/>
<rect x="402.20" y="445.87" width="13.30" height="1.118" fill="#2d8abc"/>
<rect x="341.20" y="446.49" width="12.60" height="1.118" fill="#f1c81f"/>
<rect x="353.50" y="446.49" width="12.60" height="1.118" fill="#2a63b8"/>
<rect x="365.80" y="446.49" width="12.40" height="1.118" fill="#2a67b9"/>
<rect x="377.90" y="446.49" width="12.70" height="1.118" fill="#379fb1"/>
<rect x="390.30" y="446.49" width="12.20" height="1.118" fill="#2f8fba"/>
<rect x="402.20" y="446.49" width="13.30" height="1.118" fill="#3ca2ac"/>
<rect x="341.20" y="447.11" width="12.60" height="1.118" fill="#f4d01b"/>
<rect x="353.50" y="447.11" width="12.60" height="1.118" fill="#2a5eb6"/>
<rect x="365.80" y="447.11" width="12.40" height="1.118" fill="#2a77bd"/>
<rect x="377.90" y="447.11" width="12.70" height="1.118" fill="#69b17d"/>
<rect x="390.30" y="447.11" width="12.20" height="1.118" fill="#2a7fbf"/>
<rect x="402.20" y="447.11" width="13.30" height="1.118" fill="#2a77bd"/>
<rect x="341.20" y="447.73" width="12.60" height="1.118" fill="#ebc224"/>
<rect x="353.50" y="447.73" width="12.60" height="1.118" fill="#2955af"/>
<rect x="365.80" y="447.73" width="12.40" height="1.118" fill="#2a61b7"/>
<rect x="377.90" y="447.73" width="12.70" height="1.118" fill="#39a0af"/>
<rect x="390.30" y="447.73" width="12.20" height="1.118" fill="#2a7ebf"/>
<rect x="402.20" y="447.73" width="13.30" height="1.118" fill="#2e8dbb"/>
<rect x="341.20" y="448.35" width="12.60" height="1.118" fill="#f2ca1e"/>
<rect x="353.50" y="448.35" width="12.60" height="1.118" fill="#28449f"/>
<rect x="365.80" y="448.35" width="12.40" height="1.118" fill="#2a73bc"/>
<rect x="377.90" y="448.35" width="12.70" height="1.118" fill="#7cb26b"/>
<rect x="390.30" y="448.35" width="12.20" height="1.118" fill="#2d8abc"/>
<rect x="402.20" y="448.35" width="13.30" height="1.118" fill="#3298b7"/>
<rect x="341.20" y="448.96" width="12.60" height="1.118" fill="#f5d11b"/>
<rect x="353.50" y="448.96" width="12.60" height="1.118" fill="#2a6bba"/>
<rect x="365.80" y="448.96" width="12.40" height="1.118" fill="#295ab4"/>
<rect x="377.90" y="448.96" width="12.70" height="1.118" fill="#8eb45a"/>
<rect x="390.30" y="448.96" width="12.20" height="1.118" fill="#46a6a1"/>
<rect x="402.20" y="448.96" width="13.30" height="1.118" fill="#339cb6"/>
<rect x="341.20" y="449.58" width="12.60" height="1.118" fill="#f3cd1d"/>
<rect x="353.50" y="449.58" width="12.60" height="1.118" fill="#2a5cb6"/>
<rect x="365.80" y="449.58" width="12.40" height="1.118" fill="#2a75bd"/>
<rect x="377.90" y="449.58" width="12.70" height="1.118" fill="#3fa3a9"/>
<rect x="390.30" y="449.58" width="12.20" height="1.118" fill="#2a77bd"/>
<rect x="402.20" y="449.58" width="13.30" height="1.118" fill="#2a80bf"/>
<rect x="341.20" y="450.20" width="12.60" height="1.118" fill="#f5d21a"/>
<rect x="353.50" y="450.20" width="12.60" height="1.118" fill="#2a73bc"/>
<rect x="365.80" y="450.20" width="12.40" height="1.118" fill="#2a68b9"/>
<rect x="377.90" y="450.20" width="12.70" height="1.118" fill="#39a0af"/>
<rect x="390.30" y="450.20" width="12.20" height="1.118" fill="#2c88bd"/>
<rect x="402.20" y="450.20" width="13.30" height="1.118" fill="#3195b8"/>
<rect x="341.20" y="450.82" width="12.60" height="1.118" fill="#ecc224"/>
<rect x="353.50" y="450.82" width="12.60" height="1.118" fill="#2a6bba"/>
<rect x="365.80" y="450.82" width="12.40" height="1.118" fill="#2c88bd"/>
<rect x="377.90" y="450.82" width="12.70" height="1.118" fill="#66b17f"/>
<rect x="390.30" y="450.82" width="12.20" height="1.118" fill="#4aa89d"/>
<rect x="402.20" y="450.82" width="13.30" height="1.118" fill="#4ba99c"/>
<rect x="341.20" y="451.44" width="12.60" height="1.118" fill="#e7c027"/>
<rect x="353.50" y="451.44" width="12.60" height="1.118" fill="#2a73bc"/>
<rect x="365.80" y="451.44" width="12.40" height="1.118" fill="#2d8bbc"/>
<rect x="377.90" y="451.44" width="12.70" height="1.118" fill="#71b175"/>
<rect x="390.30" y="451.44" width="12.20" height="1.118" fill="#2b84be"/>
<rect x="402.20" y="451.44" width="13.30" height="1.118" fill="#50ab96"/>
<rect x="341.20" y="452.05" width="12.60" height="1.118" fill="#f0c421"/>
<rect x="353.50" y="452.05" width="12.60" height="1.118" fill="#2957b1"/>
<rect x="365.80" y="452.05" width="12.40" height="1.118" fill="#2a71bb"/>
<rect x="377.90" y="452.05" width="12.70" height="1.118" fill="#93b458"/>
<rect x="390.30" y="452.05" width="12.20" height="1.118" fill="#2a61b7"/>
<rect x="402.20" y="452.05" width="13.30" height="1.118" fill="#339cb6"/>
<rect x="341.20" y="452.67" width="12.60" height="1.118" fill="#f3cc1d"/>
<rect x="353.50" y="452.67" width="12.60" height="1.118" fill="#2a72bc"/>
<rect x="365.80" y="452.67" width="12.40" height="1.118" fill="#2f90ba"/>
<rect x="377.90" y="452.67" width="12.70" height="1.118" fill="#9ab454"/>
<rect x="390.30" y="452.67" width="12.20" height="1.118" fill="#2c86bd"/>
<rect x="402.20" y="452.67" width="13.30" height="1.118" fill="#45a6a2"/>
<rect x="341.20" y="453.29" width="12.60" height="1.118" fill="#f2cb1e"/>
<rect x="353.50" y="453.29" width="12.60" height="1.118" fill="#2846a0"/>
<rect x="365.80" y="453.29" width="12.40" height="1.118" fill="#2a61b7"/>
<rect x="377.90" y="453.29" width="12.70" height="1.118" fill="#63b083"/>
<rect x="390.30" y="453.29" width="12.20" height="1.118" fill="#3196b8"/>
<rect x="402.20" y="453.29" width="13.30" height="1.118" fill="#2a7ebf"/>
<rect x="341.20" y="453.91" width="12.60" height="1.118" fill="#f4ce1c"/>
<rect x="353.50" y="453.91" width="12.60" height="1.118" fill="#2a7bbe"/>
<rect x="365.80" y="453.91" width="12.40" height="1.118" fill="#2a65b8"/>
<rect x="377.90" y="453.91" width="12.70" height="1.118" fill="#57ae8f"/>
<rect x="390.30" y="453.91" width="12.20" height="1.118" fill="#2a6bba"/>
<rect x="402.20" y="453.91" width="13.30" height="1.118" fill="#2a81bf"/>
<rect x="341.20" y="454.53" width="12.60" height="1.118" fill="#f8d818"/>
<rect x="353.50" y="454.53" width="12.60" height="1.118" fill="#2a63b8"/>
<rect x="365.80" y="454.53" width="12.40" height="1.118" fill="#2a66b8"/>
<rect x="377.90" y="454.53" width="12.70" height="1.118" fill="#81b365"/>
<rect x="390.30" y="454.53" width="12.20" height="1.118" fill="#3196b8"/>
<rect x="402.20" y="454.53" width="13.30" height="1.118" fill="#3da2ab"/>
<rect x="341.20" y="455.15" width="12.60" height="1.118" fill="#eac125"/>
<rect x="353.50" y="455.15" width="12.60" height="1.118" fill="#2a66b8"/>
<rect x="365.80" y="455.15" width="12.40" height="1.118" fill="#2a6ab9"/>
<rect x="377.90" y="455.15" width="12.70" height="1.118" fill="#66b080"/>
<rect x="390.30" y="455.15" width="12.20" height="1.118" fill="#2a68b9"/>
<rect x="402.20" y="455.15" width="13.30" height="1.118" fill="#2e8dbb"/>
<rect x="341.20" y="455.76" width="12.60" height="1.118" fill="#f5d01b"/>
<rect x="353.50" y="455.76" width="12.60" height="1.118" fill="#2a76bd"/>
<rect x="365.80" y="455.76" width="12.40" height="1.118" fill="#2b85be"/>
<rect x="377.90" y="455.76" width="12.70" height="1.118" fill="#b8b444"/>
<rect x="390.30" y="455.76" width="12.20" height="1.118" fill="#2c86bd"/>
<rect x="402.20" y="455.76" width="13.30" height="1.118" fill="#5eb087"/>
<rect x="341.20" y="456.38" width="12.60" height="1.118" fill="#e2be2a"/>
<rect x="353.50" y="456.38" width="12.60" height="1.118" fill="#2956b0"/>
<rect x="365.80" y="456.38" width="12.40" height="1.118" fill="#2b83be"/>
<rect x="377.90" y="456.38" width="12.70" height="1.118" fill="#43a5a4"/>
<rect x="390.30" y="456.38" width="12.20" height="1.118" fill="#2a7fbf"/>
<rect x="402.20" y="456.38" width="13.30" height="1.118" fill="#2a7dbf"/>
<rect x="341.20" y="457.00" width="12.60" height="1.118" fill="#f0c421"/>
<rect x="353.50" y="457.00" width="12.60" height="1.118" fill="#2a64b8"/>
<rect x="365.80" y="457.00" width="12.40" height="1.118" fill="#2c86bd"/>
<rect x="377.90" y="457.00" width="12.70" height="1.118" fill="#51ab95"/>
<rect x="390.30" y="457.00" width="12.20" height="1.118" fill="#2a77bd"/>
<rect x="402.20" y="457.00" width="13.30" height="1.118" fill="#89b35e"/>
<rect x="341.20" y="457.62" width="12.60" height="1.118" fill="#f1c620"/>
<rect x="353.50" y="457.62" width="12.60" height="1.118" fill="#2954ae"/>
<rect x="365.80" y="457.62" width="12.40" height="1.118" fill="#2a7bbe"/>
<rect x="377.90" y="457.62" width="12.70" height="1.118" fill="#61b084"/>
<rect x="390.30" y="457.62" width="12.20" height="1.118" fill="#2a71bc"/>
<rect x="402.20" y="457.62" width="13.30" height="1.118" fill="#3fa3a9"/>
<rect x="341.20" y="458.24" width="12.60" height="1.118" fill="#f4cf1c"/>
<rect x="353.50" y="458.24" width="12.60" height="1.118" fill="#2a70bb"/>
<rect x="365.80" y="458.24" width="12.40" height="1.118" fill="#2a81bf"/>
<rect x="377.90" y="458.24" width="12.70" height="1.118" fill="#5ab08b"/>
<rect x="390.30" y="458.24" width="12.20" height="1.118" fill="#2a7abe"/>
<rect x="402.20" y="458.24" width="13.30" height="1.118" fill="#2e8ebb"/>
<rect x="341.20" y="458.85" width="12.60" height="1.118" fill="#f0c521"/>
<rect x="353.50" y="458.85" width="12.60" height="1.118" fill="#284da7"/>
<rect x="365.80" y="458.85" width="12.40" height="1.118" fill="#2950ab"/>
<rect x="377.90" y="458.85" width="12.70" height="1.118" fill="#71b175"/>
<rect x="390.30" y="458.85" width="12.20" height="1.118" fill="#2a78bd"/>
<rect x="402.20" y="458.85" width="13.30" height="1.118" fill="#59af8c"/>
<rect x="341.20" y="459.47" width="12.60" height="1.118" fill="#f3cd1d"/>
<rect x="353.50" y="459.47" width="12.60" height="1.118" fill="#2a7fbf"/>
<rect x="365.80" y="459.47" width="12.40" height="1.118" fill="#2f90ba"/>
<rect x="377.90" y="459.47" width="12.70" height="1.118" fill="#8bb35c"/>
<rect x="390.30" y="459.47" width="12.20" height="1.118" fill="#2a6bba"/>
<rect x="402.20" y="459.47" width="13.30" height="1.118" fill="#3fa3a8"/>
<rect x="341.20" y="460.09" width="12.60" height="1.118" fill="#ecc224"/>
<rect x="353.50" y="460.09" width="12.60" height="1.118" fill="#2a7fbf"/>
<rect x="365.80" y="460.09" width="12.40" height="1.118" fill="#2a7abe"/>
<rect x="377.90" y="460.09" width="12.70" height="1.118" fill="#86b361"/>
<rect x="390.30" y="460.09" width="12.20" height="1.118" fill="#3da2aa"/>
<rect x="402.20" y="460.09" width="13.30" height="1.118" fill="#7eb269"/>
<rect x="341.20" y="460.71" width="12.60" height="1.118" fill="#f5d11b"/>
<rect x="353.50" y="460.71" width="12.60" height="1.118" fill="#2a76bd"/>
<rect x="365.80" y="460.71" width="12.40" height="1.118" fill="#2a6bba"/>
<rect x="377.90" y="460.71" width="12.70" height="1.118" fill="#55ad91"/>
<rect x="390.30" y="460.71" width="12.20" height="1.118" fill="#2e8dbb"/>
<rect x="402.20" y="460.71" width="13.30" height="1.118" fill="#3299b7"/>
<rect x="341.20" y="461.33" width="12.60" height="1.118" fill="#f3cd1d"/>
<rect x="353.50" y="461.33" width="12.60" height="1.118" fill="#2a72bc"/>
<rect x="365.80" y="461.33" width="12.40" height="1.118" fill="#2a6aba"/>
<rect x="377.90" y="461.33" width="12.70" height="1.118" fill="#6eb178"/>
<rect x="390.30" y="461.33" width="12.20" height="1.118" fill="#2d8abc"/>
<rect x="402.20" y="461.33" width="13.30" height="1.118" fill="#2a81bf"/>
<rect x="341.20" y="461.95" width="12.60" height="1.118" fill="#f1c81f"/>
<rect x="353.50" y="461.95" width="12.60" height="1.118" fill="#2a5eb6"/>
<rect x="365.80" y="461.95" width="12.40" height="1.118" fill="#2a69b9"/>
<rect x="377.90" y="461.95" width="12.70" height="1.118" fill="#81b366"/>
<rect x="390.30" y="461.95" width="12.20" height="1.118" fill="#2a74bc"/>
<rect x="402.20" y="461.95" width="13.30" height="1.118" fill="#2a79be"/>
<rect x="341.20" y="462.56" width="12.60" height="1.118" fill="#f5d11b"/>
<rect x="353.50" y="462.56" width="12.60" height="1.118" fill="#2a67b9"/>
<rect x="365.80" y="462.56" width="12.40" height="1.118" fill="#2a6ebb"/>
<rect x="377.90" y="462.56" width="12.70" height="1.118" fill="#45a6a3"/>
<rect x="390.30" y="462.56" width="12.20" height="1.118" fill="#2a81bf"/>
<rect x="402.20" y="462.56" width="13.30" height="1.118" fill="#329ab7"/>
<rect x="341.20" y="463.18" width="12.60" height="1.118" fill="#f3cc1d"/>
<rect x="353.50" y="463.18" width="12.60" height="1.118" fill="#2a73bc"/>
<rect x="365.80" y="463.18" width="12.40" height="1.118" fill="#2a7fbf"/>
<rect x="377.90" y="463.18" width="12.70" height="1.118" fill="#99b454"/>
<rect x="390.30" y="463.18" width="12.20" height="1.118" fill="#369fb3"/>
<rect x="402.20" y="463.18" width="13.30" height="1.118" fill="#2d8abc"/>
<rect x="341.20" y="463.80" width="12.60" height="1.118" fill="#dcbc2e"/>
<rect x="353.50" y="463.80" width="12.60" height="1.118" fill="#28459f"/>
<rect x="365.80" y="463.80" width="12.40" height="1.118" fill="#2a76bd"/>
<rect x="377.90" y="463.80" width="12.70" height="1.118" fill="#53ad92"/>
<rect x="390.30" y="463.80" width="12.20" height="1.118" fill="#2a6ebb"/>
<rect x="402.20" y="463.80" width="13.30" height="1.118" fill="#3197b8"/>
<rect x="341.20" y="464.42" width="12.60" height="1.118" fill="#efc322"/>
<rect x="353.50" y="464.42" width="12.60" height="1.118" fill="#2a5cb6"/>
<rect x="365.80" y="464.42" width="12.40" height="1.118" fill="#2958b2"/>
<rect x="377.90" y="464.42" width="12.70" height="1.118" fill="#8ab35d"/>
<rect x="390.30" y="464.42" width="12.20" height="1.118" fill="#3093b9"/>
<rect x="402.20" y="464.42" width="13.30" height="1.118" fill="#54ad92"/>
<rect x="341.20" y="465.04" width="12.60" height="1.118" fill="#f0c521"/>
<rect x="353.50" y="465.04" width="12.60" height="1.118" fill="#2952ac"/>
<rect x="365.80" y="465.04" width="12.40" height="1.118" fill="#3094b9"/>
<rect x="377.90" y="465.04" width="12.70" height="1.118" fill="#3196b8"/>
<rect x="390.30" y="465.04" width="12.20" height="1.118" fill="#2a7cbe"/>
<rect x="402.20" y="465.04" width="13.30" height="1.118" fill="#339db6"/>
<rect x="341.20" y="465.65" width="12.60" height="1.118" fill="#f8d818"/>
<rect x="353.50" y="465.65" width="12.60" height="1.118" fill="#2a71bc"/>
<rect x="365.80" y="465.65" width="12.40" height="1.118" fill="#2a65b8"/>
<rect x="377.90" y="465.65" width="12.70" height="1.118" fill="#43a5a4"/>
<rect x="390.30" y="465.65" width="12.20" height="1.118" fill="#2a66b9"/>
<rect x="402.20" y="465.65" width="13.30" height="1.118" fill="#46a6a1"/>
<rect x="341.20" y="466.27" width="12.60" height="1.118" fill="#f3cd1d"/>
<rect x="353.50" y="466.27" width="12.60" height="1.118" fill="#2a6fbb"/>
<rect x="365.80" y="466.27" width="12.40" height="1.118" fill="#2d89bc"/>
<rect x="377.90" y="466.27" width="12.70" height="1.118" fill="#43a5a4"/>
<rect x="390.30" y="466.27" width="12.20" height="1.118" fill="#2a6dba"/>
<rect x="402.20" y="466.27" width="13.30" height="1.118" fill="#2c87bd"/>
<rect x="341.20" y="466.89" width="12.60" height="1.118" fill="#f1c81f"/>
<rect x="353.50" y="466.89" width="12.60" height="1.118" fill="#2a75bd"/>
<rect x="365.80" y="466.89" width="12.40" height="1.118" fill="#2a68b9"/>
<rect x="377.90" y="466.89" width="12.70" height="1.118" fill="#8fb45a"/>
<rect x="390.30" y="466.89" width="12.20" height="1.118" fill="#2a7cbf"/>
<rect x="402.20" y="466.89" width="13.30" height="1.118" fill="#70b176"/>
<rect x="341.20" y="467.51" width="12.60" height="1.118" fill="#f1c81f"/>
<rect x="353.50" y="467.51" width="12.60" height="1.118" fill="#2a62b7"/>
<rect x="365.80" y="467.51" width="12.40" height="1.118" fill="#3197b8"/>
<rect x="377.90" y="467.51" width="12.70" height="1.118" fill="#7eb268"/>
<rect x="390.30" y="467.51" width="12.20" height="1.118" fill="#2a77bd"/>
<rect x="402.20" y="467.51" width="13.30" height="1.118" fill="#93b457"/>
<rect x="341.20" y="468.13" width="12.60" height="1.118" fill="#f2ca1e"/>
<rect x="353.50" y="468.13" width="12.60" height="1.118" fill="#2955af"/>
<rect x="365.80" y="468.13" width="12.40" height="1.118" fill="#2a74bc"/>
<rect x="377.90" y="468.13" width="12.70" height="1.118" fill="#a6b44d"/>
<rect x="390.30" y="468.13" width="12.20" height="1.118" fill="#2a67b9"/>
<rect x="402.20" y="468.13" width="13.30" height="1.118" fill="#47a7a0"/>
<rect x="341.20" y="468.75" width="12.60" height="1.118" fill="#ecc224"/>
<rect x="353.50" y="468.75" width="12.60" height="1.118" fill="#28439e"/>
<rect x="365.80" y="468.75" width="12.40" height="1.118" fill="#2a73bc"/>
<rect x="377.90" y="468.75" width="12.70" height="1.118" fill="#6db179"/>
<rect x="390.30" y="468.75" width="12.20" height="1.118" fill="#2a69b9"/>
<rect x="402.20" y="468.75" width="13.30" height="1.118" fill="#2b83be"/>
<rect x="341.20" y="469.36" width="12.60" height="1.118" fill="#f4ce1c"/>
<rect x="353.50" y="469.36" width="12.60" height="1.118" fill="#295ab4"/>
<rect x="365.80" y="469.36" width="12.40" height="1.118" fill="#2a6bba"/>
<rect x="377.90" y="469.36" width="12.70" height="1.118" fill="#87b360"/>
<rect x="390.30" y="469.36" width="12.20" height="1.118" fill="#2d8abc"/>
<rect x="402.20" y="469.36" width="13.30" height="1.118" fill="#2a6bba"/>
<rect x="341.20" y="469.98" width="12.60" height="1.118" fill="#f2cb1e"/>
<rect x="353.50" y="469.98" width="12.60" height="1.118" fill="#2a5cb6"/>
<rect x="365.80" y="469.98" width="12.40" height="1.118" fill="#2a70bb"/>
<rect x="377.90" y="469.98" width="12.70" height="1.118" fill="#cdb638"/>
<rect x="390.30" y="469.98" width="12.20" height="1.118" fill="#3195b8"/>
<rect x="402.20" y="469.98" width="13.30" height="1.118" fill="#7db269"/>
<rect x="341.20" y="470.60" width="12.60" height="1.118" fill="#f5d01b"/>
<rect x="353.50" y="470.60" width="12.60" height="1.118" fill="#294fa9"/>
<rect x="365.80" y="470.60" width="12.40" height="1.118" fill="#2a81bf"/>
<rect x="377.90" y="470.60" width="12.70" height="1.118" fill="#4ba99b"/>
<rect x="390.30" y="470.60" width="12.20" height="1.118" fill="#2e8cbb"/>
<rect x="402.20" y="470.60" width="13.30" height="1.118" fill="#3298b7"/>
<rect x="341.20" y="471.22" width="12.60" height="1.118" fill="#f3cb1e"/>
<rect x="353.50" y="471.22" width="12.60" height="1.118" fill="#2a6ab9"/>
<rect x="365.80" y="471.22" width="12.40" height="1.118" fill="#2a65b8"/>
<rect x="377.90" y="471.22" width="12.70" height="1.118" fill="#81b365"/>
<rect x="390.30" y="471.22" width="12.20" height="1.118" fill="#2a78be"/>
<rect x="402.20" y="471.22" width="13.30" height="1.118" fill="#91b458"/>
<rect x="341.20" y="471.84" width="12.60" height="1.118" fill="#f0c521"/>
<rect x="353.50" y="471.84" width="12.60" height="1.118" fill="#3093b9"/>
<rect x="365.80" y="471.84" width="12.40" height="1.118" fill="#2b85be"/>
<rect x="377.90" y="471.84" width="12.70" height="1.118" fill="#4eaa98"/>
<rect x="390.30" y="471.84" width="12.20" height="1.118" fill="#2a76bd"/>
<rect x="402.20" y="471.84" width="13.30" height="1.118" fill="#2a7bbe"/>
<rect x="341.20" y="472.45" width="12.60" height="1.118" fill="#f4ce1c"/>
<rect x="353.50" y="472.45" width="12.60" height="1.118" fill="#28419c"/>
<rect x="365.80" y="472.45" width="12.40" height="1.118" fill="#2a66b8"/>
<rect x="377.90" y="472.45" width="12.70" height="1.118" fill="#65b080"/>
<rect x="390.30" y="472.45" width="12.20" height="1.118" fill="#295bb5"/>
<rect x="402.20" y="472.45" width="13.30" height="1.118" fill="#2a65b8"/>
<rect x="341.20" y="473.07" width="12.60" height="1.118" fill="#e7c027"/>
<rect x="353.50" y="473.07" width="12.60" height="1.118" fill="#2a71bc"/>
<rect x="365.80" y="473.07" width="12.40" height="1.118" fill="#2e8dbb"/>
<rect x="377.90" y="473.07" width="12.70" height="1.118" fill="#71b175"/>
<rect x="390.30" y="473.07" width="12.20" height="1.118" fill="#2e8dbb"/>
<rect x="402.20" y="473.07" width="13.30" height="1.118" fill="#2d8bbc"/>
<rect x="341.20" y="473.69" width="12.60" height="1.118" fill="#f4d01b"/>
<rect x="353.50" y="473.69" width="12.60" height="1.118" fill="#2848a3"/>
<rect x="365.80" y="473.69" width="12.40" height="1.118" fill="#2a68b9"/>
<rect x="377.90" y="473.69" width="12.70" height="1.118" fill="#beb440"/>
<rect x="390.30" y="473.69" width="12.20" height="1.118" fill="#2a6dba"/>
<rect x="402.20" y="473.69" width="13.30" height="1.118" fill="#2a7ebf"/>
<rect x="341.20" y="474.31" width="12.60" height="1.118" fill="#f0c521"/>
<rect x="353.50" y="474.31" width="12.60" height="1.118" fill="#2955af"/>
<rect x="365.80" y="474.31" width="12.40" height="1.118" fill="#2a67b9"/>
<rect x="377.90" y="474.31" width="12.70" height="1.118" fill="#83b363"/>
<rect x="390.30" y="474.31" width="12.20" height="1.118" fill="#2a76bd"/>
<rect x="402.20" y="474.31" width="13.30" height="1.118" fill="#38a0b0"/>
<rect x="341.20" y="474.93" width="12.60" height="1.118" fill="#e8c027"/>
<rect x="353.50" y="474.93" width="12.60" height="1.118" fill="#2955af"/>
<rect x="365.80" y="474.93" width="12.40" height="1.118" fill="#2a5eb6"/>
<rect x="377.90" y="474.93" width="12.70" height="1.118" fill="#6db179"/>
<rect x="390.30" y="474.93" width="12.20" height="1.118" fill="#2a6bba"/>
<rect x="402.20" y="474.93" width="13.30" height="1.118" fill="#7bb26c"/>
<rect x="341.20" y="475.55" width="12.60" height="1.118" fill="#f8d818"/>
<rect x="353.50" y="475.55" width="12.60" height="1.118" fill="#2a5db6"/>
<rect x="365.80" y="475.55" width="12.40" height="1.118" fill="#2a79be"/>
<rect x="377.90" y="475.55" width="12.70" height="1.118" fill="#4ca99b"/>
<rect x="390.30" y="475.55" width="12.20" height="1.118" fill="#2a74bc"/>
<rect x="402.20" y="475.55" width="13.30" height="1.118" fill="#3092b9"/>
<rect x="341.20" y="476.16" width="12.60" height="1.118" fill="#f8d818"/>
<rect x="353.50" y="476.16" width="12.60" height="1.118" fill="#2a80bf"/>
<rect x="365.80" y="476.16" width="12.40" height="1.118" fill="#2a65b8"/>
<rect x="377.90" y="476.16" width="12.70" height="1.118" fill="#b9b443"/>
<rect x="390.30" y="476.16" width="12.20" height="1.118" fill="#2a6dba"/>
<rect x="402.20" y="476.16" width="13.30" height="1.118" fill="#71b175"/>
<rect x="341.20" y="476.78" width="12.60" height="1.118" fill="#f0c421"/>
<rect x="353.50" y="476.78" width="12.60" height="1.118" fill="#273893"/>
<rect x="365.80" y="476.78" width="12.40" height="1.118" fill="#2a6dba"/>
<rect x="377.90" y="476.78" width="12.70" height="1.118" fill="#8db45b"/>
<rect x="390.30" y="476.78" width="12.20" height="1.118" fill="#2d89bc"/>
<rect x="402.20" y="476.78" width="13.30" height="1.118" fill="#349eb5"/>
<rect x="341.20" y="477.40" width="12.60" height="1.118" fill="#f3cb1e"/>
<rect x="353.50" y="477.40" width="12.60" height="1.118" fill="#2a5cb6"/>
<rect x="365.80" y="477.40" width="12.40" height="1.118" fill="#2a7cbe"/>
<rect x="377.90" y="477.40" width="12.70" height="1.118" fill="#46a6a1"/>
<rect x="390.30" y="477.40" width="12.20" height="1.118" fill="#2954af"/>
<rect x="402.20" y="477.40" width="13.30" height="1.118" fill="#3aa1ae"/>
<rect x="341.20" y="478.02" width="12.60" height="1.118" fill="#f4ce1c"/>
<rect x="353.50" y="478.02" width="12.60" height="1.118" fill="#2a6cba"/>
<rect x="365.80" y="478.02" width="12.40" height="1.118" fill="#2a7bbe"/>
<rect x="377.90" y="478.02" width="12.70" height="1.118" fill="#81b366"/>
<rect x="390.30" y="478.02" width="12.20" height="1.118" fill="#2a6aba"/>
<rect x="402.20" y="478.02" width="13.30" height="1.118" fill="#50ab95"/>
<rect x="341.20" y="478.64" width="12.60" height="1.118" fill="#f4cf1c"/>
<rect x="353.50" y="478.64" width="12.60" height="1.118" fill="#2a6ebb"/>
<rect x="365.80" y="478.64" width="12.40" height="1.118" fill="#2f90ba"/>
<rect x="377.90" y="478.64" width="12.70" height="1.118" fill="#4daa99"/>
<rect x="390.30" y="478.64" width="12.20" height="1.118" fill="#2a73bc"/>
<rect x="402.20" y="478.64" width="13.30" height="1.118" fill="#61b084"/>
<rect x="341.20" y="479.25" width="12.60" height="1.118" fill="#f4cf1c"/>
<rect x="353.50" y="479.25" width="12.60" height="1.118" fill="#2a61b7"/>
<rect x="365.80" y="479.25" width="12.40" height="1.118" fill="#2956b0"/>
<rect x="377.90" y="479.25" width="12.70" height="1.118" fill="#50ab96"/>
<rect x="390.30" y="479.25" width="12.20" height="1.118" fill="#28429d"/>
<rect x="402.20" y="479.25" width="13.30" height="1.118" fill="#3299b7"/>
<rect x="341.20" y="479.87" width="12.60" height="1.118" fill="#f1c720"/>
<rect x="353.50" y="479.87" width="12.60" height="1.118" fill="#2b83be"/>
<rect x="365.80" y="479.87" width="12.40" height="1.118" fill="#2b84be"/>
<rect x="377.90" y="479.87" width="12.70" height="1.118" fill="#58af8d"/>
<rect x="390.30" y="479.87" width="12.20" height="1.118" fill="#2b85be"/>
<rect x="402.20" y="479.87" width="13.30" height="1.118" fill="#3197b8"/>
<rect x="341.20" y="480.49" width="12.60" height="1.118" fill="#f7d618"/>
<rect x="353.50" y="480.49" width="12.60" height="1.118" fill="#2955af"/>
<rect x="365.80" y="480.49" width="12.40" height="1.118" fill="#2a7ebf"/>
<rect x="377.90" y="480.49" width="12.70" height="1.118" fill="#c1b43f"/>
<rect x="390.30" y="480.49" width="12.20" height="1.118" fill="#2a62b7"/>
<rect x="402.20" y="480.49" width="13.30" height="1.118" fill="#3aa0af"/>
<rect x="341.20" y="481.11" width="12.60" height="1.118" fill="#d7ba31"/>
<rect x="353.50" y="481.11" width="12.60" height="1.118" fill="#2a5cb6"/>
<rect x="365.80" y="481.11" width="12.40" height="1.118" fill="#2a71bc"/>
<rect x="377.90" y="481.11" width="12.70" height="1.118" fill="#a5b44e"/>
<rect x="390.30" y="481.11" width="12.20" height="1.118" fill="#2c86bd"/>
<rect x="402.20" y="481.11" width="13.30" height="1.118" fill="#2c87bd"/>
<rect x="341.20" y="481.73" width="12.60" height="1.118" fill="#f3cd1d"/>
<rect x="353.50" y="481.73" width="12.60" height="1.118" fill="#2952ac"/>
<rect x="365.80" y="481.73" width="12.40" height="1.118" fill="#2a67b9"/>
<rect x="377.90" y="481.73" width="12.70" height="1.118" fill="#6ab17c"/>
<rect x="390.30" y="481.73" width="12.20" height="1.118" fill="#2a77bd"/>
<rect x="402.20" y="481.73" width="13.30" height="1.118" fill="#379fb2"/>
<rect x="341.20" y="482.35" width="12.60" height="1.118" fill="#f1c720"/>
<rect x="353.50" y="482.35" width="12.60" height="1.118" fill="#2958b2"/>
<rect x="365.80" y="482.35" width="12.40" height="1.118" fill="#2a69b9"/>
<rect x="377.90" y="482.35" width="12.70" height="1.118" fill="#71b174"/>
<rect x="390.30" y="482.35" width="12.20" height="1.118" fill="#3196b8"/>
<rect x="402.20" y="482.35" width="13.30" height="1.118" fill="#359eb4"/>
<rect x="341.20" y="482.96" width="12.60" height="1.118" fill="#f2ca1e"/>
<rect x="353.50" y="482.96" width="12.60" height="1.118" fill="#273f9a"/>
<rect x="365.80" y="482.96" width="12.40" height="1.118" fill="#28419b"/>
<rect x="377.90" y="482.96" width="12.70" height="1.118" fill="#4ca99b"/>
<rect x="390.30" y="482.96" width="12.20" height="1.118" fill="#2a78bd"/>
<rect x="402.20" y="482.96" width="13.30" height="1.118" fill="#2f90ba"/>
<rect x="341.20" y="483.58" width="12.60" height="1.118" fill="#e6c028"/>
<rect x="353.50" y="483.58" width="12.60" height="1.118" fill="#284ca7"/>
<rect x="365.80" y="483.58" width="12.40" height="1.118" fill="#294ea9"/>
<rect x="377.90" y="483.58" width="12.70" height="1.118" fill="#6bb17b"/>
<rect x="390.30" y="483.58" width="12.20" height="1.118" fill="#2a5cb6"/>
<rect x="402.20" y="483.58" width="13.30" height="1.118" fill="#41a4a6"/>
<rect x="341.20" y="484.20" width="12.60" height="1.118" fill="#f3cd1d"/>
<rect x="353.50" y="484.20" width="12.60" height="1.118" fill="#2a66b8"/>
<rect x="365.80" y="484.20" width="12.40" height="1.118" fill="#2b83be"/>
<rect x="377.90" y="484.20" width="12.70" height="1.118" fill="#79b26d"/>
<rect x="390.30" y="484.20" width="12.20" height="1.118" fill="#42a4a6"/>
<rect x="402.20" y="484.20" width="13.30" height="1.118" fill="#359eb4"/>
<rect x="341.20" y="484.82" width="12.60" height="1.118" fill="#f3cd1d"/>
<rect x="353.50" y="484.82" width="12.60" height="1.118" fill="#27338e"/>
<rect x="365.80" y="484.82" width="12.40" height="1.118" fill="#2a65b8"/>
<rect x="377.90" y="484.82" width="12.70" height="1.118" fill="#7cb26a"/>
<rect x="390.30" y="484.82" width="12.20" height="1.118" fill="#2a5cb6"/>
<rect x="402.20" y="484.82" width="13.30" height="1.118" fill="#2b85be"/>
<rect x="341.20" y="485.44" width="12.60" height="1.118" fill="#f3cd1d"/>
<rect x="353.50" y="485.44" width="12.60" height="1.118" fill="#2a73bc"/>
<rect x="365.80" y="485.44" width="12.40" height="1.118" fill="#2a80bf"/>
<rect x="377.90" y="485.44" width="12.70" height="1.118" fill="#c0b43f"/>
<rect x="390.30" y="485.44" width="12.20" height="1.118" fill="#2a82bf"/>
<rect x="402.20" y="485.44" width="13.30" height="1.118" fill="#5ab08b"/>
<rect x="341.20" y="486.05" width="12.60" height="1.118" fill="#e9c126"/>
<rect x="353.50" y="486.05" width="12.60" height="1.118" fill="#295bb5"/>
<rect x="365.80" y="486.05" width="12.40" height="1.118" fill="#2a5eb6"/>
<rect x="377.90" y="486.05" width="12.70" height="1.118" fill="#5fb086"/>
<rect x="390.30" y="486.05" width="12.20" height="1.118" fill="#2a70bb"/>
<rect x="402.20" y="486.05" width="13.30" height="1.118" fill="#379fb1"/>
<rect x="341.20" y="486.67" width="12.60" height="1.118" fill="#eec323"/>
<rect x="353.50" y="486.67" width="12.60" height="1.118" fill="#284da7"/>
<rect x="365.80" y="486.67" width="12.40" height="1.118" fill="#2a77bd"/>
<rect x="377.90" y="486.67" width="12.70" height="1.118" fill="#3ba1ad"/>
<rect x="390.30" y="486.67" width="12.20" height="1.118" fill="#2a7dbf"/>
<rect x="402.20" y="486.67" width="13.30" height="1.118" fill="#2d89bc"/>
<rect x="341.20" y="487.29" width="12.60" height="1.118" fill="#f7d618"/>
<rect x="353.50" y="487.29" width="12.60" height="1.118" fill="#2a5eb6"/>
<rect x="365.80" y="487.29" width="12.40" height="1.118" fill="#2a5db6"/>
<rect x="377.90" y="487.29" width="12.70" height="1.118" fill="#8cb45b"/>
<rect x="390.30" y="487.29" width="12.20" height="1.118" fill="#2a5cb6"/>
<rect x="402.20" y="487.29" width="13.30" height="1.118" fill="#2f8fba"/>
<rect x="341.20" y="487.91" width="12.60" height="1.118" fill="#f3cd1d"/>
<rect x="353.50" y="487.91" width="12.60" height="1.118" fill="#2a66b8"/>
<rect x="365.80" y="487.91" width="12.40" height="1.118" fill="#295bb5"/>
<rect x="377.90" y="487.91" width="12.70" height="1.118" fill="#5eb087"/>
<rect x="390.30" y="487.91" width="12.20" height="1.118" fill="#2a76bd"/>
<rect x="402.20" y="487.91" width="13.30" height="1.118" fill="#2c86bd"/>
<rect x="341.20" y="488.53" width="12.60" height="1.118" fill="#f3cd1d"/>
<rect x="353.50" y="488.53" width="12.60" height="1.118" fill="#28449e"/>
<rect x="365.80" y="488.53" width="12.40" height="1.118" fill="#27338e"/>
<rect x="377.90" y="488.53" width="12.70" height="1.118" fill="#4faa98"/>
<rect x="390.30" y="488.53" width="12.20" height="1.118" fill="#2a6bba"/>
<rect x="402.20" y="488.53" width="13.30" height="1.118" fill="#2b83be"/>
<rect x="341.20" y="489.15" width="12.60" height="1.118" fill="#eec322"/>
<rect x="353.50" y="489.15" width="12.60" height="1.118" fill="#2a65b8"/>
<rect x="365.80" y="489.15" width="12.40" height="1.118" fill="#2a5cb6"/>
<rect x="377.90" y="489.15" width="12.70" height="1.118" fill="#59af8c"/>
<rect x="390.30" y="489.15" width="12.20" height="1.118" fill="#2a76bd"/>
<rect x="402.20" y="489.15" width="13.30" height="1.118" fill="#46a6a2"/>
<rect x="341.20" y="489.76" width="12.60" height="1.118" fill="#f1c620"/>
<rect x="353.50" y="489.76" width="12.60" height="1.118" fill="#2a5db6"/>
<rect x="365.80" y="489.76" width="12.40" height="1.118" fill="#273c97"/>
<rect x="377.90" y="489.76" width="12.70" height="1.118" fill="#45a6a3"/>
<rect x="390.30" y="489.76" width="12.20" height="1.118" fill="#2e8ebb"/>
<rect x="402.20" y="489.76" width="13.30" height="1.118" fill="#2f91ba"/>
<rect x="341.20" y="490.38" width="12.60" height="0.618" fill="#f7d718"/>
<rect x="353.50" y="490.38" width="12.60" height="0.618" fill="#2a6bba"/>
<rect x="365.80" y="490.38" width="12.40" height="0.618" fill="#2847a2"/>
<rect x="377.90" y="490.38" width="12.70" height="0.618" fill="#2a7dbf"/>
<rect x="390.30" y="490.38" width="12.20" height="0.618" fill="#2a66b8"/>
<rect x="402.20" y="490.38" width="13.30" height="0.618" fill="#2a79be"/>
<rect x="341.20" y="491.00" width="12.35" height="3.70" fill="#273994"/>
<rect x="341.20" y="494.65" width="12.35" height="3.70" fill="#273994"/>
<rect x="353.50" y="491.00" width="12.35" height="3.70" fill="#f0c422"/>
<rect x="353.50" y="494.65" width="12.35" height="3.70" fill="#6eb178"/>
<rect x="365.80" y="491.00" width="12.15" height="3.70" fill="#6eb178"/>
<rect x="365.80" y="494.65" width="12.15" height="3.70" fill="#e9c126"/>
<rect x="377.90" y="491.00" width="12.45" height="3.70" fill="#2a60b7"/>
<rect x="377.90" y="494.65" width="12.45" height="3.70" fill="#2a6bba"/>
<rect x="390.30" y="491.00" width="11.95" height="3.70" fill="#4eaa98"/>
<rect x="390.30" y="494.65" width="11.95" height="3.70" fill="#64b082"/>
<rect x="402.20" y="491.00" width="13.05" height="3.70" fill="#3ba1ad"/>
<rect x="402.20" y="494.65" width="13.05" height="3.70" fill="#5ab08c"/>
<rect x="341.20" y="423.00" width="74.00" height="75.30" fill="none" stroke="#111" stroke-width="1.2"/>
<text x="336.80" y="460.20" font-size="9.3" text-anchor="middle" fill="#222" textLength="48.80" lengthAdjust="spacingAndGlyphs" stroke="#222" stroke-width="0.14" transform="rotate(-90 336.80 460.20)">1032 genes</text>
<text x="353.10" y="501.40" font-size="9.1" text-anchor="end" fill="#222" stroke="#222" stroke-width="0.14" transform="rotate(-90 353.10 501.40)">Baseline</text>
<text x="365.00" y="501.40" font-size="9.1" text-anchor="end" fill="#222" stroke="#222" stroke-width="0.14" transform="rotate(-90 365.00 501.40)">C2D1</text>
<text x="375.90" y="501.40" font-size="9.1" text-anchor="end" fill="#222" stroke="#222" stroke-width="0.14" transform="rotate(-90 375.90 501.40)">C4D1</text>
<text x="387.20" y="501.40" font-size="9.1" text-anchor="end" fill="#222" stroke="#222" stroke-width="0.14" transform="rotate(-90 387.20 501.40)">Relapse</text>
<text x="398.80" y="501.40" font-size="9.1" text-anchor="end" fill="#222" stroke="#222" stroke-width="0.14" transform="rotate(-90 398.80 501.40)">C6D1</text>
<text x="410.80" y="501.40" font-size="9.1" text-anchor="end" fill="#222" stroke="#222" stroke-width="0.14" transform="rotate(-90 410.80 501.40)">Progression</text>
<text x="427.30" y="425.30" font-size="7.0" fill="#222" stroke="#222" stroke-width="0.1">IFIT3</text>
<text x="427.30" y="434.10" font-size="7.0" fill="#222" stroke="#222" stroke-width="0.1">IFIT1</text>
<text x="427.30" y="442.10" font-size="7.0" fill="#222" stroke="#222" stroke-width="0.1">IFIT5</text>
<text x="427.30" y="451.10" font-size="7.0" fill="#222" stroke="#222" stroke-width="0.1">OAS3</text>
<text x="427.30" y="459.40" font-size="7.0" fill="#222" stroke="#222" stroke-width="0.1">IFITM5</text>
<text x="427.30" y="468.00" font-size="7.0" fill="#222" stroke="#222" stroke-width="0.1">CCL4L2</text>
<path d="M415.6 431.6 H419.8 M419.8 431.6 C421.5 431.6 421.5 422.8 424 422.8 H426.6 M419.8 431.6 H426.6 M419.8 431.6 C421.5 431.6 421.5 439.6 424 439.6 H426.6 M415.6 435.3 H417.2 C421 435.3 420.5 448.6 424.5 448.6 H426.6 M415.6 444.4 H417.2 C421 444.4 420.5 456.9 424.5 456.9 H426.6 M415.6 453.8 H417.2 C421 453.8 420.5 465.5 424.5 465.5 H426.6" fill="none" stroke="#1a1a1a" stroke-width="0.8"/>
<line x1="418.10" y1="477.20" x2="426.20" y2="477.20" stroke="#222" stroke-width="0.9"/>
<text x="427.30" y="479.70" font-size="7.0" fill="#222" stroke="#222" stroke-width="0.1">MX1</text>
<text x="431.00" y="492.80" font-size="8.4" textLength="39.60" lengthAdjust="spacingAndGlyphs" stroke="#111" stroke-width="0.3">Row Z-Scores</text>
<rect x="431.00" y="495.10" width="39.60" height="4.00" fill="url(#gz)" stroke="#222" stroke-width="0.8"/>
<text x="432.20" y="507.60" font-size="7.2" text-anchor="middle" fill="#222" textLength="17.70" lengthAdjust="spacingAndGlyphs" stroke="#222" stroke-width="0.14">−1.93</text>
<text x="470.00" y="507.60" font-size="7.2" text-anchor="middle" fill="#222" stroke="#222" stroke-width="0.14">2</text>
<rect x="0.6" y="0.6" width="518.8" height="569.8" fill="none" stroke="#000" stroke-width="1.4"/>
</svg>
</body></html>
